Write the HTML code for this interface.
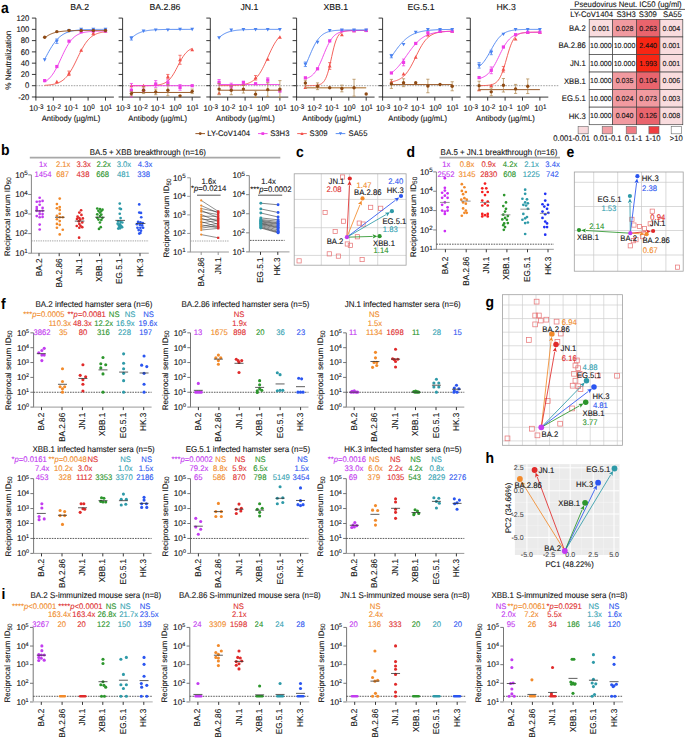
<!DOCTYPE html>
<html><head><meta charset="utf-8"><style>
html,body{margin:0;padding:0;background:#fff;}
svg{display:block;font-family:"Liberation Sans",sans-serif;text-rendering:geometricPrecision;}
</style></head><body>
<svg width="685" height="737" viewBox="0 0 685 737">
<rect width="685" height="737" fill="#fff"/>
<text transform="translate(1,12.8) scale(0.92,1)" font-size="15.2" text-anchor="start" fill="#000" font-weight="bold" >a</text>
<line x1="35.9" y1="18.1" x2="35.9" y2="97.1" stroke="#222" stroke-width="0.9" />
<line x1="35.45" y1="97.1" x2="113.9" y2="97.1" stroke="#222" stroke-width="0.9" />
<line x1="31.9" y1="96.97" x2="35.9" y2="96.97" stroke="#222" stroke-width="0.9" />
<text transform="translate(29.3,99.67) scale(0.95,1)" font-size="8.1" text-anchor="end" fill="#111" stroke="#111" stroke-width="0.1" >-20</text>
<line x1="31.9" y1="85.7" x2="35.9" y2="85.7" stroke="#222" stroke-width="0.9" />
<text transform="translate(29.3,88.4) scale(0.95,1)" font-size="8.1" text-anchor="end" fill="#111" stroke="#111" stroke-width="0.1" >0</text>
<line x1="31.9" y1="74.43" x2="35.9" y2="74.43" stroke="#222" stroke-width="0.9" />
<text transform="translate(29.3,77.13) scale(0.95,1)" font-size="8.1" text-anchor="end" fill="#111" stroke="#111" stroke-width="0.1" >20</text>
<line x1="31.9" y1="63.16" x2="35.9" y2="63.16" stroke="#222" stroke-width="0.9" />
<text transform="translate(29.3,65.86) scale(0.95,1)" font-size="8.1" text-anchor="end" fill="#111" stroke="#111" stroke-width="0.1" >40</text>
<line x1="31.9" y1="51.89" x2="35.9" y2="51.89" stroke="#222" stroke-width="0.9" />
<text transform="translate(29.3,54.59) scale(0.95,1)" font-size="8.1" text-anchor="end" fill="#111" stroke="#111" stroke-width="0.1" >60</text>
<line x1="31.9" y1="40.62" x2="35.9" y2="40.62" stroke="#222" stroke-width="0.9" />
<text transform="translate(29.3,43.32) scale(0.95,1)" font-size="8.1" text-anchor="end" fill="#111" stroke="#111" stroke-width="0.1" >80</text>
<line x1="31.9" y1="29.35" x2="35.9" y2="29.35" stroke="#222" stroke-width="0.9" />
<text transform="translate(29.3,32.05) scale(0.95,1)" font-size="8.1" text-anchor="end" fill="#111" stroke="#111" stroke-width="0.1" >100</text>
<line x1="31.9" y1="18.08" x2="35.9" y2="18.08" stroke="#222" stroke-width="0.9" />
<text transform="translate(29.3,20.78) scale(0.95,1)" font-size="8.1" text-anchor="end" fill="#111" stroke="#111" stroke-width="0.1" >120</text>
<line x1="35.9" y1="97.1" x2="35.9" y2="100.6" stroke="#222" stroke-width="0.9" />
<text transform="translate(36.4,111) scale(0.95,1)" font-size="8.3" text-anchor="middle" fill="#111" stroke="#111" stroke-width="0.1" >10<tspan font-size="6.7" dy="-2.3">-3</tspan></text>
<line x1="53.3" y1="97.1" x2="53.3" y2="100.6" stroke="#222" stroke-width="0.9" />
<text transform="translate(53.8,111) scale(0.95,1)" font-size="8.3" text-anchor="middle" fill="#111" stroke="#111" stroke-width="0.1" >10<tspan font-size="6.7" dy="-2.3">-2</tspan></text>
<line x1="70.7" y1="97.1" x2="70.7" y2="100.6" stroke="#222" stroke-width="0.9" />
<text transform="translate(71.2,111) scale(0.95,1)" font-size="8.3" text-anchor="middle" fill="#111" stroke="#111" stroke-width="0.1" >10<tspan font-size="6.7" dy="-2.3">-1</tspan></text>
<line x1="88.1" y1="97.1" x2="88.1" y2="100.6" stroke="#222" stroke-width="0.9" />
<text transform="translate(88.6,111) scale(0.95,1)" font-size="8.3" text-anchor="middle" fill="#111" stroke="#111" stroke-width="0.1" >10<tspan font-size="6.7" dy="-2.3">0</tspan></text>
<line x1="105.5" y1="97.1" x2="105.5" y2="100.6" stroke="#222" stroke-width="0.9" />
<text transform="translate(106,111) scale(0.95,1)" font-size="8.3" text-anchor="middle" fill="#111" stroke="#111" stroke-width="0.1" >10<tspan font-size="6.7" dy="-2.3">1</tspan></text>
<text transform="translate(71,120.5) scale(0.95,1)" font-size="8.1" text-anchor="middle" fill="#111" stroke="#111" stroke-width="0.1" >Antibody (µg/mL)</text>
<text x="79.7" y="9.6" font-size="8.7" text-anchor="middle" fill="#111" stroke="#111" stroke-width="0.1" >BA.2</text>
<line x1="35.9" y1="85.7" x2="123.9" y2="85.7" stroke="#8a8a8a" stroke-width="0.8" stroke-dasharray="1.6,1.1"/>
<polyline points="44.69,85.32 45.7,85.26 46.72,85.19 47.73,85.1 48.74,85 49.76,84.89 50.77,84.75 51.78,84.6 52.8,84.42 53.81,84.21 54.82,83.97 55.84,83.7 56.85,83.38 57.87,83.01 58.88,82.58 59.89,82.1 60.91,81.54 61.92,80.91 62.93,80.19 63.95,79.38 64.96,78.47 65.97,77.44 66.99,76.3 68,75.04 69.01,73.65 70.03,72.14 71.04,70.51 72.05,68.76 73.07,66.91 74.08,64.96 75.09,62.95 76.11,60.87 77.12,58.77 78.14,56.67 79.15,54.58 80.16,52.54 81.18,50.57 82.19,48.68 83.2,46.89 84.22,45.21 85.23,43.65 86.24,42.22 87.26,40.91 88.27,39.72 89.28,38.65 90.3,37.7 91.31,36.85 92.32,36.09 93.34,35.43 94.35,34.85 95.36,34.33 96.38,33.89 97.39,33.5 98.41,33.16 99.42,32.87 100.43,32.61 101.45,32.4 102.46,32.21 103.47,32.04 104.49,31.9 105.5,31.78" fill="none" stroke="#f2504a" stroke-width="0.9"/>
<path d="M56.85,79.86 L58.75,83.28 L54.95,83.28Z" fill="#f2504a"/>
<line x1="69.01" y1="71.05" x2="69.01" y2="75.56" stroke="#f2504a" stroke-width="0.75" />
<line x1="67.41" y1="71.05" x2="70.61" y2="71.05" stroke="#f2504a" stroke-width="0.75" />
<line x1="67.41" y1="75.56" x2="70.61" y2="75.56" stroke="#f2504a" stroke-width="0.75" />
<path d="M69.01,71.4 L70.91,74.82 L67.11,74.82Z" fill="#f2504a"/>
<path d="M81.18,48.3 L83.08,51.72 L79.28,51.72Z" fill="#f2504a"/>
<line x1="93.34" y1="31.6" x2="93.34" y2="34.98" stroke="#f2504a" stroke-width="0.75" />
<line x1="91.74" y1="31.6" x2="94.94" y2="31.6" stroke="#f2504a" stroke-width="0.75" />
<line x1="91.74" y1="34.98" x2="94.94" y2="34.98" stroke="#f2504a" stroke-width="0.75" />
<path d="M93.34,31.39 L95.24,34.81 L91.44,34.81Z" fill="#f2504a"/>
<path d="M105.5,29.14 L107.4,32.56 L103.6,32.56Z" fill="#f2504a"/>
<polyline points="44.69,81.93 45.7,81.33 46.72,80.63 47.73,79.84 48.74,78.95 49.76,77.93 50.77,76.8 51.78,75.53 52.8,74.13 53.81,72.6 54.82,70.93 55.84,69.13 56.85,67.22 57.87,65.2 58.88,63.1 59.89,60.94 60.91,58.75 61.92,56.55 62.93,54.38 63.95,52.26 64.96,50.21 65.97,48.26 66.99,46.42 68,44.7 69.01,43.12 70.03,41.67 71.04,40.36 72.05,39.18 73.07,38.13 74.08,37.19 75.09,36.37 76.11,35.64 77.12,35.01 78.14,34.46 79.15,33.98 80.16,33.56 81.18,33.2 82.19,32.89 83.2,32.62 84.22,32.39 85.23,32.2 86.24,32.03 87.26,31.88 88.27,31.76 89.28,31.65 90.3,31.56 91.31,31.49 92.32,31.42 93.34,31.36 94.35,31.32 95.36,31.28 96.38,31.24 97.39,31.21 98.41,31.19 99.42,31.16 100.43,31.15 101.45,31.13 102.46,31.12 103.47,31.11 104.49,31.1 105.5,31.09" fill="none" stroke="#ee3ce6" stroke-width="0.9"/>
<rect x="43.09" y="79.03" width="3.2" height="3.2" fill="#ee3ce6"/>
<rect x="55.25" y="64.94" width="3.2" height="3.2" fill="#ee3ce6"/>
<rect x="67.41" y="39.58" width="3.2" height="3.2" fill="#ee3ce6"/>
<rect x="79.58" y="30" width="3.2" height="3.2" fill="#ee3ce6"/>
<rect x="91.74" y="29.44" width="3.2" height="3.2" fill="#ee3ce6"/>
<rect x="103.9" y="29.44" width="3.2" height="3.2" fill="#ee3ce6"/>
<polyline points="44.69,59.18 45.7,57.29 46.72,55.41 47.73,53.54 48.74,51.71 49.76,49.93 50.77,48.21 51.78,46.57 52.8,45.01 53.81,43.54 54.82,42.16 55.84,40.88 56.85,39.7 57.87,38.61 58.88,37.62 59.89,36.72 60.91,35.9 61.92,35.16 62.93,34.5 63.95,33.91 64.96,33.38 65.97,32.9 66.99,32.48 68,32.11 69.01,31.78 70.03,31.48 71.04,31.22 72.05,31 73.07,30.79 74.08,30.62 75.09,30.46 76.11,30.32 77.12,30.2 78.14,30.1 79.15,30.01 80.16,29.92 81.18,29.85 82.19,29.79 83.2,29.74 84.22,29.69 85.23,29.65 86.24,29.61 87.26,29.58 88.27,29.55 89.28,29.52 90.3,29.5 91.31,29.48 92.32,29.47 93.34,29.45 94.35,29.44 95.36,29.43 96.38,29.42 97.39,29.41 98.41,29.4 99.42,29.4 100.43,29.39 101.45,29.38 102.46,29.38 103.47,29.38 104.49,29.37 105.5,29.37" fill="none" stroke="#4a82f0" stroke-width="0.9"/>
<path d="M44.69,61.68 L46.59,58.26 L42.79,58.26Z" fill="#4a82f0"/>
<line x1="56.85" y1="38.93" x2="56.85" y2="43.44" stroke="#4a82f0" stroke-width="0.75" />
<line x1="55.25" y1="38.93" x2="58.45" y2="38.93" stroke="#4a82f0" stroke-width="0.75" />
<line x1="55.25" y1="43.44" x2="58.45" y2="43.44" stroke="#4a82f0" stroke-width="0.75" />
<path d="M56.85,43.08 L58.75,39.66 L54.95,39.66Z" fill="#4a82f0"/>
<path d="M69.01,32.38 L70.91,28.96 L67.11,28.96Z" fill="#4a82f0"/>
<path d="M81.18,31.25 L83.08,27.83 L79.28,27.83Z" fill="#4a82f0"/>
<path d="M93.34,31.25 L95.24,27.83 L91.44,27.83Z" fill="#4a82f0"/>
<path d="M105.5,31.25 L107.4,27.83 L103.6,27.83Z" fill="#4a82f0"/>
<polyline points="44.69,37.94 45.7,37.12 46.72,36.37 47.73,35.7 48.74,35.1 49.76,34.56 50.77,34.08 51.78,33.66 52.8,33.28 53.81,32.94 54.82,32.65 55.84,32.38 56.85,32.15 57.87,31.95 58.88,31.77 59.89,31.61 60.91,31.47 61.92,31.35 62.93,31.24 63.95,31.14 64.96,31.06 65.97,30.99 66.99,30.92 68,30.87 69.01,30.82 70.03,30.78 71.04,30.74 72.05,30.71 73.07,30.68 74.08,30.65 75.09,30.63 76.11,30.61 77.12,30.59 78.14,30.58 79.15,30.57 80.16,30.56 81.18,30.55 82.19,30.54 83.2,30.53 84.22,30.52 85.23,30.52 86.24,30.51 87.26,30.51 88.27,30.5 89.28,30.5 90.3,30.5 91.31,30.5 92.32,30.49 93.34,30.49 94.35,30.49 95.36,30.49 96.38,30.49 97.39,30.49 98.41,30.48 99.42,30.48 100.43,30.48 101.45,30.48 102.46,30.48 103.47,30.48 104.49,30.48 105.5,30.48" fill="none" stroke="#8e4a14" stroke-width="0.9"/>
<circle cx="44.69" cy="37.24" r="1.7" fill="#8e4a14"/>
<circle cx="56.85" cy="31.6" r="1.7" fill="#8e4a14"/>
<circle cx="69.01" cy="30.48" r="1.7" fill="#8e4a14"/>
<circle cx="81.18" cy="30.48" r="1.7" fill="#8e4a14"/>
<circle cx="93.34" cy="30.48" r="1.7" fill="#8e4a14"/>
<circle cx="105.5" cy="30.48" r="1.7" fill="#8e4a14"/>
<line x1="122.6" y1="18.1" x2="122.6" y2="97.1" stroke="#222" stroke-width="0.9" />
<line x1="122.15" y1="97.1" x2="200.6" y2="97.1" stroke="#222" stroke-width="0.9" />
<line x1="118.6" y1="96.97" x2="122.6" y2="96.97" stroke="#222" stroke-width="0.9" />
<line x1="118.6" y1="85.7" x2="122.6" y2="85.7" stroke="#222" stroke-width="0.9" />
<line x1="118.6" y1="74.43" x2="122.6" y2="74.43" stroke="#222" stroke-width="0.9" />
<line x1="118.6" y1="63.16" x2="122.6" y2="63.16" stroke="#222" stroke-width="0.9" />
<line x1="118.6" y1="51.89" x2="122.6" y2="51.89" stroke="#222" stroke-width="0.9" />
<line x1="118.6" y1="40.62" x2="122.6" y2="40.62" stroke="#222" stroke-width="0.9" />
<line x1="118.6" y1="29.35" x2="122.6" y2="29.35" stroke="#222" stroke-width="0.9" />
<line x1="118.6" y1="18.08" x2="122.6" y2="18.08" stroke="#222" stroke-width="0.9" />
<line x1="122.6" y1="97.1" x2="122.6" y2="100.6" stroke="#222" stroke-width="0.9" />
<text transform="translate(123.1,111) scale(0.95,1)" font-size="8.3" text-anchor="middle" fill="#111" stroke="#111" stroke-width="0.1" >10<tspan font-size="6.7" dy="-2.3">-3</tspan></text>
<line x1="140" y1="97.1" x2="140" y2="100.6" stroke="#222" stroke-width="0.9" />
<text transform="translate(140.5,111) scale(0.95,1)" font-size="8.3" text-anchor="middle" fill="#111" stroke="#111" stroke-width="0.1" >10<tspan font-size="6.7" dy="-2.3">-2</tspan></text>
<line x1="157.4" y1="97.1" x2="157.4" y2="100.6" stroke="#222" stroke-width="0.9" />
<text transform="translate(157.9,111) scale(0.95,1)" font-size="8.3" text-anchor="middle" fill="#111" stroke="#111" stroke-width="0.1" >10<tspan font-size="6.7" dy="-2.3">-1</tspan></text>
<line x1="174.8" y1="97.1" x2="174.8" y2="100.6" stroke="#222" stroke-width="0.9" />
<text transform="translate(175.3,111) scale(0.95,1)" font-size="8.3" text-anchor="middle" fill="#111" stroke="#111" stroke-width="0.1" >10<tspan font-size="6.7" dy="-2.3">0</tspan></text>
<line x1="192.2" y1="97.1" x2="192.2" y2="100.6" stroke="#222" stroke-width="0.9" />
<text transform="translate(192.7,111) scale(0.95,1)" font-size="8.3" text-anchor="middle" fill="#111" stroke="#111" stroke-width="0.1" >10<tspan font-size="6.7" dy="-2.3">1</tspan></text>
<text transform="translate(157.7,120.5) scale(0.95,1)" font-size="8.1" text-anchor="middle" fill="#111" stroke="#111" stroke-width="0.1" >Antibody (µg/mL)</text>
<text x="165" y="9.6" font-size="8.7" text-anchor="middle" fill="#111" stroke="#111" stroke-width="0.1" >BA.2.86</text>
<line x1="122.6" y1="85.7" x2="210.6" y2="85.7" stroke="#8a8a8a" stroke-width="0.8" stroke-dasharray="1.6,1.1"/>
<polyline points="131.39,85.7 132.4,85.7 133.42,85.69 134.43,85.69 135.44,85.69 136.46,85.69 137.47,85.69 138.48,85.68 139.5,85.68 140.51,85.68 141.52,85.67 142.54,85.66 143.55,85.66 144.57,85.65 145.58,85.64 146.59,85.62 147.61,85.6 148.62,85.58 149.63,85.56 150.65,85.52 151.66,85.48 152.67,85.44 153.69,85.38 154.7,85.31 155.71,85.22 156.73,85.11 157.74,84.99 158.75,84.83 159.77,84.64 160.78,84.41 161.79,84.14 162.81,83.81 163.82,83.41 164.84,82.94 165.85,82.37 166.86,81.71 167.88,80.93 168.89,80.02 169.9,78.96 170.92,77.77 171.93,76.41 172.94,74.91 173.96,73.26 174.97,71.49 175.98,69.62 177,67.67 178.01,65.69 179.02,63.72 180.04,61.79 181.05,59.94 182.06,58.2 183.08,56.59 184.09,55.13 185.11,53.83 186.12,52.67 187.13,51.66 188.15,50.79 189.16,50.04 190.17,49.41 191.19,48.87 192.2,48.42" fill="none" stroke="#f2504a" stroke-width="0.9"/>
<path d="M131.39,83.8 L133.29,87.22 L129.49,87.22Z" fill="#f2504a"/>
<path d="M143.55,83.8 L145.45,87.22 L141.65,87.22Z" fill="#f2504a"/>
<path d="M155.71,82.67 L157.61,86.09 L153.81,86.09Z" fill="#f2504a"/>
<line x1="167.88" y1="74.43" x2="167.88" y2="78.94" stroke="#f2504a" stroke-width="0.75" />
<line x1="166.28" y1="74.43" x2="169.48" y2="74.43" stroke="#f2504a" stroke-width="0.75" />
<line x1="166.28" y1="78.94" x2="169.48" y2="78.94" stroke="#f2504a" stroke-width="0.75" />
<path d="M167.88,74.78 L169.78,78.2 L165.98,78.2Z" fill="#f2504a"/>
<line x1="180.04" y1="55.27" x2="180.04" y2="64.29" stroke="#f2504a" stroke-width="0.75" />
<line x1="178.44" y1="55.27" x2="181.64" y2="55.27" stroke="#f2504a" stroke-width="0.75" />
<line x1="178.44" y1="64.29" x2="181.64" y2="64.29" stroke="#f2504a" stroke-width="0.75" />
<path d="M180.04,57.88 L181.94,61.3 L178.14,61.3Z" fill="#f2504a"/>
<path d="M192.2,47.74 L194.1,51.16 L190.3,51.16Z" fill="#f2504a"/>
<line x1="131.39" y1="85.7" x2="192.2" y2="85.7" stroke="#ee3ce6" stroke-width="0.9" />
<line x1="131.39" y1="83.45" x2="131.39" y2="96.97" stroke="#ee3ce6" stroke-width="0.75" />
<line x1="129.79" y1="83.45" x2="132.99" y2="83.45" stroke="#ee3ce6" stroke-width="0.75" />
<line x1="129.79" y1="96.97" x2="132.99" y2="96.97" stroke="#ee3ce6" stroke-width="0.75" />
<rect x="129.79" y="88.61" width="3.2" height="3.2" fill="#ee3ce6"/>
<rect x="141.95" y="88.61" width="3.2" height="3.2" fill="#ee3ce6"/>
<line x1="155.71" y1="80.63" x2="155.71" y2="87.39" stroke="#ee3ce6" stroke-width="0.75" />
<line x1="154.11" y1="80.63" x2="157.31" y2="80.63" stroke="#ee3ce6" stroke-width="0.75" />
<line x1="154.11" y1="87.39" x2="157.31" y2="87.39" stroke="#ee3ce6" stroke-width="0.75" />
<rect x="154.11" y="82.41" width="3.2" height="3.2" fill="#ee3ce6"/>
<line x1="167.88" y1="80.06" x2="167.88" y2="85.7" stroke="#ee3ce6" stroke-width="0.75" />
<line x1="166.28" y1="80.06" x2="169.48" y2="80.06" stroke="#ee3ce6" stroke-width="0.75" />
<line x1="166.28" y1="85.7" x2="169.48" y2="85.7" stroke="#ee3ce6" stroke-width="0.75" />
<rect x="166.28" y="81.28" width="3.2" height="3.2" fill="#ee3ce6"/>
<line x1="180.04" y1="84.57" x2="180.04" y2="90.21" stroke="#ee3ce6" stroke-width="0.75" />
<line x1="178.44" y1="84.57" x2="181.64" y2="84.57" stroke="#ee3ce6" stroke-width="0.75" />
<line x1="178.44" y1="90.21" x2="181.64" y2="90.21" stroke="#ee3ce6" stroke-width="0.75" />
<rect x="178.44" y="85.79" width="3.2" height="3.2" fill="#ee3ce6"/>
<rect x="190.6" y="84.1" width="3.2" height="3.2" fill="#ee3ce6"/>
<polyline points="131.39,38.25 132.4,37.29 133.42,36.42 134.43,35.63 135.44,34.92 136.46,34.28 137.47,33.71 138.48,33.2 139.5,32.75 140.51,32.34 141.52,31.98 142.54,31.67 143.55,31.39 144.57,31.14 145.58,30.92 146.59,30.73 147.61,30.56 148.62,30.41 149.63,30.28 150.65,30.16 151.66,30.06 152.67,29.97 153.69,29.9 154.7,29.83 155.71,29.77 156.73,29.72 157.74,29.67 158.75,29.63 159.77,29.6 160.78,29.57 161.79,29.54 162.81,29.51 163.82,29.49 164.84,29.48 165.85,29.46 166.86,29.45 167.88,29.43 168.89,29.42 169.9,29.41 170.92,29.41 171.93,29.4 172.94,29.39 173.96,29.39 174.97,29.38 175.98,29.38 177,29.38 178.01,29.37 179.02,29.37 180.04,29.37 181.05,29.36 182.06,29.36 183.08,29.36 184.09,29.36 185.11,29.36 186.12,29.36 187.13,29.36 188.15,29.36 189.16,29.36 190.17,29.35 191.19,29.35 192.2,29.35" fill="none" stroke="#4a82f0" stroke-width="0.9"/>
<line x1="131.39" y1="36.68" x2="131.39" y2="40.06" stroke="#4a82f0" stroke-width="0.75" />
<line x1="129.79" y1="36.68" x2="132.99" y2="36.68" stroke="#4a82f0" stroke-width="0.75" />
<line x1="129.79" y1="40.06" x2="132.99" y2="40.06" stroke="#4a82f0" stroke-width="0.75" />
<path d="M131.39,40.27 L133.29,36.85 L129.49,36.85Z" fill="#4a82f0"/>
<path d="M143.55,32.94 L145.45,29.52 L141.65,29.52Z" fill="#4a82f0"/>
<path d="M155.71,31.81 L157.61,28.39 L153.81,28.39Z" fill="#4a82f0"/>
<path d="M167.88,31.81 L169.78,28.39 L165.98,28.39Z" fill="#4a82f0"/>
<path d="M180.04,31.25 L181.94,27.83 L178.14,27.83Z" fill="#4a82f0"/>
<path d="M192.2,31.25 L194.1,27.83 L190.3,27.83Z" fill="#4a82f0"/>
<line x1="131.39" y1="92.46" x2="192.2" y2="92.46" stroke="#8e4a14" stroke-width="0.9" />
<line x1="131.39" y1="91.34" x2="131.39" y2="95.84" stroke="#b08850" stroke-width="0.75" />
<line x1="129.79" y1="91.34" x2="132.99" y2="91.34" stroke="#b08850" stroke-width="0.75" />
<line x1="129.79" y1="95.84" x2="132.99" y2="95.84" stroke="#b08850" stroke-width="0.75" />
<circle cx="131.39" cy="93.59" r="1.7" fill="#8e4a14"/>
<line x1="143.55" y1="86.83" x2="143.55" y2="93.59" stroke="#b08850" stroke-width="0.75" />
<line x1="141.95" y1="86.83" x2="145.15" y2="86.83" stroke="#b08850" stroke-width="0.75" />
<line x1="141.95" y1="93.59" x2="145.15" y2="93.59" stroke="#b08850" stroke-width="0.75" />
<circle cx="143.55" cy="90.21" r="1.7" fill="#8e4a14"/>
<line x1="155.71" y1="89.08" x2="155.71" y2="94.72" stroke="#b08850" stroke-width="0.75" />
<line x1="154.11" y1="89.08" x2="157.31" y2="89.08" stroke="#b08850" stroke-width="0.75" />
<line x1="154.11" y1="94.72" x2="157.31" y2="94.72" stroke="#b08850" stroke-width="0.75" />
<circle cx="155.71" cy="91.9" r="1.7" fill="#8e4a14"/>
<line x1="167.88" y1="84.57" x2="167.88" y2="95.84" stroke="#b08850" stroke-width="0.75" />
<line x1="166.28" y1="84.57" x2="169.48" y2="84.57" stroke="#b08850" stroke-width="0.75" />
<line x1="166.28" y1="95.84" x2="169.48" y2="95.84" stroke="#b08850" stroke-width="0.75" />
<circle cx="167.88" cy="90.21" r="1.7" fill="#8e4a14"/>
<circle cx="180.04" cy="95.84" r="1.7" fill="#8e4a14"/>
<line x1="192.2" y1="89.08" x2="192.2" y2="93.59" stroke="#b08850" stroke-width="0.75" />
<line x1="190.6" y1="89.08" x2="193.8" y2="89.08" stroke="#b08850" stroke-width="0.75" />
<line x1="190.6" y1="93.59" x2="193.8" y2="93.59" stroke="#b08850" stroke-width="0.75" />
<circle cx="192.2" cy="91.34" r="1.7" fill="#8e4a14"/>
<line x1="210.3" y1="18.1" x2="210.3" y2="97.1" stroke="#222" stroke-width="0.9" />
<line x1="209.85" y1="97.1" x2="288.3" y2="97.1" stroke="#222" stroke-width="0.9" />
<line x1="206.3" y1="96.97" x2="210.3" y2="96.97" stroke="#222" stroke-width="0.9" />
<line x1="206.3" y1="85.7" x2="210.3" y2="85.7" stroke="#222" stroke-width="0.9" />
<line x1="206.3" y1="74.43" x2="210.3" y2="74.43" stroke="#222" stroke-width="0.9" />
<line x1="206.3" y1="63.16" x2="210.3" y2="63.16" stroke="#222" stroke-width="0.9" />
<line x1="206.3" y1="51.89" x2="210.3" y2="51.89" stroke="#222" stroke-width="0.9" />
<line x1="206.3" y1="40.62" x2="210.3" y2="40.62" stroke="#222" stroke-width="0.9" />
<line x1="206.3" y1="29.35" x2="210.3" y2="29.35" stroke="#222" stroke-width="0.9" />
<line x1="206.3" y1="18.08" x2="210.3" y2="18.08" stroke="#222" stroke-width="0.9" />
<line x1="210.3" y1="97.1" x2="210.3" y2="100.6" stroke="#222" stroke-width="0.9" />
<text transform="translate(210.8,111) scale(0.95,1)" font-size="8.3" text-anchor="middle" fill="#111" stroke="#111" stroke-width="0.1" >10<tspan font-size="6.7" dy="-2.3">-3</tspan></text>
<line x1="227.7" y1="97.1" x2="227.7" y2="100.6" stroke="#222" stroke-width="0.9" />
<text transform="translate(228.2,111) scale(0.95,1)" font-size="8.3" text-anchor="middle" fill="#111" stroke="#111" stroke-width="0.1" >10<tspan font-size="6.7" dy="-2.3">-2</tspan></text>
<line x1="245.1" y1="97.1" x2="245.1" y2="100.6" stroke="#222" stroke-width="0.9" />
<text transform="translate(245.6,111) scale(0.95,1)" font-size="8.3" text-anchor="middle" fill="#111" stroke="#111" stroke-width="0.1" >10<tspan font-size="6.7" dy="-2.3">-1</tspan></text>
<line x1="262.5" y1="97.1" x2="262.5" y2="100.6" stroke="#222" stroke-width="0.9" />
<text transform="translate(263,111) scale(0.95,1)" font-size="8.3" text-anchor="middle" fill="#111" stroke="#111" stroke-width="0.1" >10<tspan font-size="6.7" dy="-2.3">0</tspan></text>
<line x1="279.9" y1="97.1" x2="279.9" y2="100.6" stroke="#222" stroke-width="0.9" />
<text transform="translate(280.4,111) scale(0.95,1)" font-size="8.3" text-anchor="middle" fill="#111" stroke="#111" stroke-width="0.1" >10<tspan font-size="6.7" dy="-2.3">1</tspan></text>
<text transform="translate(245.4,120.5) scale(0.95,1)" font-size="8.1" text-anchor="middle" fill="#111" stroke="#111" stroke-width="0.1" >Antibody (µg/mL)</text>
<text x="249.4" y="9.6" font-size="8.7" text-anchor="middle" fill="#111" stroke="#111" stroke-width="0.1" >JN.1</text>
<line x1="210.3" y1="85.7" x2="298.3" y2="85.7" stroke="#8a8a8a" stroke-width="0.8" stroke-dasharray="1.6,1.1"/>
<polyline points="219.09,85.68 220.1,85.67 221.12,85.67 222.13,85.66 223.14,85.65 224.16,85.64 225.17,85.63 226.18,85.62 227.2,85.61 228.21,85.59 229.22,85.58 230.24,85.55 231.25,85.53 232.27,85.5 233.28,85.46 234.29,85.42 235.31,85.38 236.32,85.32 237.33,85.25 238.35,85.18 239.36,85.08 240.37,84.98 241.39,84.85 242.4,84.71 243.41,84.54 244.43,84.34 245.44,84.11 246.45,83.84 247.47,83.53 248.48,83.17 249.49,82.75 250.51,82.27 251.52,81.71 252.54,81.07 253.55,80.34 254.56,79.51 255.58,78.57 256.59,77.5 257.6,76.31 258.62,74.98 259.63,73.51 260.64,71.91 261.66,70.16 262.67,68.29 263.68,66.29 264.7,64.2 265.71,62.02 266.72,59.79 267.74,57.53 268.75,55.26 269.76,53.03 270.78,50.85 271.79,48.76 272.81,46.76 273.82,44.89 274.83,43.14 275.85,41.54 276.86,40.07 277.87,38.74 278.89,37.55 279.9,36.48" fill="none" stroke="#f2504a" stroke-width="0.9"/>
<path d="M219.09,91.13 L220.99,94.55 L217.19,94.55Z" fill="#f2504a"/>
<path d="M231.25,83.8 L233.15,87.22 L229.35,87.22Z" fill="#f2504a"/>
<path d="M243.41,82.67 L245.31,86.09 L241.51,86.09Z" fill="#f2504a"/>
<line x1="255.58" y1="75.56" x2="255.58" y2="80.06" stroke="#f2504a" stroke-width="0.75" />
<line x1="253.98" y1="75.56" x2="257.18" y2="75.56" stroke="#f2504a" stroke-width="0.75" />
<line x1="253.98" y1="80.06" x2="257.18" y2="80.06" stroke="#f2504a" stroke-width="0.75" />
<path d="M255.58,75.91 L257.48,79.33 L253.68,79.33Z" fill="#f2504a"/>
<path d="M267.74,57.32 L269.64,60.74 L265.84,60.74Z" fill="#f2504a"/>
<path d="M279.9,35.34 L281.8,38.76 L278,38.76Z" fill="#f2504a"/>
<line x1="219.09" y1="84.57" x2="279.9" y2="84.57" stroke="#ee3ce6" stroke-width="0.9" />
<line x1="219.09" y1="79.5" x2="219.09" y2="85.14" stroke="#ee3ce6" stroke-width="0.75" />
<line x1="217.49" y1="79.5" x2="220.69" y2="79.5" stroke="#ee3ce6" stroke-width="0.75" />
<line x1="217.49" y1="85.14" x2="220.69" y2="85.14" stroke="#ee3ce6" stroke-width="0.75" />
<rect x="217.49" y="80.72" width="3.2" height="3.2" fill="#ee3ce6"/>
<line x1="231.25" y1="83.16" x2="231.25" y2="88.8" stroke="#ee3ce6" stroke-width="0.75" />
<line x1="229.65" y1="83.16" x2="232.85" y2="83.16" stroke="#ee3ce6" stroke-width="0.75" />
<line x1="229.65" y1="88.8" x2="232.85" y2="88.8" stroke="#ee3ce6" stroke-width="0.75" />
<rect x="229.65" y="84.38" width="3.2" height="3.2" fill="#ee3ce6"/>
<rect x="241.81" y="80.72" width="3.2" height="3.2" fill="#ee3ce6"/>
<rect x="253.98" y="82.13" width="3.2" height="3.2" fill="#ee3ce6"/>
<line x1="267.74" y1="77.81" x2="267.74" y2="82.32" stroke="#ee3ce6" stroke-width="0.75" />
<line x1="266.14" y1="77.81" x2="269.34" y2="77.81" stroke="#ee3ce6" stroke-width="0.75" />
<line x1="266.14" y1="82.32" x2="269.34" y2="82.32" stroke="#ee3ce6" stroke-width="0.75" />
<rect x="266.14" y="78.47" width="3.2" height="3.2" fill="#ee3ce6"/>
<rect x="278.3" y="89.45" width="3.2" height="3.2" fill="#ee3ce6"/>
<polyline points="219.09,37.61 220.1,36.71 221.12,35.9 222.13,35.16 223.14,34.5 224.16,33.9 225.17,33.37 226.18,32.9 227.2,32.48 228.21,32.1 229.22,31.77 230.24,31.48 231.25,31.22 232.27,30.99 233.28,30.79 234.29,30.62 235.31,30.46 236.32,30.32 237.33,30.2 238.35,30.1 239.36,30 240.37,29.92 241.39,29.85 242.4,29.79 243.41,29.73 244.43,29.69 245.44,29.64 246.45,29.61 247.47,29.58 248.48,29.55 249.49,29.52 250.51,29.5 251.52,29.48 252.54,29.47 253.55,29.45 254.56,29.44 255.58,29.43 256.59,29.42 257.6,29.41 258.62,29.4 259.63,29.4 260.64,29.39 261.66,29.38 262.67,29.38 263.68,29.38 264.7,29.37 265.71,29.37 266.72,29.37 267.74,29.37 268.75,29.36 269.76,29.36 270.78,29.36 271.79,29.36 272.81,29.36 273.82,29.36 274.83,29.36 275.85,29.36 276.86,29.35 277.87,29.35 278.89,29.35 279.9,29.35" fill="none" stroke="#4a82f0" stroke-width="0.9"/>
<path d="M219.09,39.7 L220.99,36.28 L217.19,36.28Z" fill="#4a82f0"/>
<path d="M231.25,32.04 L233.15,28.62 L229.35,28.62Z" fill="#4a82f0"/>
<path d="M243.41,31.53 L245.31,28.11 L241.51,28.11Z" fill="#4a82f0"/>
<path d="M255.58,31.53 L257.48,28.11 L253.68,28.11Z" fill="#4a82f0"/>
<path d="M267.74,31.53 L269.64,28.11 L265.84,28.11Z" fill="#4a82f0"/>
<path d="M279.9,31.53 L281.8,28.11 L278,28.11Z" fill="#4a82f0"/>
<line x1="219.09" y1="90.21" x2="279.9" y2="90.21" stroke="#8e4a14" stroke-width="0.9" />
<line x1="219.09" y1="83.45" x2="219.09" y2="94.72" stroke="#b08850" stroke-width="0.75" />
<line x1="217.49" y1="83.45" x2="220.69" y2="83.45" stroke="#b08850" stroke-width="0.75" />
<line x1="217.49" y1="94.72" x2="220.69" y2="94.72" stroke="#b08850" stroke-width="0.75" />
<circle cx="219.09" cy="89.08" r="1.7" fill="#8e4a14"/>
<line x1="231.25" y1="85.7" x2="231.25" y2="94.72" stroke="#b08850" stroke-width="0.75" />
<line x1="229.65" y1="85.7" x2="232.85" y2="85.7" stroke="#b08850" stroke-width="0.75" />
<line x1="229.65" y1="94.72" x2="232.85" y2="94.72" stroke="#b08850" stroke-width="0.75" />
<circle cx="231.25" cy="90.21" r="1.7" fill="#8e4a14"/>
<line x1="243.41" y1="85.14" x2="243.41" y2="93.03" stroke="#b08850" stroke-width="0.75" />
<line x1="241.81" y1="85.14" x2="245.01" y2="85.14" stroke="#b08850" stroke-width="0.75" />
<line x1="241.81" y1="93.03" x2="245.01" y2="93.03" stroke="#b08850" stroke-width="0.75" />
<circle cx="243.41" cy="89.08" r="1.7" fill="#8e4a14"/>
<line x1="255.58" y1="90.77" x2="255.58" y2="97.53" stroke="#b08850" stroke-width="0.75" />
<line x1="253.98" y1="90.77" x2="257.18" y2="90.77" stroke="#b08850" stroke-width="0.75" />
<line x1="253.98" y1="97.53" x2="257.18" y2="97.53" stroke="#b08850" stroke-width="0.75" />
<circle cx="255.58" cy="94.15" r="1.7" fill="#8e4a14"/>
<line x1="267.74" y1="82.88" x2="267.74" y2="96.41" stroke="#b08850" stroke-width="0.75" />
<line x1="266.14" y1="82.88" x2="269.34" y2="82.88" stroke="#b08850" stroke-width="0.75" />
<line x1="266.14" y1="96.41" x2="269.34" y2="96.41" stroke="#b08850" stroke-width="0.75" />
<circle cx="267.74" cy="89.64" r="1.7" fill="#8e4a14"/>
<line x1="279.9" y1="80.63" x2="279.9" y2="97.53" stroke="#b08850" stroke-width="0.75" />
<line x1="278.3" y1="80.63" x2="281.5" y2="80.63" stroke="#b08850" stroke-width="0.75" />
<line x1="278.3" y1="97.53" x2="281.5" y2="97.53" stroke="#b08850" stroke-width="0.75" />
<circle cx="279.9" cy="89.08" r="1.7" fill="#8e4a14"/>
<line x1="296.6" y1="18.1" x2="296.6" y2="97.1" stroke="#222" stroke-width="0.9" />
<line x1="296.15" y1="97.1" x2="374.6" y2="97.1" stroke="#222" stroke-width="0.9" />
<line x1="292.6" y1="96.97" x2="296.6" y2="96.97" stroke="#222" stroke-width="0.9" />
<line x1="292.6" y1="85.7" x2="296.6" y2="85.7" stroke="#222" stroke-width="0.9" />
<line x1="292.6" y1="74.43" x2="296.6" y2="74.43" stroke="#222" stroke-width="0.9" />
<line x1="292.6" y1="63.16" x2="296.6" y2="63.16" stroke="#222" stroke-width="0.9" />
<line x1="292.6" y1="51.89" x2="296.6" y2="51.89" stroke="#222" stroke-width="0.9" />
<line x1="292.6" y1="40.62" x2="296.6" y2="40.62" stroke="#222" stroke-width="0.9" />
<line x1="292.6" y1="29.35" x2="296.6" y2="29.35" stroke="#222" stroke-width="0.9" />
<line x1="292.6" y1="18.08" x2="296.6" y2="18.08" stroke="#222" stroke-width="0.9" />
<line x1="296.6" y1="97.1" x2="296.6" y2="100.6" stroke="#222" stroke-width="0.9" />
<text transform="translate(297.1,111) scale(0.95,1)" font-size="8.3" text-anchor="middle" fill="#111" stroke="#111" stroke-width="0.1" >10<tspan font-size="6.7" dy="-2.3">-3</tspan></text>
<line x1="314" y1="97.1" x2="314" y2="100.6" stroke="#222" stroke-width="0.9" />
<text transform="translate(314.5,111) scale(0.95,1)" font-size="8.3" text-anchor="middle" fill="#111" stroke="#111" stroke-width="0.1" >10<tspan font-size="6.7" dy="-2.3">-2</tspan></text>
<line x1="331.4" y1="97.1" x2="331.4" y2="100.6" stroke="#222" stroke-width="0.9" />
<text transform="translate(331.9,111) scale(0.95,1)" font-size="8.3" text-anchor="middle" fill="#111" stroke="#111" stroke-width="0.1" >10<tspan font-size="6.7" dy="-2.3">-1</tspan></text>
<line x1="348.8" y1="97.1" x2="348.8" y2="100.6" stroke="#222" stroke-width="0.9" />
<text transform="translate(349.3,111) scale(0.95,1)" font-size="8.3" text-anchor="middle" fill="#111" stroke="#111" stroke-width="0.1" >10<tspan font-size="6.7" dy="-2.3">0</tspan></text>
<line x1="366.2" y1="97.1" x2="366.2" y2="100.6" stroke="#222" stroke-width="0.9" />
<text transform="translate(366.7,111) scale(0.95,1)" font-size="8.3" text-anchor="middle" fill="#111" stroke="#111" stroke-width="0.1" >10<tspan font-size="6.7" dy="-2.3">1</tspan></text>
<text transform="translate(331.7,120.5) scale(0.95,1)" font-size="8.1" text-anchor="middle" fill="#111" stroke="#111" stroke-width="0.1" >Antibody (µg/mL)</text>
<text x="335.8" y="9.6" font-size="8.7" text-anchor="middle" fill="#111" stroke="#111" stroke-width="0.1" >XBB.1</text>
<line x1="296.6" y1="85.7" x2="384.6" y2="85.7" stroke="#8a8a8a" stroke-width="0.8" stroke-dasharray="1.6,1.1"/>
<polyline points="305.39,85.69 306.4,85.69 307.42,85.68 308.43,85.67 309.44,85.66 310.46,85.65 311.47,85.62 312.48,85.59 313.5,85.55 314.51,85.49 315.52,85.41 316.54,85.3 317.55,85.14 318.57,84.92 319.58,84.62 320.59,84.2 321.61,83.62 322.62,82.83 323.63,81.77 324.65,80.36 325.66,78.51 326.67,76.14 327.69,73.19 328.7,69.66 329.71,65.6 330.73,61.15 331.74,56.53 332.75,52 333.77,47.79 334.78,44.08 335.79,40.94 336.81,38.38 337.82,36.37 338.84,34.82 339.85,33.66 340.86,32.79 341.88,32.15 342.89,31.68 343.9,31.35 344.92,31.1 345.93,30.92 346.94,30.8 347.96,30.71 348.97,30.64 349.98,30.59 351,30.56 352.01,30.54 353.02,30.52 354.04,30.51 355.05,30.5 356.06,30.49 357.08,30.49 358.09,30.49 359.11,30.48 360.12,30.48 361.13,30.48 362.15,30.48 363.16,30.48 364.17,30.48 365.19,30.48 366.2,30.48" fill="none" stroke="#f2504a" stroke-width="0.9"/>
<path d="M305.39,85.49 L307.29,88.91 L303.49,88.91Z" fill="#f2504a"/>
<path d="M317.55,83.8 L319.45,87.22 L315.65,87.22Z" fill="#f2504a"/>
<line x1="329.71" y1="62.6" x2="329.71" y2="69.36" stroke="#f2504a" stroke-width="0.75" />
<line x1="328.11" y1="62.6" x2="331.31" y2="62.6" stroke="#f2504a" stroke-width="0.75" />
<line x1="328.11" y1="69.36" x2="331.31" y2="69.36" stroke="#f2504a" stroke-width="0.75" />
<path d="M329.71,64.08 L331.61,67.5 L327.81,67.5Z" fill="#f2504a"/>
<path d="M341.88,32.8 L343.78,36.22 L339.98,36.22Z" fill="#f2504a"/>
<path d="M354.04,28.8 L355.94,32.22 L352.14,32.22Z" fill="#f2504a"/>
<path d="M366.2,28.58 L368.1,32 L364.3,32Z" fill="#f2504a"/>
<polyline points="305.39,78.73 306.4,78.44 307.42,78.1 308.43,77.68 309.44,77.18 310.46,76.58 311.47,75.87 312.48,75.03 313.5,74.04 314.51,72.9 315.52,71.57 316.54,70.06 317.55,68.36 318.57,66.46 319.58,64.39 320.59,62.16 321.61,59.8 322.62,57.35 323.63,54.86 324.65,52.38 325.66,49.96 326.67,47.64 327.69,45.45 328.7,43.44 329.71,41.61 330.73,39.97 331.74,38.52 332.75,37.25 333.77,36.16 334.78,35.22 335.79,34.43 336.81,33.75 337.82,33.19 338.84,32.72 339.85,32.32 340.86,32 341.88,31.73 342.89,31.5 343.9,31.32 344.92,31.17 345.93,31.04 346.94,30.94 347.96,30.86 348.97,30.79 349.98,30.73 351,30.69 352.01,30.65 353.02,30.62 354.04,30.59 355.05,30.57 356.06,30.55 357.08,30.54 358.09,30.53 359.11,30.52 360.12,30.51 361.13,30.51 362.15,30.5 363.16,30.5 364.17,30.49 365.19,30.49 366.2,30.49" fill="none" stroke="#ee3ce6" stroke-width="0.9"/>
<rect x="303.79" y="76.21" width="3.2" height="3.2" fill="#ee3ce6"/>
<rect x="315.95" y="67.2" width="3.2" height="3.2" fill="#ee3ce6"/>
<rect x="328.11" y="39.3" width="3.2" height="3.2" fill="#ee3ce6"/>
<rect x="340.28" y="29.1" width="3.2" height="3.2" fill="#ee3ce6"/>
<rect x="352.44" y="29.1" width="3.2" height="3.2" fill="#ee3ce6"/>
<rect x="364.6" y="28.88" width="3.2" height="3.2" fill="#ee3ce6"/>
<polyline points="305.39,65.68 306.4,63.39 307.42,61.02 308.43,58.6 309.44,56.17 310.46,53.77 311.47,51.42 312.48,49.17 313.5,47.03 314.51,45.04 315.52,43.19 316.54,41.51 317.55,39.99 318.57,38.63 319.58,37.42 320.59,36.36 321.61,35.43 322.62,34.62 323.63,33.92 324.65,33.32 325.66,32.8 326.67,32.36 327.69,31.98 328.7,31.66 329.71,31.39 330.73,31.16 331.74,30.96 332.75,30.8 333.77,30.66 334.78,30.54 335.79,30.44 336.81,30.36 337.82,30.29 338.84,30.23 339.85,30.18 340.86,30.14 341.88,30.1 342.89,30.07 343.9,30.05 344.92,30.02 345.93,30.01 346.94,29.99 347.96,29.98 348.97,29.97 349.98,29.96 351,29.95 352.01,29.95 353.02,29.94 354.04,29.94 355.05,29.93 356.06,29.93 357.08,29.93 358.09,29.93 359.11,29.92 360.12,29.92 361.13,29.92 362.15,29.92 363.16,29.92 364.17,29.92 365.19,29.92 366.2,29.92" fill="none" stroke="#4a82f0" stroke-width="0.9"/>
<line x1="305.39" y1="62.03" x2="305.39" y2="66.54" stroke="#4a82f0" stroke-width="0.75" />
<line x1="303.79" y1="62.03" x2="306.99" y2="62.03" stroke="#4a82f0" stroke-width="0.75" />
<line x1="303.79" y1="66.54" x2="306.99" y2="66.54" stroke="#4a82f0" stroke-width="0.75" />
<path d="M305.39,66.19 L307.29,62.77 L303.49,62.77Z" fill="#4a82f0"/>
<path d="M317.55,44.21 L319.45,40.79 L315.65,40.79Z" fill="#4a82f0"/>
<path d="M329.71,32.38 L331.61,28.96 L327.81,28.96Z" fill="#4a82f0"/>
<path d="M341.88,31.81 L343.78,28.39 L339.98,28.39Z" fill="#4a82f0"/>
<path d="M354.04,31.81 L355.94,28.39 L352.14,28.39Z" fill="#4a82f0"/>
<path d="M366.2,31.81 L368.1,28.39 L364.3,28.39Z" fill="#4a82f0"/>
<line x1="305.39" y1="87.73" x2="366.2" y2="87.73" stroke="#c49a6c" stroke-width="1.4" />
<line x1="305.39" y1="80.23" x2="305.39" y2="85.87" stroke="#b08850" stroke-width="0.75" />
<line x1="303.79" y1="80.23" x2="306.99" y2="80.23" stroke="#b08850" stroke-width="0.75" />
<line x1="303.79" y1="85.87" x2="306.99" y2="85.87" stroke="#b08850" stroke-width="0.75" />
<circle cx="305.39" cy="83.05" r="1.7" fill="#8e4a14"/>
<line x1="317.55" y1="82.88" x2="317.55" y2="89.64" stroke="#b08850" stroke-width="0.75" />
<line x1="315.95" y1="82.88" x2="319.15" y2="82.88" stroke="#b08850" stroke-width="0.75" />
<line x1="315.95" y1="89.64" x2="319.15" y2="89.64" stroke="#b08850" stroke-width="0.75" />
<circle cx="317.55" cy="86.26" r="1.7" fill="#8e4a14"/>
<circle cx="329.71" cy="87.73" r="1.7" fill="#8e4a14"/>
<line x1="341.88" y1="85.08" x2="341.88" y2="91.84" stroke="#b08850" stroke-width="0.75" />
<line x1="340.28" y1="85.08" x2="343.48" y2="85.08" stroke="#b08850" stroke-width="0.75" />
<line x1="340.28" y1="91.84" x2="343.48" y2="91.84" stroke="#b08850" stroke-width="0.75" />
<circle cx="341.88" cy="88.46" r="1.7" fill="#8e4a14"/>
<line x1="354.04" y1="79.28" x2="354.04" y2="96.18" stroke="#b08850" stroke-width="0.75" />
<line x1="352.44" y1="79.28" x2="355.64" y2="79.28" stroke="#b08850" stroke-width="0.75" />
<line x1="352.44" y1="96.18" x2="355.64" y2="96.18" stroke="#b08850" stroke-width="0.75" />
<circle cx="354.04" cy="87.73" r="1.7" fill="#8e4a14"/>
<circle cx="366.2" cy="93.98" r="1.7" fill="#8e4a14"/>
<line x1="382.6" y1="18.1" x2="382.6" y2="97.1" stroke="#222" stroke-width="0.9" />
<line x1="382.15" y1="97.1" x2="460.6" y2="97.1" stroke="#222" stroke-width="0.9" />
<line x1="378.6" y1="96.97" x2="382.6" y2="96.97" stroke="#222" stroke-width="0.9" />
<line x1="378.6" y1="85.7" x2="382.6" y2="85.7" stroke="#222" stroke-width="0.9" />
<line x1="378.6" y1="74.43" x2="382.6" y2="74.43" stroke="#222" stroke-width="0.9" />
<line x1="378.6" y1="63.16" x2="382.6" y2="63.16" stroke="#222" stroke-width="0.9" />
<line x1="378.6" y1="51.89" x2="382.6" y2="51.89" stroke="#222" stroke-width="0.9" />
<line x1="378.6" y1="40.62" x2="382.6" y2="40.62" stroke="#222" stroke-width="0.9" />
<line x1="378.6" y1="29.35" x2="382.6" y2="29.35" stroke="#222" stroke-width="0.9" />
<line x1="378.6" y1="18.08" x2="382.6" y2="18.08" stroke="#222" stroke-width="0.9" />
<line x1="382.6" y1="97.1" x2="382.6" y2="100.6" stroke="#222" stroke-width="0.9" />
<text transform="translate(383.1,111) scale(0.95,1)" font-size="8.3" text-anchor="middle" fill="#111" stroke="#111" stroke-width="0.1" >10<tspan font-size="6.7" dy="-2.3">-3</tspan></text>
<line x1="400" y1="97.1" x2="400" y2="100.6" stroke="#222" stroke-width="0.9" />
<text transform="translate(400.5,111) scale(0.95,1)" font-size="8.3" text-anchor="middle" fill="#111" stroke="#111" stroke-width="0.1" >10<tspan font-size="6.7" dy="-2.3">-2</tspan></text>
<line x1="417.4" y1="97.1" x2="417.4" y2="100.6" stroke="#222" stroke-width="0.9" />
<text transform="translate(417.9,111) scale(0.95,1)" font-size="8.3" text-anchor="middle" fill="#111" stroke="#111" stroke-width="0.1" >10<tspan font-size="6.7" dy="-2.3">-1</tspan></text>
<line x1="434.8" y1="97.1" x2="434.8" y2="100.6" stroke="#222" stroke-width="0.9" />
<text transform="translate(435.3,111) scale(0.95,1)" font-size="8.3" text-anchor="middle" fill="#111" stroke="#111" stroke-width="0.1" >10<tspan font-size="6.7" dy="-2.3">0</tspan></text>
<line x1="452.2" y1="97.1" x2="452.2" y2="100.6" stroke="#222" stroke-width="0.9" />
<text transform="translate(452.7,111) scale(0.95,1)" font-size="8.3" text-anchor="middle" fill="#111" stroke="#111" stroke-width="0.1" >10<tspan font-size="6.7" dy="-2.3">1</tspan></text>
<text transform="translate(417.7,120.5) scale(0.95,1)" font-size="8.1" text-anchor="middle" fill="#111" stroke="#111" stroke-width="0.1" >Antibody (µg/mL)</text>
<text x="421" y="9.6" font-size="8.7" text-anchor="middle" fill="#111" stroke="#111" stroke-width="0.1" >EG.5.1</text>
<line x1="382.6" y1="85.7" x2="470.6" y2="85.7" stroke="#8a8a8a" stroke-width="0.8" stroke-dasharray="1.6,1.1"/>
<polyline points="391.39,81.82 392.4,81.63 393.42,81.42 394.43,81.18 395.44,80.89 396.46,80.56 397.47,80.17 398.48,79.73 399.5,79.21 400.51,78.63 401.52,77.95 402.54,77.19 403.55,76.32 404.57,75.34 405.58,74.24 406.59,73.02 407.61,71.67 408.62,70.19 409.63,68.59 410.65,66.86 411.66,65.03 412.67,63.1 413.69,61.1 414.7,59.04 415.71,56.96 416.73,54.88 417.74,52.83 418.75,50.82 419.77,48.89 420.78,47.06 421.79,45.34 422.81,43.73 423.82,42.25 424.84,40.9 425.85,39.68 426.86,38.58 427.88,37.6 428.89,36.74 429.9,35.97 430.92,35.3 431.93,34.71 432.94,34.2 433.96,33.75 434.97,33.37 435.98,33.03 437,32.75 438.01,32.5 439.02,32.29 440.04,32.11 441.05,31.95 442.06,31.82 443.08,31.7 444.09,31.61 445.11,31.52 446.12,31.45 447.13,31.39 448.15,31.34 449.16,31.3 450.17,31.26 451.19,31.23 452.2,31.2" fill="none" stroke="#f2504a" stroke-width="0.9"/>
<path d="M391.39,79.8 L393.29,83.22 L389.49,83.22Z" fill="#f2504a"/>
<path d="M403.55,72.02 L405.45,75.44 L401.65,75.44Z" fill="#f2504a"/>
<path d="M415.71,55.23 L417.61,58.65 L413.81,58.65Z" fill="#f2504a"/>
<path d="M427.88,33.03 L429.78,36.45 L425.98,36.45Z" fill="#f2504a"/>
<path d="M440.04,29.31 L441.94,32.73 L438.14,32.73Z" fill="#f2504a"/>
<path d="M452.2,29.31 L454.1,32.73 L450.3,32.73Z" fill="#f2504a"/>
<polyline points="391.39,72.95 392.4,72.2 393.42,71.39 394.43,70.51 395.44,69.57 396.46,68.57 397.47,67.5 398.48,66.36 399.5,65.17 400.51,63.92 401.52,62.61 402.54,61.27 403.55,59.88 404.57,58.47 405.58,57.03 406.59,55.59 407.61,54.14 408.62,52.71 409.63,51.29 410.65,49.9 411.66,48.55 412.67,47.25 413.69,45.99 414.7,44.8 415.71,43.66 416.73,42.59 417.74,41.58 418.75,40.63 419.77,39.76 420.78,38.94 421.79,38.19 422.81,37.5 423.82,36.87 424.84,36.29 425.85,35.76 426.86,35.28 427.88,34.84 428.89,34.45 429.9,34.09 430.92,33.77 431.93,33.48 432.94,33.22 433.96,32.99 434.97,32.78 435.98,32.59 437,32.43 438.01,32.28 439.02,32.14 440.04,32.02 441.05,31.91 442.06,31.82 443.08,31.73 444.09,31.66 445.11,31.59 446.12,31.53 447.13,31.47 448.15,31.43 449.16,31.38 450.17,31.35 451.19,31.31 452.2,31.28" fill="none" stroke="#ee3ce6" stroke-width="0.9"/>
<rect x="389.79" y="71.36" width="3.2" height="3.2" fill="#ee3ce6"/>
<line x1="403.55" y1="59.05" x2="403.55" y2="65.81" stroke="#ee3ce6" stroke-width="0.75" />
<line x1="401.95" y1="59.05" x2="405.15" y2="59.05" stroke="#ee3ce6" stroke-width="0.75" />
<line x1="401.95" y1="65.81" x2="405.15" y2="65.81" stroke="#ee3ce6" stroke-width="0.75" />
<rect x="401.95" y="60.83" width="3.2" height="3.2" fill="#ee3ce6"/>
<rect x="414.11" y="41.84" width="3.2" height="3.2" fill="#ee3ce6"/>
<rect x="426.28" y="31.13" width="3.2" height="3.2" fill="#ee3ce6"/>
<rect x="438.44" y="29.61" width="3.2" height="3.2" fill="#ee3ce6"/>
<rect x="450.6" y="29.61" width="3.2" height="3.2" fill="#ee3ce6"/>
<polyline points="391.39,56.8 392.4,55.29 393.42,53.8 394.43,52.32 395.44,50.88 396.46,49.47 397.47,48.11 398.48,46.79 399.5,45.52 400.51,44.31 401.52,43.16 402.54,42.08 403.55,41.05 404.57,40.09 405.58,39.19 406.59,38.34 407.61,37.56 408.62,36.84 409.63,36.17 410.65,35.55 411.66,34.98 412.67,34.46 413.69,33.98 414.7,33.55 415.71,33.15 416.73,32.79 417.74,32.46 418.75,32.16 419.77,31.88 420.78,31.64 421.79,31.41 422.81,31.21 423.82,31.03 424.84,30.86 425.85,30.71 426.86,30.57 427.88,30.45 428.89,30.34 429.9,30.24 430.92,30.15 431.93,30.07 432.94,30 433.96,29.93 434.97,29.88 435.98,29.82 437,29.77 438.01,29.73 439.02,29.69 440.04,29.66 441.05,29.63 442.06,29.6 443.08,29.57 444.09,29.55 445.11,29.53 446.12,29.51 447.13,29.5 448.15,29.48 449.16,29.47 450.17,29.46 451.19,29.45 452.2,29.44" fill="none" stroke="#4a82f0" stroke-width="0.9"/>
<line x1="391.39" y1="54.43" x2="391.39" y2="57.81" stroke="#4a82f0" stroke-width="0.75" />
<line x1="389.79" y1="54.43" x2="392.99" y2="54.43" stroke="#4a82f0" stroke-width="0.75" />
<line x1="389.79" y1="57.81" x2="392.99" y2="57.81" stroke="#4a82f0" stroke-width="0.75" />
<path d="M391.39,58.02 L393.29,54.6 L389.49,54.6Z" fill="#4a82f0"/>
<path d="M403.55,46.3 L405.45,42.88 L401.65,42.88Z" fill="#4a82f0"/>
<path d="M415.71,34.18 L417.61,30.76 L413.81,30.76Z" fill="#4a82f0"/>
<path d="M427.88,31.53 L429.78,28.11 L425.98,28.11Z" fill="#4a82f0"/>
<path d="M440.04,31.53 L441.94,28.11 L438.14,28.11Z" fill="#4a82f0"/>
<path d="M452.2,31.53 L454.1,28.11 L450.3,28.11Z" fill="#4a82f0"/>
<line x1="391.39" y1="84.57" x2="452.2" y2="84.57" stroke="#8e4a14" stroke-width="0.9" />
<line x1="391.39" y1="79.39" x2="391.39" y2="88.4" stroke="#b08850" stroke-width="0.75" />
<line x1="389.79" y1="79.39" x2="392.99" y2="79.39" stroke="#b08850" stroke-width="0.75" />
<line x1="389.79" y1="88.4" x2="392.99" y2="88.4" stroke="#b08850" stroke-width="0.75" />
<circle cx="391.39" cy="83.9" r="1.7" fill="#8e4a14"/>
<line x1="403.55" y1="78.77" x2="403.55" y2="86.66" stroke="#b08850" stroke-width="0.75" />
<line x1="401.95" y1="78.77" x2="405.15" y2="78.77" stroke="#b08850" stroke-width="0.75" />
<line x1="401.95" y1="86.66" x2="405.15" y2="86.66" stroke="#b08850" stroke-width="0.75" />
<circle cx="403.55" cy="82.71" r="1.7" fill="#8e4a14"/>
<circle cx="415.71" cy="82.71" r="1.7" fill="#8e4a14"/>
<line x1="427.88" y1="79.22" x2="427.88" y2="92.74" stroke="#b08850" stroke-width="0.75" />
<line x1="426.28" y1="79.22" x2="429.48" y2="79.22" stroke="#b08850" stroke-width="0.75" />
<line x1="426.28" y1="92.74" x2="429.48" y2="92.74" stroke="#b08850" stroke-width="0.75" />
<circle cx="427.88" cy="85.98" r="1.7" fill="#8e4a14"/>
<circle cx="440.04" cy="84.52" r="1.7" fill="#8e4a14"/>
<line x1="452.2" y1="81.76" x2="452.2" y2="90.77" stroke="#b08850" stroke-width="0.75" />
<line x1="450.6" y1="81.76" x2="453.8" y2="81.76" stroke="#b08850" stroke-width="0.75" />
<line x1="450.6" y1="90.77" x2="453.8" y2="90.77" stroke="#b08850" stroke-width="0.75" />
<circle cx="452.2" cy="86.26" r="1.7" fill="#8e4a14"/>
<line x1="470.3" y1="18.1" x2="470.3" y2="97.1" stroke="#222" stroke-width="0.9" />
<line x1="469.85" y1="97.1" x2="548.3" y2="97.1" stroke="#222" stroke-width="0.9" />
<line x1="466.3" y1="96.97" x2="470.3" y2="96.97" stroke="#222" stroke-width="0.9" />
<line x1="466.3" y1="85.7" x2="470.3" y2="85.7" stroke="#222" stroke-width="0.9" />
<line x1="466.3" y1="74.43" x2="470.3" y2="74.43" stroke="#222" stroke-width="0.9" />
<line x1="466.3" y1="63.16" x2="470.3" y2="63.16" stroke="#222" stroke-width="0.9" />
<line x1="466.3" y1="51.89" x2="470.3" y2="51.89" stroke="#222" stroke-width="0.9" />
<line x1="466.3" y1="40.62" x2="470.3" y2="40.62" stroke="#222" stroke-width="0.9" />
<line x1="466.3" y1="29.35" x2="470.3" y2="29.35" stroke="#222" stroke-width="0.9" />
<line x1="466.3" y1="18.08" x2="470.3" y2="18.08" stroke="#222" stroke-width="0.9" />
<line x1="470.3" y1="97.1" x2="470.3" y2="100.6" stroke="#222" stroke-width="0.9" />
<text transform="translate(470.8,111) scale(0.95,1)" font-size="8.3" text-anchor="middle" fill="#111" stroke="#111" stroke-width="0.1" >10<tspan font-size="6.7" dy="-2.3">-3</tspan></text>
<line x1="487.7" y1="97.1" x2="487.7" y2="100.6" stroke="#222" stroke-width="0.9" />
<text transform="translate(488.2,111) scale(0.95,1)" font-size="8.3" text-anchor="middle" fill="#111" stroke="#111" stroke-width="0.1" >10<tspan font-size="6.7" dy="-2.3">-2</tspan></text>
<line x1="505.1" y1="97.1" x2="505.1" y2="100.6" stroke="#222" stroke-width="0.9" />
<text transform="translate(505.6,111) scale(0.95,1)" font-size="8.3" text-anchor="middle" fill="#111" stroke="#111" stroke-width="0.1" >10<tspan font-size="6.7" dy="-2.3">-1</tspan></text>
<line x1="522.5" y1="97.1" x2="522.5" y2="100.6" stroke="#222" stroke-width="0.9" />
<text transform="translate(523,111) scale(0.95,1)" font-size="8.3" text-anchor="middle" fill="#111" stroke="#111" stroke-width="0.1" >10<tspan font-size="6.7" dy="-2.3">0</tspan></text>
<line x1="539.9" y1="97.1" x2="539.9" y2="100.6" stroke="#222" stroke-width="0.9" />
<text transform="translate(540.4,111) scale(0.95,1)" font-size="8.3" text-anchor="middle" fill="#111" stroke="#111" stroke-width="0.1" >10<tspan font-size="6.7" dy="-2.3">1</tspan></text>
<text transform="translate(505.4,120.5) scale(0.95,1)" font-size="8.1" text-anchor="middle" fill="#111" stroke="#111" stroke-width="0.1" >Antibody (µg/mL)</text>
<text x="506.1" y="9.6" font-size="8.7" text-anchor="middle" fill="#111" stroke="#111" stroke-width="0.1" >HK.3</text>
<line x1="470.3" y1="85.7" x2="558.3" y2="85.7" stroke="#8a8a8a" stroke-width="0.8" stroke-dasharray="1.6,1.1"/>
<polyline points="479.09,85.66 480.1,85.65 481.12,85.63 482.13,85.62 483.14,85.59 484.16,85.55 485.17,85.51 486.18,85.45 487.2,85.38 488.21,85.28 489.22,85.15 490.24,84.98 491.25,84.76 492.27,84.48 493.28,84.12 494.29,83.65 495.31,83.05 496.32,82.29 497.33,81.33 498.35,80.13 499.36,78.64 500.37,76.82 501.39,74.66 502.4,72.12 503.41,69.23 504.43,66.02 505.44,62.58 506.45,59.02 507.47,55.45 508.48,52 509.49,48.78 510.51,45.87 511.52,43.32 512.54,41.14 513.55,39.31 514.56,37.8 515.58,36.59 516.59,35.61 517.6,34.84 518.62,34.24 519.63,33.77 520.64,33.4 521.66,33.11 522.67,32.89 523.68,32.73 524.7,32.59 525.71,32.5 526.72,32.42 527.74,32.36 528.75,32.31 529.76,32.28 530.78,32.25 531.79,32.23 532.81,32.22 533.82,32.21 534.83,32.2 535.85,32.19 536.86,32.18 537.87,32.18 538.89,32.18 539.9,32.18" fill="none" stroke="#f2504a" stroke-width="0.9"/>
<path d="M479.09,87.74 L480.99,91.16 L477.19,91.16Z" fill="#f2504a"/>
<path d="M491.25,83.8 L493.15,87.22 L489.35,87.22Z" fill="#f2504a"/>
<line x1="503.41" y1="66.43" x2="503.41" y2="72.06" stroke="#f2504a" stroke-width="0.75" />
<line x1="501.81" y1="66.43" x2="505.01" y2="66.43" stroke="#f2504a" stroke-width="0.75" />
<line x1="501.81" y1="72.06" x2="505.01" y2="72.06" stroke="#f2504a" stroke-width="0.75" />
<path d="M503.41,67.35 L505.31,70.77 L501.51,70.77Z" fill="#f2504a"/>
<path d="M515.58,37.14 L517.48,40.56 L513.68,40.56Z" fill="#f2504a"/>
<path d="M527.74,30.44 L529.64,33.86 L525.84,33.86Z" fill="#f2504a"/>
<path d="M539.9,30.27 L541.8,33.69 L538,33.69Z" fill="#f2504a"/>
<polyline points="479.09,78.57 480.1,78.3 481.12,77.98 482.13,77.6 483.14,77.16 484.16,76.64 485.17,76.05 486.18,75.36 487.2,74.56 488.21,73.65 489.22,72.62 490.24,71.46 491.25,70.16 492.27,68.72 493.28,67.14 494.29,65.43 495.31,63.6 496.32,61.67 497.33,59.66 498.35,57.6 499.36,55.51 500.37,53.43 501.39,51.4 502.4,49.43 503.41,47.56 504.43,45.79 505.44,44.16 506.45,42.66 507.47,41.3 508.48,40.08 509.49,39 510.51,38.04 511.52,37.2 512.54,36.46 513.55,35.83 514.56,35.28 515.58,34.81 516.59,34.41 517.6,34.06 518.62,33.77 519.63,33.52 520.64,33.31 521.66,33.13 522.67,32.98 523.68,32.85 524.7,32.74 525.71,32.65 526.72,32.58 527.74,32.51 528.75,32.46 529.76,32.41 530.78,32.37 531.79,32.34 532.81,32.31 533.82,32.29 534.83,32.27 535.85,32.25 536.86,32.24 537.87,32.23 538.89,32.22 539.9,32.21" fill="none" stroke="#ee3ce6" stroke-width="0.9"/>
<rect x="477.49" y="75.99" width="3.2" height="3.2" fill="#ee3ce6"/>
<line x1="491.25" y1="66.94" x2="491.25" y2="73.7" stroke="#ee3ce6" stroke-width="0.75" />
<line x1="489.65" y1="66.94" x2="492.85" y2="66.94" stroke="#ee3ce6" stroke-width="0.75" />
<line x1="489.65" y1="73.7" x2="492.85" y2="73.7" stroke="#ee3ce6" stroke-width="0.75" />
<rect x="489.65" y="68.72" width="3.2" height="3.2" fill="#ee3ce6"/>
<rect x="501.81" y="45.39" width="3.2" height="3.2" fill="#ee3ce6"/>
<rect x="513.98" y="33.1" width="3.2" height="3.2" fill="#ee3ce6"/>
<rect x="526.14" y="30.74" width="3.2" height="3.2" fill="#ee3ce6"/>
<rect x="538.3" y="30.57" width="3.2" height="3.2" fill="#ee3ce6"/>
<polyline points="479.09,66.61 480.1,65.79 481.12,64.86 482.13,63.81 483.14,62.64 484.16,61.34 485.17,59.93 486.18,58.4 487.2,56.77 488.21,55.05 489.22,53.26 490.24,51.44 491.25,49.6 492.27,47.77 493.28,45.98 494.29,44.26 495.31,42.62 496.32,41.09 497.33,39.67 498.35,38.37 499.36,37.19 500.37,36.14 501.39,35.21 502.4,34.38 503.41,33.66 504.43,33.03 505.44,32.48 506.45,32.01 507.47,31.61 508.48,31.26 509.49,30.97 510.51,30.72 511.52,30.51 512.54,30.33 513.55,30.17 514.56,30.04 515.58,29.93 516.59,29.84 517.6,29.76 518.62,29.7 519.63,29.64 520.64,29.6 521.66,29.56 522.67,29.52 523.68,29.5 524.7,29.47 525.71,29.45 526.72,29.44 527.74,29.42 528.75,29.41 529.76,29.4 530.78,29.39 531.79,29.39 532.81,29.38 533.82,29.38 534.83,29.37 535.85,29.37 536.86,29.37 537.87,29.36 538.89,29.36 539.9,29.36" fill="none" stroke="#4a82f0" stroke-width="0.9"/>
<line x1="479.09" y1="62.48" x2="479.09" y2="68.12" stroke="#4a82f0" stroke-width="0.75" />
<line x1="477.49" y1="62.48" x2="480.69" y2="62.48" stroke="#4a82f0" stroke-width="0.75" />
<line x1="477.49" y1="68.12" x2="480.69" y2="68.12" stroke="#4a82f0" stroke-width="0.75" />
<path d="M479.09,67.2 L480.99,63.78 L477.19,63.78Z" fill="#4a82f0"/>
<line x1="491.25" y1="50.2" x2="491.25" y2="54.71" stroke="#4a82f0" stroke-width="0.75" />
<line x1="489.65" y1="50.2" x2="492.85" y2="50.2" stroke="#4a82f0" stroke-width="0.75" />
<line x1="489.65" y1="54.71" x2="492.85" y2="54.71" stroke="#4a82f0" stroke-width="0.75" />
<path d="M491.25,54.35 L493.15,50.93 L489.35,50.93Z" fill="#4a82f0"/>
<path d="M503.41,36.1 L505.31,32.68 L501.51,32.68Z" fill="#4a82f0"/>
<path d="M515.58,31.53 L517.48,28.11 L513.68,28.11Z" fill="#4a82f0"/>
<path d="M527.74,31.53 L529.64,28.11 L525.84,28.11Z" fill="#4a82f0"/>
<path d="M539.9,31.53 L541.8,28.11 L538,28.11Z" fill="#4a82f0"/>
<line x1="479.09" y1="89.64" x2="539.9" y2="89.64" stroke="#8e4a14" stroke-width="0.9" />
<line x1="479.09" y1="81.19" x2="479.09" y2="90.21" stroke="#b08850" stroke-width="0.75" />
<line x1="477.49" y1="81.19" x2="480.69" y2="81.19" stroke="#b08850" stroke-width="0.75" />
<line x1="477.49" y1="90.21" x2="480.69" y2="90.21" stroke="#b08850" stroke-width="0.75" />
<circle cx="479.09" cy="85.7" r="1.7" fill="#8e4a14"/>
<line x1="491.25" y1="87.9" x2="491.25" y2="95.79" stroke="#b08850" stroke-width="0.75" />
<line x1="489.65" y1="87.9" x2="492.85" y2="87.9" stroke="#b08850" stroke-width="0.75" />
<line x1="489.65" y1="95.79" x2="492.85" y2="95.79" stroke="#b08850" stroke-width="0.75" />
<circle cx="491.25" cy="91.84" r="1.7" fill="#8e4a14"/>
<line x1="503.41" y1="78.49" x2="503.41" y2="92.01" stroke="#b08850" stroke-width="0.75" />
<line x1="501.81" y1="78.49" x2="505.01" y2="78.49" stroke="#b08850" stroke-width="0.75" />
<line x1="501.81" y1="92.01" x2="505.01" y2="92.01" stroke="#b08850" stroke-width="0.75" />
<circle cx="503.41" cy="85.25" r="1.7" fill="#8e4a14"/>
<line x1="515.58" y1="84.4" x2="515.58" y2="93.42" stroke="#b08850" stroke-width="0.75" />
<line x1="513.98" y1="84.4" x2="517.18" y2="84.4" stroke="#b08850" stroke-width="0.75" />
<line x1="513.98" y1="93.42" x2="517.18" y2="93.42" stroke="#b08850" stroke-width="0.75" />
<circle cx="515.58" cy="88.91" r="1.7" fill="#8e4a14"/>
<line x1="527.74" y1="78.94" x2="527.74" y2="93.59" stroke="#b08850" stroke-width="0.75" />
<line x1="526.14" y1="78.94" x2="529.34" y2="78.94" stroke="#b08850" stroke-width="0.75" />
<line x1="526.14" y1="93.59" x2="529.34" y2="93.59" stroke="#b08850" stroke-width="0.75" />
<circle cx="527.74" cy="86.26" r="1.7" fill="#8e4a14"/>
<text transform="translate(10.9,60.3) rotate(-90)" font-size="8.1" text-anchor="middle" fill="#111" stroke="#111" stroke-width="0.1">% Neutralization</text>
<line x1="195.4" y1="133.6" x2="205" y2="133.6" stroke="#8e4a14" stroke-width="0.9" />
<circle cx="200.2" cy="133.6" r="1.4449999999999998" fill="#8e4a14"/>
<text transform="translate(207.3,136.3) scale(0.95,1)" font-size="8.1" text-anchor="start" fill="#111" stroke="#111" stroke-width="0.1" >LY-CoV1404</text>
<line x1="258" y1="133.6" x2="267.6" y2="133.6" stroke="#ee3ce6" stroke-width="0.9" />
<rect x="261.44" y="132.24" width="2.72" height="2.72" fill="#ee3ce6"/>
<text transform="translate(270.2,136.3) scale(0.95,1)" font-size="8.1" text-anchor="start" fill="#111" stroke="#111" stroke-width="0.1" >S3H3</text>
<line x1="297.2" y1="133.6" x2="306.8" y2="133.6" stroke="#f2504a" stroke-width="0.9" />
<path d="M302,131.98 L303.62,134.89 L300.38,134.89Z" fill="#f2504a"/>
<text transform="translate(309.6,136.3) scale(0.95,1)" font-size="8.1" text-anchor="start" fill="#111" stroke="#111" stroke-width="0.1" >S309</text>
<line x1="335.7" y1="133.6" x2="345.3" y2="133.6" stroke="#4a82f0" stroke-width="0.9" />
<path d="M340.5,135.22 L342.12,132.31 L338.88,132.31Z" fill="#4a82f0"/>
<text transform="translate(348.6,136.3) scale(0.95,1)" font-size="8.1" text-anchor="start" fill="#111" stroke="#111" stroke-width="0.1" >SA55</text>
<text transform="translate(628,6.8) scale(0.95,1)" font-size="8.1" text-anchor="middle" fill="#111" stroke="#111" stroke-width="0.1" >Pseudovirus Neut. IC50 (ug/ml)</text>
<line x1="570" y1="9.4" x2="685" y2="9.4" stroke="#333" stroke-width="0.8" />
<text transform="translate(591.6,17.4) scale(0.95,1)" font-size="8.1" text-anchor="middle" fill="#111" stroke="#111" stroke-width="0.1" >LY-CoV1404</text>
<text transform="translate(626.1,17.4) scale(0.95,1)" font-size="8.1" text-anchor="middle" fill="#111" stroke="#111" stroke-width="0.1" >S3H3</text>
<text transform="translate(647.8,17.4) scale(0.95,1)" font-size="8.1" text-anchor="middle" fill="#111" stroke="#111" stroke-width="0.1" >S309</text>
<text transform="translate(672.5,17.4) scale(0.95,1)" font-size="8.1" text-anchor="middle" fill="#111" stroke="#111" stroke-width="0.1" >SA55</text>
<rect x="589.2" y="19.4" width="23.4" height="17.55" fill="#f9dcde" stroke="#454545" stroke-width="0.7"/>
<text transform="translate(600.9,30.57) scale(0.97,1)" font-size="7.3" text-anchor="middle" fill="#111" stroke="#111" stroke-width="0.1" >0.001</text>
<rect x="612.6" y="19.4" width="23.8" height="17.55" fill="#f19aa0" stroke="#454545" stroke-width="0.7"/>
<text transform="translate(624.5,30.57) scale(0.97,1)" font-size="7.3" text-anchor="middle" fill="#111" stroke="#111" stroke-width="0.1" >0.028</text>
<rect x="636.4" y="19.4" width="23.5" height="17.55" fill="#e9646d" stroke="#454545" stroke-width="0.7"/>
<text transform="translate(648.15,30.57) scale(0.97,1)" font-size="7.3" text-anchor="middle" fill="#111" stroke="#111" stroke-width="0.1" >0.263</text>
<rect x="659.9" y="19.4" width="22.9" height="17.55" fill="#f9dcde" stroke="#454545" stroke-width="0.7"/>
<text transform="translate(671.35,30.57) scale(0.97,1)" font-size="7.3" text-anchor="middle" fill="#111" stroke="#111" stroke-width="0.1" >0.004</text>
<text transform="translate(585.8,30.87) scale(0.95,1)" font-size="8.1" text-anchor="end" fill="#111" stroke="#111" stroke-width="0.1" >BA.2</text>
<rect x="589.2" y="36.95" width="23.4" height="17.55" fill="#ffffff" stroke="#454545" stroke-width="0.7"/>
<text transform="translate(600.9,48.12) scale(0.97,1)" font-size="7.3" text-anchor="middle" fill="#111" stroke="#111" stroke-width="0.1" >10.000</text>
<rect x="612.6" y="36.95" width="23.8" height="17.55" fill="#ffffff" stroke="#454545" stroke-width="0.7"/>
<text transform="translate(624.5,48.12) scale(0.97,1)" font-size="7.3" text-anchor="middle" fill="#111" stroke="#111" stroke-width="0.1" >10.000</text>
<rect x="636.4" y="36.95" width="23.5" height="17.55" fill="#f72614" stroke="#454545" stroke-width="0.7"/>
<text transform="translate(648.15,48.12) scale(0.97,1)" font-size="7.3" text-anchor="middle" fill="#111" stroke="#111" stroke-width="0.1" >2.440</text>
<rect x="659.9" y="36.95" width="22.9" height="17.55" fill="#f9dcde" stroke="#454545" stroke-width="0.7"/>
<text transform="translate(671.35,48.12) scale(0.97,1)" font-size="7.3" text-anchor="middle" fill="#111" stroke="#111" stroke-width="0.1" >0.001</text>
<text transform="translate(585.8,48.43) scale(0.95,1)" font-size="8.1" text-anchor="end" fill="#111" stroke="#111" stroke-width="0.1" >BA.2.86</text>
<rect x="589.2" y="54.5" width="23.4" height="17.55" fill="#ffffff" stroke="#454545" stroke-width="0.7"/>
<text transform="translate(600.9,65.67) scale(0.97,1)" font-size="7.3" text-anchor="middle" fill="#111" stroke="#111" stroke-width="0.1" >10.000</text>
<rect x="612.6" y="54.5" width="23.8" height="17.55" fill="#ffffff" stroke="#454545" stroke-width="0.7"/>
<text transform="translate(624.5,65.67) scale(0.97,1)" font-size="7.3" text-anchor="middle" fill="#111" stroke="#111" stroke-width="0.1" >10.000</text>
<rect x="636.4" y="54.5" width="23.5" height="17.55" fill="#f72614" stroke="#454545" stroke-width="0.7"/>
<text transform="translate(648.15,65.67) scale(0.97,1)" font-size="7.3" text-anchor="middle" fill="#111" stroke="#111" stroke-width="0.1" >1.993</text>
<rect x="659.9" y="54.5" width="22.9" height="17.55" fill="#f9dcde" stroke="#454545" stroke-width="0.7"/>
<text transform="translate(671.35,65.67) scale(0.97,1)" font-size="7.3" text-anchor="middle" fill="#111" stroke="#111" stroke-width="0.1" >0.001</text>
<text transform="translate(585.8,65.97) scale(0.95,1)" font-size="8.1" text-anchor="end" fill="#111" stroke="#111" stroke-width="0.1" >JN.1</text>
<rect x="589.2" y="72.05" width="23.4" height="17.55" fill="#ffffff" stroke="#454545" stroke-width="0.7"/>
<text transform="translate(600.9,83.23) scale(0.97,1)" font-size="7.3" text-anchor="middle" fill="#111" stroke="#111" stroke-width="0.1" >10.000</text>
<rect x="612.6" y="72.05" width="23.8" height="17.55" fill="#f19aa0" stroke="#454545" stroke-width="0.7"/>
<text transform="translate(624.5,83.23) scale(0.97,1)" font-size="7.3" text-anchor="middle" fill="#111" stroke="#111" stroke-width="0.1" >0.035</text>
<rect x="636.4" y="72.05" width="23.5" height="17.55" fill="#e9646d" stroke="#454545" stroke-width="0.7"/>
<text transform="translate(648.15,83.23) scale(0.97,1)" font-size="7.3" text-anchor="middle" fill="#111" stroke="#111" stroke-width="0.1" >0.104</text>
<rect x="659.9" y="72.05" width="22.9" height="17.55" fill="#f9dcde" stroke="#454545" stroke-width="0.7"/>
<text transform="translate(671.35,83.23) scale(0.97,1)" font-size="7.3" text-anchor="middle" fill="#111" stroke="#111" stroke-width="0.1" >0.006</text>
<text transform="translate(585.8,83.53) scale(0.95,1)" font-size="8.1" text-anchor="end" fill="#111" stroke="#111" stroke-width="0.1" >XBB.1</text>
<rect x="589.2" y="89.6" width="23.4" height="17.55" fill="#ffffff" stroke="#454545" stroke-width="0.7"/>
<text transform="translate(600.9,100.78) scale(0.97,1)" font-size="7.3" text-anchor="middle" fill="#111" stroke="#111" stroke-width="0.1" >10.000</text>
<rect x="612.6" y="89.6" width="23.8" height="17.55" fill="#f19aa0" stroke="#454545" stroke-width="0.7"/>
<text transform="translate(624.5,100.78) scale(0.97,1)" font-size="7.3" text-anchor="middle" fill="#111" stroke="#111" stroke-width="0.1" >0.024</text>
<rect x="636.4" y="89.6" width="23.5" height="17.55" fill="#f19aa0" stroke="#454545" stroke-width="0.7"/>
<text transform="translate(648.15,100.78) scale(0.97,1)" font-size="7.3" text-anchor="middle" fill="#111" stroke="#111" stroke-width="0.1" >0.073</text>
<rect x="659.9" y="89.6" width="22.9" height="17.55" fill="#f9dcde" stroke="#454545" stroke-width="0.7"/>
<text transform="translate(671.35,100.78) scale(0.97,1)" font-size="7.3" text-anchor="middle" fill="#111" stroke="#111" stroke-width="0.1" >0.003</text>
<text transform="translate(585.8,101.08) scale(0.95,1)" font-size="8.1" text-anchor="end" fill="#111" stroke="#111" stroke-width="0.1" >EG.5.1</text>
<rect x="589.2" y="107.15" width="23.4" height="17.55" fill="#ffffff" stroke="#454545" stroke-width="0.7"/>
<text transform="translate(600.9,118.33) scale(0.97,1)" font-size="7.3" text-anchor="middle" fill="#111" stroke="#111" stroke-width="0.1" >10.000</text>
<rect x="612.6" y="107.15" width="23.8" height="17.55" fill="#f19aa0" stroke="#454545" stroke-width="0.7"/>
<text transform="translate(624.5,118.33) scale(0.97,1)" font-size="7.3" text-anchor="middle" fill="#111" stroke="#111" stroke-width="0.1" >0.040</text>
<rect x="636.4" y="107.15" width="23.5" height="17.55" fill="#e9646d" stroke="#454545" stroke-width="0.7"/>
<text transform="translate(648.15,118.33) scale(0.97,1)" font-size="7.3" text-anchor="middle" fill="#111" stroke="#111" stroke-width="0.1" >0.126</text>
<rect x="659.9" y="107.15" width="22.9" height="17.55" fill="#f9dcde" stroke="#454545" stroke-width="0.7"/>
<text transform="translate(671.35,118.33) scale(0.97,1)" font-size="7.3" text-anchor="middle" fill="#111" stroke="#111" stroke-width="0.1" >0.008</text>
<text transform="translate(585.8,118.63) scale(0.95,1)" font-size="8.1" text-anchor="end" fill="#111" stroke="#111" stroke-width="0.1" >HK.3</text>
<rect x="578.1" y="126.4" width="10.1" height="7.4" fill="#f8d9dc" stroke="#6a6a6a" stroke-width="0.6"/>
<rect x="602.2" y="126.4" width="10.1" height="7.4" fill="#f2a0a6" stroke="#6a6a6a" stroke-width="0.6"/>
<rect x="626.2" y="126.4" width="10.1" height="7.4" fill="#ef7a82" stroke="#6a6a6a" stroke-width="0.6"/>
<rect x="648.9" y="126.4" width="10.1" height="7.4" fill="#f03c40" stroke="#6a6a6a" stroke-width="0.6"/>
<rect x="671.2" y="126.4" width="10.1" height="7.4" fill="#ffffff" stroke="#6a6a6a" stroke-width="0.6"/>
<text transform="translate(571.6,140.7) scale(0.95,1)" font-size="8.1" text-anchor="middle" fill="#111" stroke="#111" stroke-width="0.1" >0.001-0.01</text>
<text transform="translate(607.5,140.7) scale(0.95,1)" font-size="8.1" text-anchor="middle" fill="#111" stroke="#111" stroke-width="0.1" >0.01-0.1</text>
<text transform="translate(633.5,140.7) scale(0.95,1)" font-size="8.1" text-anchor="middle" fill="#111" stroke="#111" stroke-width="0.1" >0.1-1</text>
<text transform="translate(652.9,140.7) scale(0.95,1)" font-size="8.1" text-anchor="middle" fill="#111" stroke="#111" stroke-width="0.1" >1-10</text>
<text transform="translate(676.2,140.7) scale(0.95,1)" font-size="8.1" text-anchor="middle" fill="#111" stroke="#111" stroke-width="0.1" >&gt;10</text>
<text transform="translate(1,155.4) scale(0.92,1)" font-size="15.2" text-anchor="start" fill="#000" font-weight="bold" >b</text>
<text transform="translate(147.8,154.9) scale(0.95,1)" font-size="8.35" text-anchor="middle" fill="#111" stroke="#111" stroke-width="0.1" >BA.5 + XBB breakthrough (n=16)</text>
<line x1="29.8" y1="157.6" x2="280.3" y2="157.6" stroke="#a8a8a8" stroke-width="1.6" />
<line x1="31.4" y1="174.88" x2="31.4" y2="253.2" stroke="#777" stroke-width="0.9" />
<line x1="28.2" y1="253.2" x2="31.4" y2="253.2" stroke="#777" stroke-width="0.9" />
<text x="27.7" y="256" font-size="8.2" text-anchor="end" fill="#111" stroke="#111" stroke-width="0.1" >10<tspan font-size="6.2" dy="-2.6">1</tspan></text>
<line x1="28.2" y1="233.62" x2="31.4" y2="233.62" stroke="#777" stroke-width="0.9" />
<text x="27.7" y="236.42" font-size="8.2" text-anchor="end" fill="#111" stroke="#111" stroke-width="0.1" >10<tspan font-size="6.2" dy="-2.6">2</tspan></text>
<line x1="28.2" y1="214.04" x2="31.4" y2="214.04" stroke="#777" stroke-width="0.9" />
<text x="27.7" y="216.84" font-size="8.2" text-anchor="end" fill="#111" stroke="#111" stroke-width="0.1" >10<tspan font-size="6.2" dy="-2.6">3</tspan></text>
<line x1="28.2" y1="194.46" x2="31.4" y2="194.46" stroke="#777" stroke-width="0.9" />
<text x="27.7" y="197.26" font-size="8.2" text-anchor="end" fill="#111" stroke="#111" stroke-width="0.1" >10<tspan font-size="6.2" dy="-2.6">4</tspan></text>
<line x1="28.2" y1="174.88" x2="31.4" y2="174.88" stroke="#777" stroke-width="0.9" />
<text x="27.7" y="177.68" font-size="8.2" text-anchor="end" fill="#111" stroke="#111" stroke-width="0.1" >10<tspan font-size="6.2" dy="-2.6">5</tspan></text>
<line x1="30.95" y1="253.2" x2="148.8" y2="253.2" stroke="#999" stroke-width="1.0" />
<text transform="translate(9.6,216.8) rotate(-90)" font-size="7.95" text-anchor="middle" fill="#111" stroke="#111" stroke-width="0.1">Reciprocal serum ID<tspan font-size="6.28" dy="1.6">50</tspan></text>
<line x1="39" y1="253.2" x2="39" y2="256.2" stroke="#222" stroke-width="0.9" />
<line x1="59.2" y1="253.2" x2="59.2" y2="256.2" stroke="#222" stroke-width="0.9" />
<line x1="79.4" y1="253.2" x2="79.4" y2="256.2" stroke="#222" stroke-width="0.9" />
<line x1="99.6" y1="253.2" x2="99.6" y2="256.2" stroke="#222" stroke-width="0.9" />
<line x1="119.8" y1="253.2" x2="119.8" y2="256.2" stroke="#222" stroke-width="0.9" />
<line x1="140" y1="253.2" x2="140" y2="256.2" stroke="#222" stroke-width="0.9" />
<text transform="translate(41.5,258.5) rotate(-90) scale(0.95,1)" font-size="8.6" text-anchor="end" fill="#111" stroke="#111" stroke-width="0.1">BA.2</text>
<text transform="translate(61.7,258.5) rotate(-90) scale(0.95,1)" font-size="8.6" text-anchor="end" fill="#111" stroke="#111" stroke-width="0.1">BA.2.86</text>
<text transform="translate(81.9,258.5) rotate(-90) scale(0.95,1)" font-size="8.6" text-anchor="end" fill="#111" stroke="#111" stroke-width="0.1">JN.1</text>
<text transform="translate(102.1,258.5) rotate(-90) scale(0.95,1)" font-size="8.6" text-anchor="end" fill="#111" stroke="#111" stroke-width="0.1">XBB.1</text>
<text transform="translate(122.3,258.5) rotate(-90) scale(0.95,1)" font-size="8.6" text-anchor="end" fill="#111" stroke="#111" stroke-width="0.1">EG.5.1</text>
<text transform="translate(142.5,258.5) rotate(-90) scale(0.95,1)" font-size="8.6" text-anchor="end" fill="#111" stroke="#111" stroke-width="0.1">HK.3</text>
<line x1="31.4" y1="240.9" x2="148.8" y2="240.9" stroke="#8a8a8a" stroke-width="0.8" stroke-dasharray="1.3,1.0"/>
<text transform="translate(43,167.3) scale(0.95,1)" font-size="8.1" text-anchor="middle" fill="#c236f0" stroke="#c236f0" stroke-width="0.1" >1x</text>
<text transform="translate(63.2,167.3) scale(0.95,1)" font-size="8.1" text-anchor="middle" fill="#f08a28" stroke="#f08a28" stroke-width="0.1" >2.1x</text>
<text transform="translate(83.7,167.3) scale(0.95,1)" font-size="8.1" text-anchor="middle" fill="#de2e2e" stroke="#de2e2e" stroke-width="0.1" >3.3x</text>
<text transform="translate(103.7,167.3) scale(0.95,1)" font-size="8.1" text-anchor="middle" fill="#2a942a" stroke="#2a942a" stroke-width="0.1" >2.2x</text>
<text transform="translate(123.9,167.3) scale(0.95,1)" font-size="8.1" text-anchor="middle" fill="#34a2b2" stroke="#34a2b2" stroke-width="0.1" >3.0x</text>
<text transform="translate(145,167.3) scale(0.95,1)" font-size="8.1" text-anchor="middle" fill="#2d55f0" stroke="#2d55f0" stroke-width="0.1" >4.3x</text>
<text transform="translate(43,176.9) scale(0.95,1)" font-size="8.1" text-anchor="middle" fill="#c236f0" stroke="#c236f0" stroke-width="0.1" >1454</text>
<text transform="translate(62.6,176.9) scale(0.95,1)" font-size="8.1" text-anchor="middle" fill="#f08a28" stroke="#f08a28" stroke-width="0.1" >687</text>
<text transform="translate(83,176.9) scale(0.95,1)" font-size="8.1" text-anchor="middle" fill="#de2e2e" stroke="#de2e2e" stroke-width="0.1" >438</text>
<text transform="translate(102.6,176.9) scale(0.95,1)" font-size="8.1" text-anchor="middle" fill="#2a942a" stroke="#2a942a" stroke-width="0.1" >668</text>
<text transform="translate(123.4,176.9) scale(0.95,1)" font-size="8.1" text-anchor="middle" fill="#34a2b2" stroke="#34a2b2" stroke-width="0.1" >481</text>
<text transform="translate(143.7,176.9) scale(0.95,1)" font-size="8.1" text-anchor="middle" fill="#2d55f0" stroke="#2d55f0" stroke-width="0.1" >338</text>
<circle cx="39.67" cy="197.77" r="1.35" fill="#c23cf0"/>
<circle cx="36.75" cy="201.73" r="1.35" fill="#c23cf0"/>
<circle cx="39.67" cy="201.5" r="1.35" fill="#c23cf0"/>
<circle cx="42.58" cy="200.92" r="1.35" fill="#c23cf0"/>
<circle cx="39.67" cy="204.77" r="1.35" fill="#c23cf0"/>
<circle cx="36.75" cy="207.1" r="1.35" fill="#c23cf0"/>
<circle cx="36.75" cy="209.09" r="1.35" fill="#c23cf0"/>
<circle cx="42.58" cy="207.92" r="1.35" fill="#c23cf0"/>
<circle cx="42.58" cy="210.84" r="1.35" fill="#c23cf0"/>
<circle cx="39.67" cy="211.42" r="1.35" fill="#c23cf0"/>
<circle cx="36.75" cy="210.84" r="1.35" fill="#c23cf0"/>
<circle cx="39.67" cy="214.1" r="1.35" fill="#c23cf0"/>
<circle cx="42.58" cy="214.1" r="1.35" fill="#c23cf0"/>
<circle cx="36.75" cy="216.09" r="1.35" fill="#c23cf0"/>
<circle cx="39.67" cy="217.25" r="1.35" fill="#c23cf0"/>
<circle cx="42.58" cy="216.9" r="1.35" fill="#c23cf0"/>
<circle cx="39.67" cy="224.6" r="1.35" fill="#c23cf0"/>
<circle cx="39.67" cy="229.5" r="1.35" fill="#c23cf0"/>
<circle cx="59.73" cy="198.58" r="1.35" fill="#f28a2a"/>
<circle cx="56.93" cy="204.07" r="1.35" fill="#f28a2a"/>
<circle cx="59.73" cy="207.1" r="1.35" fill="#f28a2a"/>
<circle cx="56.93" cy="208.27" r="1.35" fill="#f28a2a"/>
<circle cx="59.73" cy="209.9" r="1.35" fill="#f28a2a"/>
<circle cx="59.73" cy="213.75" r="1.35" fill="#f28a2a"/>
<circle cx="56.93" cy="215.74" r="1.35" fill="#f28a2a"/>
<circle cx="59.73" cy="217.25" r="1.35" fill="#f28a2a"/>
<circle cx="62.77" cy="217.25" r="1.35" fill="#f28a2a"/>
<circle cx="56.93" cy="219.24" r="1.35" fill="#f28a2a"/>
<circle cx="59.73" cy="221.1" r="1.35" fill="#f28a2a"/>
<circle cx="56.93" cy="223.9" r="1.35" fill="#f28a2a"/>
<circle cx="59.73" cy="224.84" r="1.35" fill="#f28a2a"/>
<circle cx="56.93" cy="227.75" r="1.35" fill="#f28a2a"/>
<circle cx="62.77" cy="229.74" r="1.35" fill="#f28a2a"/>
<circle cx="59.73" cy="234.4" r="1.35" fill="#f28a2a"/>
<circle cx="81.09" cy="210.25" r="1.35" fill="#e02a2a"/>
<circle cx="79.34" cy="212.59" r="1.35" fill="#e02a2a"/>
<circle cx="81.44" cy="214.92" r="1.35" fill="#e02a2a"/>
<circle cx="77.59" cy="216.67" r="1.35" fill="#e02a2a"/>
<circle cx="79.34" cy="218.07" r="1.35" fill="#e02a2a"/>
<circle cx="82.84" cy="218.42" r="1.35" fill="#e02a2a"/>
<circle cx="77" cy="219" r="1.35" fill="#e02a2a"/>
<circle cx="80.27" cy="219.59" r="1.35" fill="#e02a2a"/>
<circle cx="78.75" cy="221.34" r="1.35" fill="#e02a2a"/>
<circle cx="82.25" cy="222.5" r="1.35" fill="#e02a2a"/>
<circle cx="79.34" cy="223.9" r="1.35" fill="#e02a2a"/>
<circle cx="76.77" cy="226" r="1.35" fill="#e02a2a"/>
<circle cx="80.5" cy="225.77" r="1.35" fill="#e02a2a"/>
<circle cx="79.34" cy="227.75" r="1.35" fill="#e02a2a"/>
<circle cx="82.25" cy="227.17" r="1.35" fill="#e02a2a"/>
<circle cx="79.1" cy="237.67" r="1.35" fill="#e02a2a"/>
<circle cx="97.25" cy="208.5" r="1.35" fill="#2d962d"/>
<circle cx="99.93" cy="209.09" r="1.35" fill="#2d962d"/>
<circle cx="102.5" cy="209.67" r="1.35" fill="#2d962d"/>
<circle cx="98.42" cy="210.84" r="1.35" fill="#2d962d"/>
<circle cx="101.33" cy="211.07" r="1.35" fill="#2d962d"/>
<circle cx="99.93" cy="212.59" r="1.35" fill="#2d962d"/>
<circle cx="97.25" cy="214.34" r="1.35" fill="#2d962d"/>
<circle cx="101.33" cy="214.57" r="1.35" fill="#2d962d"/>
<circle cx="99.93" cy="216.09" r="1.35" fill="#2d962d"/>
<circle cx="97.25" cy="217.84" r="1.35" fill="#2d962d"/>
<circle cx="102.5" cy="217.84" r="1.35" fill="#2d962d"/>
<circle cx="98.42" cy="219.59" r="1.35" fill="#2d962d"/>
<circle cx="101.33" cy="219.94" r="1.35" fill="#2d962d"/>
<circle cx="99.93" cy="222.5" r="1.35" fill="#2d962d"/>
<circle cx="100.75" cy="227.17" r="1.35" fill="#2d962d"/>
<circle cx="99" cy="228.92" r="1.35" fill="#2d962d"/>
<circle cx="119.77" cy="203.6" r="1.35" fill="#2e9aa8"/>
<circle cx="119.77" cy="208.5" r="1.35" fill="#2e9aa8"/>
<circle cx="120.94" cy="209.09" r="1.35" fill="#2e9aa8"/>
<circle cx="119.77" cy="213.75" r="1.35" fill="#2e9aa8"/>
<circle cx="120.59" cy="218.07" r="1.35" fill="#2e9aa8"/>
<circle cx="118.25" cy="221.34" r="1.35" fill="#2e9aa8"/>
<circle cx="120.59" cy="221.92" r="1.35" fill="#2e9aa8"/>
<circle cx="122.34" cy="222.5" r="1.35" fill="#2e9aa8"/>
<circle cx="117.67" cy="223.67" r="1.35" fill="#2e9aa8"/>
<circle cx="120" cy="224.25" r="1.35" fill="#2e9aa8"/>
<circle cx="118.84" cy="225.42" r="1.35" fill="#2e9aa8"/>
<circle cx="121.17" cy="226" r="1.35" fill="#2e9aa8"/>
<circle cx="119.42" cy="227.17" r="1.35" fill="#2e9aa8"/>
<circle cx="122.1" cy="227.17" r="1.35" fill="#2e9aa8"/>
<circle cx="118.25" cy="228.57" r="1.35" fill="#2e9aa8"/>
<circle cx="120" cy="228.34" r="1.35" fill="#2e9aa8"/>
<circle cx="139.25" cy="204.42" r="1.35" fill="#2a55f0"/>
<circle cx="139.25" cy="212.59" r="1.35" fill="#2a55f0"/>
<circle cx="141" cy="212.94" r="1.35" fill="#2a55f0"/>
<circle cx="141.24" cy="217.25" r="1.35" fill="#2a55f0"/>
<circle cx="138.09" cy="221.92" r="1.35" fill="#2a55f0"/>
<circle cx="140.42" cy="222.27" r="1.35" fill="#2a55f0"/>
<circle cx="142.75" cy="223.09" r="1.35" fill="#2a55f0"/>
<circle cx="136.92" cy="224.25" r="1.35" fill="#2a55f0"/>
<circle cx="139.84" cy="224.84" r="1.35" fill="#2a55f0"/>
<circle cx="142.17" cy="225.42" r="1.35" fill="#2a55f0"/>
<circle cx="137.5" cy="227.75" r="1.35" fill="#2a55f0"/>
<circle cx="140.42" cy="227.75" r="1.35" fill="#2a55f0"/>
<circle cx="143.1" cy="227.75" r="1.35" fill="#2a55f0"/>
<circle cx="138.67" cy="230.09" r="1.35" fill="#2a55f0"/>
<circle cx="141" cy="230.67" r="1.35" fill="#2a55f0"/>
<circle cx="139.25" cy="233.59" r="1.35" fill="#2a55f0"/>
<circle cx="140.42" cy="233" r="1.35" fill="#2a55f0"/>
<line x1="35" y1="210.84" x2="44.6" y2="210.84" stroke="#333" stroke-width="0.8" />
<line x1="55" y1="217.25" x2="64.6" y2="217.25" stroke="#333" stroke-width="0.8" />
<line x1="74.8" y1="221.1" x2="84.4" y2="221.1" stroke="#333" stroke-width="0.8" />
<line x1="95.2" y1="217.25" x2="104.8" y2="217.25" stroke="#333" stroke-width="0.8" />
<line x1="115.4" y1="220.4" x2="125" y2="220.4" stroke="#333" stroke-width="0.8" />
<line x1="135.8" y1="223.44" x2="145.4" y2="223.44" stroke="#333" stroke-width="0.8" />
<line x1="190.4" y1="177.8" x2="190.4" y2="252" stroke="#8a8a8a" stroke-width="0.9" />
<line x1="187.2" y1="252" x2="190.4" y2="252" stroke="#8a8a8a" stroke-width="0.9" />
<text x="185.6" y="254.8" font-size="8.2" text-anchor="end" fill="#111" stroke="#111" stroke-width="0.1" >10<tspan font-size="6.2" dy="-2.6">1</tspan></text>
<line x1="187.2" y1="233.45" x2="190.4" y2="233.45" stroke="#8a8a8a" stroke-width="0.9" />
<text x="185.6" y="236.25" font-size="8.2" text-anchor="end" fill="#111" stroke="#111" stroke-width="0.1" >10<tspan font-size="6.2" dy="-2.6">2</tspan></text>
<line x1="187.2" y1="214.9" x2="190.4" y2="214.9" stroke="#8a8a8a" stroke-width="0.9" />
<text x="185.6" y="217.7" font-size="8.2" text-anchor="end" fill="#111" stroke="#111" stroke-width="0.1" >10<tspan font-size="6.2" dy="-2.6">3</tspan></text>
<line x1="187.2" y1="196.35" x2="190.4" y2="196.35" stroke="#8a8a8a" stroke-width="0.9" />
<text x="185.6" y="199.15" font-size="8.2" text-anchor="end" fill="#111" stroke="#111" stroke-width="0.1" >10<tspan font-size="6.2" dy="-2.6">4</tspan></text>
<line x1="187.2" y1="177.8" x2="190.4" y2="177.8" stroke="#8a8a8a" stroke-width="0.9" />
<text x="185.6" y="180.6" font-size="8.2" text-anchor="end" fill="#111" stroke="#111" stroke-width="0.1" >10<tspan font-size="6.2" dy="-2.6">5</tspan></text>
<line x1="189.95" y1="252" x2="228.9" y2="252" stroke="#999" stroke-width="1.0" />
<text transform="translate(169.2,218) rotate(-90)" font-size="7.95" text-anchor="middle" fill="#111" stroke="#111" stroke-width="0.1">Reciprocal serum ID<tspan font-size="6.28" dy="1.6">50</tspan></text>
<line x1="201.2" y1="252" x2="201.2" y2="255" stroke="#8a8a8a" stroke-width="0.9" />
<line x1="218.2" y1="252" x2="218.2" y2="255" stroke="#8a8a8a" stroke-width="0.9" />
<text transform="translate(203.7,257.4) rotate(-90) scale(0.95,1)" font-size="8.6" text-anchor="end" fill="#111" stroke="#111" stroke-width="0.1">BA.2.86</text>
<text transform="translate(220.7,257.4) rotate(-90) scale(0.95,1)" font-size="8.6" text-anchor="end" fill="#111" stroke="#111" stroke-width="0.1">JN.1</text>
<line x1="190.4" y1="241" x2="228.9" y2="241" stroke="#9a9a9a" stroke-width="0.9" stroke-dasharray="1.3,1.0"/>
<line x1="201.2" y1="200.43" x2="218.2" y2="211.38" stroke="#222" stroke-width="0.5" />
<line x1="201.2" y1="205.58" x2="218.2" y2="212.92" stroke="#222" stroke-width="0.5" />
<line x1="201.2" y1="208.54" x2="218.2" y2="212.02" stroke="#222" stroke-width="0.5" />
<line x1="201.2" y1="210.35" x2="218.2" y2="217.82" stroke="#222" stroke-width="0.5" />
<line x1="201.2" y1="211.63" x2="218.2" y2="214.6" stroke="#222" stroke-width="0.5" />
<line x1="201.2" y1="214.6" x2="218.2" y2="221.68" stroke="#222" stroke-width="0.5" />
<line x1="201.2" y1="216.27" x2="218.2" y2="216.27" stroke="#222" stroke-width="0.5" />
<line x1="201.2" y1="218.08" x2="218.2" y2="224.52" stroke="#222" stroke-width="0.5" />
<line x1="201.2" y1="219.75" x2="218.2" y2="219.11" stroke="#222" stroke-width="0.5" />
<line x1="201.2" y1="221.68" x2="218.2" y2="226.84" stroke="#222" stroke-width="0.5" />
<line x1="201.2" y1="222.97" x2="218.2" y2="220.39" stroke="#222" stroke-width="0.5" />
<line x1="201.2" y1="224.9" x2="218.2" y2="227.87" stroke="#222" stroke-width="0.5" />
<line x1="201.2" y1="226.58" x2="218.2" y2="223.23" stroke="#222" stroke-width="0.5" />
<line x1="201.2" y1="228.12" x2="218.2" y2="225.81" stroke="#222" stroke-width="0.5" />
<line x1="201.2" y1="230.06" x2="218.2" y2="228.38" stroke="#222" stroke-width="0.5" />
<line x1="201.2" y1="234.57" x2="218.2" y2="237.79" stroke="#222" stroke-width="0.5" />
<circle cx="201.2" cy="200.43" r="1.1" fill="#f28a2a"/>
<circle cx="201.2" cy="205.58" r="1.1" fill="#f28a2a"/>
<circle cx="201.2" cy="208.54" r="1.1" fill="#f28a2a"/>
<circle cx="201.2" cy="210.35" r="1.1" fill="#f28a2a"/>
<circle cx="201.2" cy="211.63" r="1.1" fill="#f28a2a"/>
<circle cx="201.2" cy="214.6" r="1.1" fill="#f28a2a"/>
<circle cx="201.2" cy="216.27" r="1.1" fill="#f28a2a"/>
<circle cx="201.2" cy="218.08" r="1.1" fill="#f28a2a"/>
<circle cx="201.2" cy="219.75" r="1.1" fill="#f28a2a"/>
<circle cx="201.2" cy="221.68" r="1.1" fill="#f28a2a"/>
<circle cx="201.2" cy="222.97" r="1.1" fill="#f28a2a"/>
<circle cx="201.2" cy="224.9" r="1.1" fill="#f28a2a"/>
<circle cx="201.2" cy="226.58" r="1.1" fill="#f28a2a"/>
<circle cx="201.2" cy="228.12" r="1.1" fill="#f28a2a"/>
<circle cx="201.2" cy="230.06" r="1.1" fill="#f28a2a"/>
<circle cx="201.2" cy="234.57" r="1.1" fill="#f28a2a"/>
<rect x="217.1" y="210.28" width="2.2" height="2.2" fill="#e02a2a"/>
<rect x="217.1" y="210.92" width="2.2" height="2.2" fill="#e02a2a"/>
<rect x="217.1" y="211.82" width="2.2" height="2.2" fill="#e02a2a"/>
<rect x="217.1" y="213.5" width="2.2" height="2.2" fill="#e02a2a"/>
<rect x="217.1" y="215.17" width="2.2" height="2.2" fill="#e02a2a"/>
<rect x="217.1" y="216.72" width="2.2" height="2.2" fill="#e02a2a"/>
<rect x="217.1" y="218.01" width="2.2" height="2.2" fill="#e02a2a"/>
<rect x="217.1" y="219.29" width="2.2" height="2.2" fill="#e02a2a"/>
<rect x="217.1" y="220.58" width="2.2" height="2.2" fill="#e02a2a"/>
<rect x="217.1" y="222.13" width="2.2" height="2.2" fill="#e02a2a"/>
<rect x="217.1" y="223.42" width="2.2" height="2.2" fill="#e02a2a"/>
<rect x="217.1" y="224.71" width="2.2" height="2.2" fill="#e02a2a"/>
<rect x="217.1" y="225.74" width="2.2" height="2.2" fill="#e02a2a"/>
<rect x="217.1" y="226.77" width="2.2" height="2.2" fill="#e02a2a"/>
<rect x="217.1" y="227.28" width="2.2" height="2.2" fill="#e02a2a"/>
<rect x="217.1" y="236.69" width="2.2" height="2.2" fill="#e02a2a"/>
<text transform="translate(208.8,184) scale(0.95,1)" font-size="8.1" text-anchor="middle" fill="#111" stroke="#111" stroke-width="0.1" >1.6x</text>
<text transform="translate(208.7,190.8) scale(0.95,1)" font-size="8.1" text-anchor="middle" fill="#111" stroke="#111" stroke-width="0.1" >*<tspan font-style="italic">p</tspan>=0.0214</text>
<line x1="197" y1="195.2" x2="220.6" y2="195.2" stroke="#555" stroke-width="1.0" />
<line x1="249.3" y1="175.58" x2="249.3" y2="251.9" stroke="#777" stroke-width="0.9" />
<line x1="246.1" y1="251.9" x2="249.3" y2="251.9" stroke="#777" stroke-width="0.9" />
<text x="245" y="254.7" font-size="8.2" text-anchor="end" fill="#111" stroke="#111" stroke-width="0.1" >10<tspan font-size="6.2" dy="-2.6">1</tspan></text>
<line x1="246.1" y1="232.82" x2="249.3" y2="232.82" stroke="#777" stroke-width="0.9" />
<text x="245" y="235.62" font-size="8.2" text-anchor="end" fill="#111" stroke="#111" stroke-width="0.1" >10<tspan font-size="6.2" dy="-2.6">2</tspan></text>
<line x1="246.1" y1="213.74" x2="249.3" y2="213.74" stroke="#777" stroke-width="0.9" />
<text x="245" y="216.54" font-size="8.2" text-anchor="end" fill="#111" stroke="#111" stroke-width="0.1" >10<tspan font-size="6.2" dy="-2.6">3</tspan></text>
<line x1="246.1" y1="194.66" x2="249.3" y2="194.66" stroke="#777" stroke-width="0.9" />
<text x="245" y="197.46" font-size="8.2" text-anchor="end" fill="#111" stroke="#111" stroke-width="0.1" >10<tspan font-size="6.2" dy="-2.6">4</tspan></text>
<line x1="246.1" y1="175.58" x2="249.3" y2="175.58" stroke="#777" stroke-width="0.9" />
<text x="245" y="178.38" font-size="8.2" text-anchor="end" fill="#111" stroke="#111" stroke-width="0.1" >10<tspan font-size="6.2" dy="-2.6">5</tspan></text>
<line x1="248.85" y1="251.9" x2="289.5" y2="251.9" stroke="#999" stroke-width="1.0" />
<line x1="260.5" y1="251.9" x2="260.5" y2="254.9" stroke="#222" stroke-width="0.9" />
<line x1="277.8" y1="251.9" x2="277.8" y2="254.9" stroke="#222" stroke-width="0.9" />
<text transform="translate(263,257.4) rotate(-90) scale(0.95,1)" font-size="8.6" text-anchor="end" fill="#111" stroke="#111" stroke-width="0.1">EG.5.1</text>
<text transform="translate(280.3,257.4) rotate(-90) scale(0.95,1)" font-size="8.6" text-anchor="end" fill="#111" stroke="#111" stroke-width="0.1">HK.3</text>
<line x1="250" y1="240.4" x2="284.6" y2="240.4" stroke="#333" stroke-width="0.8" stroke-dasharray="1.6,1.0"/>
<line x1="260.8" y1="203.2" x2="278.1" y2="204.8" stroke="#222" stroke-width="0.55" />
<line x1="260.8" y1="208.9" x2="278.1" y2="212.5" stroke="#222" stroke-width="0.55" />
<line x1="260.8" y1="213" x2="278.1" y2="217" stroke="#222" stroke-width="0.55" />
<line x1="260.8" y1="217.9" x2="278.1" y2="219.8" stroke="#222" stroke-width="0.55" />
<line x1="260.8" y1="219.5" x2="278.1" y2="221.3" stroke="#222" stroke-width="0.55" />
<line x1="260.8" y1="220.3" x2="278.1" y2="222.8" stroke="#222" stroke-width="0.55" />
<line x1="260.8" y1="221.2" x2="278.1" y2="223.6" stroke="#222" stroke-width="0.55" />
<line x1="260.8" y1="221.9" x2="278.1" y2="224.4" stroke="#222" stroke-width="0.55" />
<line x1="260.8" y1="222.8" x2="278.1" y2="225.6" stroke="#222" stroke-width="0.55" />
<line x1="260.8" y1="223.4" x2="278.1" y2="226.8" stroke="#222" stroke-width="0.55" />
<line x1="260.8" y1="223.8" x2="278.1" y2="227.6" stroke="#222" stroke-width="0.55" />
<line x1="260.8" y1="224.7" x2="278.1" y2="228.4" stroke="#222" stroke-width="0.55" />
<line x1="260.8" y1="225.5" x2="278.1" y2="229.9" stroke="#222" stroke-width="0.55" />
<line x1="260.8" y1="226.5" x2="278.1" y2="231.3" stroke="#222" stroke-width="0.55" />
<line x1="260.8" y1="227.4" x2="278.1" y2="232.2" stroke="#222" stroke-width="0.55" />
<line x1="260.8" y1="228" x2="278.1" y2="232.9" stroke="#222" stroke-width="0.55" />
<circle cx="260.8" cy="203.2" r="1.45" fill="#2e9aa8"/>
<circle cx="260.8" cy="208.9" r="1.45" fill="#2e9aa8"/>
<circle cx="260.8" cy="213" r="1.45" fill="#2e9aa8"/>
<circle cx="260.8" cy="217.9" r="1.45" fill="#2e9aa8"/>
<circle cx="260.8" cy="219.5" r="1.45" fill="#2e9aa8"/>
<circle cx="260.8" cy="220.3" r="1.45" fill="#2e9aa8"/>
<circle cx="260.8" cy="221.2" r="1.45" fill="#2e9aa8"/>
<circle cx="260.8" cy="221.9" r="1.45" fill="#2e9aa8"/>
<circle cx="260.8" cy="222.8" r="1.45" fill="#2e9aa8"/>
<circle cx="260.8" cy="223.4" r="1.45" fill="#2e9aa8"/>
<circle cx="260.8" cy="223.8" r="1.45" fill="#2e9aa8"/>
<circle cx="260.8" cy="224.7" r="1.45" fill="#2e9aa8"/>
<circle cx="260.8" cy="225.5" r="1.45" fill="#2e9aa8"/>
<circle cx="260.8" cy="226.5" r="1.45" fill="#2e9aa8"/>
<circle cx="260.8" cy="227.4" r="1.45" fill="#2e9aa8"/>
<circle cx="260.8" cy="228" r="1.45" fill="#2e9aa8"/>
<circle cx="278.1" cy="204.8" r="1.45" fill="#2a55f0"/>
<circle cx="278.1" cy="212.5" r="1.45" fill="#2a55f0"/>
<circle cx="278.1" cy="217" r="1.45" fill="#2a55f0"/>
<circle cx="278.1" cy="219.8" r="1.45" fill="#2a55f0"/>
<circle cx="278.1" cy="221.3" r="1.45" fill="#2a55f0"/>
<circle cx="278.1" cy="222.8" r="1.45" fill="#2a55f0"/>
<circle cx="278.1" cy="223.6" r="1.45" fill="#2a55f0"/>
<circle cx="278.1" cy="224.4" r="1.45" fill="#2a55f0"/>
<circle cx="278.1" cy="225.6" r="1.45" fill="#2a55f0"/>
<circle cx="278.1" cy="226.8" r="1.45" fill="#2a55f0"/>
<circle cx="278.1" cy="227.6" r="1.45" fill="#2a55f0"/>
<circle cx="278.1" cy="228.4" r="1.45" fill="#2a55f0"/>
<circle cx="278.1" cy="229.9" r="1.45" fill="#2a55f0"/>
<circle cx="278.1" cy="231.3" r="1.45" fill="#2a55f0"/>
<circle cx="278.1" cy="232.2" r="1.45" fill="#2a55f0"/>
<circle cx="278.1" cy="232.9" r="1.45" fill="#2a55f0"/>
<text transform="translate(268.5,184) scale(0.95,1)" font-size="8.1" text-anchor="middle" fill="#111" stroke="#111" stroke-width="0.1" >1.4x</text>
<text transform="translate(270.9,191.7) scale(0.95,1)" font-size="8.1" text-anchor="middle" fill="#111" stroke="#111" stroke-width="0.1" >***<tspan font-style="italic">p</tspan>=0.0002</text>
<line x1="258" y1="195.2" x2="282.2" y2="195.2" stroke="#555" stroke-width="1.0" />
<text transform="translate(296,157.3) scale(0.92,1)" font-size="15.2" text-anchor="start" fill="#000" font-weight="bold" >c</text>
<line x1="321.3" y1="173.8" x2="321.3" y2="265.2" stroke="#c8c8c8" stroke-width="0.7" />
<line x1="349.4" y1="173.8" x2="349.4" y2="265.2" stroke="#c8c8c8" stroke-width="0.7" />
<line x1="377.7" y1="173.8" x2="377.7" y2="265.2" stroke="#c8c8c8" stroke-width="0.7" />
<line x1="294.2" y1="199.4" x2="406.1" y2="199.4" stroke="#c8c8c8" stroke-width="0.7" />
<line x1="294.2" y1="227.7" x2="406.1" y2="227.7" stroke="#c8c8c8" stroke-width="0.7" />
<line x1="294.2" y1="255.4" x2="406.1" y2="255.4" stroke="#c8c8c8" stroke-width="0.7" />
<rect x="294.2" y="173.8" width="111.9" height="91.4" fill="none" stroke="#a0a0a0" stroke-width="0.8"/>
<rect x="340.46" y="174.9" width="4.2" height="4.2" fill="none" stroke="#e8787a" stroke-width="0.75"/>
<rect x="323" y="210.39" width="4.2" height="4.2" fill="none" stroke="#e8787a" stroke-width="0.75"/>
<rect x="341.41" y="219.11" width="4.2" height="4.2" fill="none" stroke="#e8787a" stroke-width="0.75"/>
<rect x="333.06" y="229.36" width="4.2" height="4.2" fill="none" stroke="#e8787a" stroke-width="0.75"/>
<rect x="368.55" y="205.26" width="4.2" height="4.2" fill="none" stroke="#e8787a" stroke-width="0.75"/>
<rect x="378.6" y="206.21" width="4.2" height="4.2" fill="none" stroke="#e8787a" stroke-width="0.75"/>
<rect x="357.16" y="221.01" width="4.2" height="4.2" fill="none" stroke="#e8787a" stroke-width="0.75"/>
<rect x="360.96" y="221.96" width="4.2" height="4.2" fill="none" stroke="#e8787a" stroke-width="0.75"/>
<rect x="355.26" y="234.67" width="4.2" height="4.2" fill="none" stroke="#e8787a" stroke-width="0.75"/>
<rect x="345.21" y="241.88" width="4.2" height="4.2" fill="none" stroke="#e8787a" stroke-width="0.75"/>
<rect x="348.24" y="243.21" width="4.2" height="4.2" fill="none" stroke="#e8787a" stroke-width="0.75"/>
<rect x="327.18" y="251.75" width="4.2" height="4.2" fill="none" stroke="#e8787a" stroke-width="0.75"/>
<rect x="336.29" y="254.03" width="4.2" height="4.2" fill="none" stroke="#e8787a" stroke-width="0.75"/>
<rect x="360.01" y="257.44" width="4.2" height="4.2" fill="none" stroke="#e8787a" stroke-width="0.75"/>
<rect x="297.01" y="258.77" width="4.2" height="4.2" fill="none" stroke="#e8787a" stroke-width="0.75"/>
<line x1="346.9" y1="237.2" x2="349.46" y2="185.39" stroke="#e02a2a" stroke-width="0.85" />
<path d="M349.69,180.8 L351.56,185.5 L349.5,184.49 L347.36,185.29Z" fill="#e02a2a"/>
<line x1="346.9" y1="237.2" x2="359.93" y2="204.8" stroke="#f28a2a" stroke-width="0.85" />
<path d="M361.64,200.53 L361.87,205.59 L360.26,203.97 L357.98,204.02Z" fill="#f28a2a"/>
<line x1="346.9" y1="237.2" x2="395.51" y2="200.18" stroke="#2a55f0" stroke-width="0.85" />
<path d="M399.17,197.39 L396.78,201.85 L396.23,199.64 L394.24,198.51Z" fill="#2a55f0"/>
<line x1="346.9" y1="237.2" x2="385.93" y2="214.65" stroke="#2e9aa8" stroke-width="0.85" />
<path d="M389.91,212.35 L386.98,216.47 L386.7,214.2 L384.87,212.83Z" fill="#2e9aa8"/>
<line x1="346.9" y1="237.2" x2="372.7" y2="236.41" stroke="#2d962d" stroke-width="0.85" />
<path d="M377.3,236.27 L372.77,238.51 L373.6,236.38 L372.64,234.31Z" fill="#2d962d"/>
<circle cx="349.8" cy="178.5" r="2.1" fill="#e02a2a"/>
<circle cx="362.5" cy="198.4" r="2.1" fill="#f28a2a"/>
<circle cx="401" cy="196" r="2.1" fill="#2a55f0"/>
<circle cx="391.9" cy="211.2" r="2.1" fill="#2e9aa8"/>
<circle cx="379.6" cy="236.2" r="2.1" fill="#2d962d"/>
<circle cx="346.9" cy="237.2" r="2.1" fill="#c23cf0"/>
<text transform="translate(336.5,183.5) scale(0.95,1)" font-size="8.1" text-anchor="middle" fill="#111" stroke="#111" stroke-width="0.1" >JN.1</text>
<text transform="translate(334,191.7) scale(0.95,1)" font-size="8.1" text-anchor="middle" fill="#de2e2e" stroke="#de2e2e" stroke-width="0.1" >2.08</text>
<text transform="translate(364,187.9) scale(0.95,1)" font-size="8.1" text-anchor="middle" fill="#f08a28" stroke="#f08a28" stroke-width="0.1" >1.47</text>
<text transform="translate(367.8,194.9) scale(0.95,1)" font-size="8.1" text-anchor="middle" fill="#111" stroke="#111" stroke-width="0.1" >BA.2.86</text>
<text transform="translate(395.7,184.1) scale(0.95,1)" font-size="8.1" text-anchor="middle" fill="#2d55f0" stroke="#2d55f0" stroke-width="0.1" >2.40</text>
<text transform="translate(395.3,192.7) scale(0.95,1)" font-size="8.1" text-anchor="middle" fill="#111" stroke="#111" stroke-width="0.1" >HK.3</text>
<text transform="translate(394.4,224.3) scale(0.95,1)" font-size="8.1" text-anchor="middle" fill="#111" stroke="#111" stroke-width="0.1" >EG.5.1</text>
<text transform="translate(390.2,231.5) scale(0.95,1)" font-size="8.1" text-anchor="middle" fill="#34a2b2" stroke="#34a2b2" stroke-width="0.1" >1.83</text>
<text transform="translate(335,243.8) scale(0.95,1)" font-size="8.1" text-anchor="middle" fill="#111" stroke="#111" stroke-width="0.1" >BA.2</text>
<text transform="translate(384,245.7) scale(0.95,1)" font-size="8.1" text-anchor="middle" fill="#111" stroke="#111" stroke-width="0.1" >XBB.1</text>
<text transform="translate(381,252.7) scale(0.95,1)" font-size="8.1" text-anchor="middle" fill="#2a942a" stroke="#2a942a" stroke-width="0.1" >1.14</text>
<text transform="translate(406.5,157.3) scale(0.92,1)" font-size="15.2" text-anchor="start" fill="#000" font-weight="bold" >d</text>
<text transform="translate(499,154.5) scale(0.95,1)" font-size="8.35" text-anchor="middle" fill="#111" stroke="#111" stroke-width="0.1" >BA.5 + JN.1 breakthrough (n=16)</text>
<line x1="439.5" y1="157.6" x2="560" y2="157.6" stroke="#a8a8a8" stroke-width="1.6" />
<line x1="436.4" y1="171.9" x2="436.4" y2="249.3" stroke="#777" stroke-width="0.9" />
<line x1="433.2" y1="249.3" x2="436.4" y2="249.3" stroke="#777" stroke-width="0.9" />
<text x="432.6" y="252.1" font-size="8.2" text-anchor="end" fill="#111" stroke="#111" stroke-width="0.1" >10<tspan font-size="6.2" dy="-2.6">1</tspan></text>
<line x1="433.2" y1="229.95" x2="436.4" y2="229.95" stroke="#777" stroke-width="0.9" />
<text x="432.6" y="232.75" font-size="8.2" text-anchor="end" fill="#111" stroke="#111" stroke-width="0.1" >10<tspan font-size="6.2" dy="-2.6">2</tspan></text>
<line x1="433.2" y1="210.6" x2="436.4" y2="210.6" stroke="#777" stroke-width="0.9" />
<text x="432.6" y="213.4" font-size="8.2" text-anchor="end" fill="#111" stroke="#111" stroke-width="0.1" >10<tspan font-size="6.2" dy="-2.6">3</tspan></text>
<line x1="433.2" y1="191.25" x2="436.4" y2="191.25" stroke="#777" stroke-width="0.9" />
<text x="432.6" y="194.05" font-size="8.2" text-anchor="end" fill="#111" stroke="#111" stroke-width="0.1" >10<tspan font-size="6.2" dy="-2.6">4</tspan></text>
<line x1="433.2" y1="171.9" x2="436.4" y2="171.9" stroke="#777" stroke-width="0.9" />
<text x="432.6" y="174.7" font-size="8.2" text-anchor="end" fill="#111" stroke="#111" stroke-width="0.1" >10<tspan font-size="6.2" dy="-2.6">5</tspan></text>
<line x1="435.95" y1="249.3" x2="553.8" y2="249.3" stroke="#999" stroke-width="1.0" />
<text transform="translate(415.6,217) rotate(-90)" font-size="8.1" text-anchor="middle" fill="#111" stroke="#111" stroke-width="0.1">Reciprocal serum ID<tspan font-size="6.40" dy="1.6">50</tspan></text>
<line x1="445.4" y1="249.3" x2="445.4" y2="252.3" stroke="#222" stroke-width="0.9" />
<line x1="466.2" y1="249.3" x2="466.2" y2="252.3" stroke="#222" stroke-width="0.9" />
<line x1="486.3" y1="249.3" x2="486.3" y2="252.3" stroke="#222" stroke-width="0.9" />
<line x1="506.9" y1="249.3" x2="506.9" y2="252.3" stroke="#222" stroke-width="0.9" />
<line x1="527.5" y1="249.3" x2="527.5" y2="252.3" stroke="#222" stroke-width="0.9" />
<line x1="548" y1="249.3" x2="548" y2="252.3" stroke="#222" stroke-width="0.9" />
<text transform="translate(447.9,256.6) rotate(-90) scale(0.95,1)" font-size="8.6" text-anchor="end" fill="#111" stroke="#111" stroke-width="0.1">BA.2</text>
<text transform="translate(468.7,256.6) rotate(-90) scale(0.95,1)" font-size="8.6" text-anchor="end" fill="#111" stroke="#111" stroke-width="0.1">BA.2.86</text>
<text transform="translate(488.8,256.6) rotate(-90) scale(0.95,1)" font-size="8.6" text-anchor="end" fill="#111" stroke="#111" stroke-width="0.1">JN.1</text>
<text transform="translate(509.4,256.6) rotate(-90) scale(0.95,1)" font-size="8.6" text-anchor="end" fill="#111" stroke="#111" stroke-width="0.1">XBB.1</text>
<text transform="translate(530,256.6) rotate(-90) scale(0.95,1)" font-size="8.6" text-anchor="end" fill="#111" stroke="#111" stroke-width="0.1">EG.5.1</text>
<text transform="translate(550.5,256.6) rotate(-90) scale(0.95,1)" font-size="8.6" text-anchor="end" fill="#111" stroke="#111" stroke-width="0.1">HK.3</text>
<line x1="436.4" y1="244.2" x2="553.8" y2="244.2" stroke="#333" stroke-width="0.8" stroke-dasharray="1.6,1.0"/>
<text transform="translate(446.4,167.3) scale(0.95,1)" font-size="8.1" text-anchor="middle" fill="#c236f0" stroke="#c236f0" stroke-width="0.1" >1x</text>
<text transform="translate(467,167.3) scale(0.95,1)" font-size="8.1" text-anchor="middle" fill="#f08a28" stroke="#f08a28" stroke-width="0.1" >0.8x</text>
<text transform="translate(488.7,167.3) scale(0.95,1)" font-size="8.1" text-anchor="middle" fill="#de2e2e" stroke="#de2e2e" stroke-width="0.1" >0.9x</text>
<text transform="translate(510,167.3) scale(0.95,1)" font-size="8.1" text-anchor="middle" fill="#2a942a" stroke="#2a942a" stroke-width="0.1" >4.2x</text>
<text transform="translate(531.6,167.3) scale(0.95,1)" font-size="8.1" text-anchor="middle" fill="#34a2b2" stroke="#34a2b2" stroke-width="0.1" >2.1x</text>
<text transform="translate(552.6,167.3) scale(0.95,1)" font-size="8.1" text-anchor="middle" fill="#2d55f0" stroke="#2d55f0" stroke-width="0.1" >3.4x</text>
<text transform="translate(446,176.9) scale(0.95,1)" font-size="8.1" text-anchor="middle" fill="#c236f0" stroke="#c236f0" stroke-width="0.1" >2552</text>
<text transform="translate(467,176.9) scale(0.95,1)" font-size="8.1" text-anchor="middle" fill="#f08a28" stroke="#f08a28" stroke-width="0.1" >3145</text>
<text transform="translate(488.8,176.9) scale(0.95,1)" font-size="8.1" text-anchor="middle" fill="#de2e2e" stroke="#de2e2e" stroke-width="0.1" >2830</text>
<text transform="translate(509.7,176.9) scale(0.95,1)" font-size="8.1" text-anchor="middle" fill="#2a942a" stroke="#2a942a" stroke-width="0.1" >608</text>
<text transform="translate(531.3,176.9) scale(0.95,1)" font-size="8.1" text-anchor="middle" fill="#34a2b2" stroke="#34a2b2" stroke-width="0.1" >1225</text>
<text transform="translate(552.3,176.9) scale(0.95,1)" font-size="8.1" text-anchor="middle" fill="#2d55f0" stroke="#2d55f0" stroke-width="0.1" >742</text>
<circle cx="444.86" cy="178.14" r="1.35" fill="#cc2cf5"/>
<circle cx="444.86" cy="187.81" r="1.35" fill="#cc2cf5"/>
<circle cx="444.86" cy="190.55" r="1.35" fill="#cc2cf5"/>
<circle cx="442.12" cy="192.74" r="1.35" fill="#cc2cf5"/>
<circle cx="447.6" cy="193.28" r="1.35" fill="#cc2cf5"/>
<circle cx="444.86" cy="195.66" r="1.35" fill="#cc2cf5"/>
<circle cx="442.12" cy="197.85" r="1.35" fill="#cc2cf5"/>
<circle cx="447.6" cy="197.85" r="1.35" fill="#cc2cf5"/>
<circle cx="444.86" cy="202.41" r="1.35" fill="#cc2cf5"/>
<circle cx="442.12" cy="204.78" r="1.35" fill="#cc2cf5"/>
<circle cx="447.6" cy="207.34" r="1.35" fill="#cc2cf5"/>
<circle cx="442.12" cy="210.62" r="1.35" fill="#cc2cf5"/>
<circle cx="444.86" cy="211.53" r="1.35" fill="#cc2cf5"/>
<circle cx="447.6" cy="210.62" r="1.35" fill="#cc2cf5"/>
<circle cx="444.86" cy="213.91" r="1.35" fill="#cc2cf5"/>
<circle cx="444.86" cy="231.06" r="1.35" fill="#cc2cf5"/>
<circle cx="461.83" cy="184.16" r="1.35" fill="#f28a2a"/>
<circle cx="464.39" cy="187.26" r="1.35" fill="#f28a2a"/>
<circle cx="461.83" cy="190.91" r="1.35" fill="#f28a2a"/>
<circle cx="465.85" cy="192.01" r="1.35" fill="#f28a2a"/>
<circle cx="463.11" cy="194.2" r="1.35" fill="#f28a2a"/>
<circle cx="464.39" cy="198.21" r="1.35" fill="#f28a2a"/>
<circle cx="461.28" cy="199.67" r="1.35" fill="#f28a2a"/>
<circle cx="466.76" cy="199.67" r="1.35" fill="#f28a2a"/>
<circle cx="463.11" cy="202.41" r="1.35" fill="#f28a2a"/>
<circle cx="465.85" cy="203.69" r="1.35" fill="#f28a2a"/>
<circle cx="463.11" cy="208.43" r="1.35" fill="#f28a2a"/>
<circle cx="465.85" cy="210.62" r="1.35" fill="#f28a2a"/>
<circle cx="464.39" cy="212.81" r="1.35" fill="#f28a2a"/>
<circle cx="466.76" cy="212.81" r="1.35" fill="#f28a2a"/>
<circle cx="461.83" cy="215.73" r="1.35" fill="#f28a2a"/>
<circle cx="485.01" cy="183.61" r="1.35" fill="#f51f1f"/>
<circle cx="482.27" cy="188.36" r="1.35" fill="#f51f1f"/>
<circle cx="486.28" cy="188.36" r="1.35" fill="#f51f1f"/>
<circle cx="482.27" cy="192.01" r="1.35" fill="#f51f1f"/>
<circle cx="487.74" cy="192.01" r="1.35" fill="#f51f1f"/>
<circle cx="485.01" cy="195.11" r="1.35" fill="#f51f1f"/>
<circle cx="482.27" cy="200.58" r="1.35" fill="#f51f1f"/>
<circle cx="487.74" cy="201.5" r="1.35" fill="#f51f1f"/>
<circle cx="485.01" cy="203.69" r="1.35" fill="#f51f1f"/>
<circle cx="482.27" cy="205.51" r="1.35" fill="#f51f1f"/>
<circle cx="487.74" cy="205.51" r="1.35" fill="#f51f1f"/>
<circle cx="482.27" cy="213.91" r="1.35" fill="#f51f1f"/>
<circle cx="487.74" cy="213.91" r="1.35" fill="#f51f1f"/>
<circle cx="485.01" cy="215.18" r="1.35" fill="#f51f1f"/>
<circle cx="482.27" cy="216.46" r="1.35" fill="#f51f1f"/>
<circle cx="487.74" cy="216.46" r="1.35" fill="#f51f1f"/>
<circle cx="504.17" cy="195.11" r="1.35" fill="#2d962d"/>
<circle cx="505.99" cy="202.41" r="1.35" fill="#2d962d"/>
<circle cx="503.26" cy="206.06" r="1.35" fill="#2d962d"/>
<circle cx="505.99" cy="208.8" r="1.35" fill="#2d962d"/>
<circle cx="505.08" cy="211.53" r="1.35" fill="#2d962d"/>
<circle cx="503.26" cy="214.64" r="1.35" fill="#2d962d"/>
<circle cx="507.82" cy="216.09" r="1.35" fill="#2d962d"/>
<circle cx="505.08" cy="217.92" r="1.35" fill="#2d962d"/>
<circle cx="502.34" cy="219.38" r="1.35" fill="#2d962d"/>
<circle cx="506.91" cy="219.74" r="1.35" fill="#2d962d"/>
<circle cx="504.17" cy="223.39" r="1.35" fill="#2d962d"/>
<circle cx="507.82" cy="223.03" r="1.35" fill="#2d962d"/>
<circle cx="503.26" cy="225.22" r="1.35" fill="#2d962d"/>
<circle cx="505.08" cy="227.04" r="1.35" fill="#2d962d"/>
<circle cx="503.8" cy="229.78" r="1.35" fill="#2d962d"/>
<circle cx="525.15" cy="189.64" r="1.35" fill="#2e9aa8"/>
<circle cx="525.15" cy="193.83" r="1.35" fill="#2e9aa8"/>
<circle cx="522.42" cy="198.76" r="1.35" fill="#2e9aa8"/>
<circle cx="526.98" cy="199.31" r="1.35" fill="#2e9aa8"/>
<circle cx="525.15" cy="202.41" r="1.35" fill="#2e9aa8"/>
<circle cx="527.89" cy="203.32" r="1.35" fill="#2e9aa8"/>
<circle cx="523.33" cy="204.78" r="1.35" fill="#2e9aa8"/>
<circle cx="526.07" cy="205.51" r="1.35" fill="#2e9aa8"/>
<circle cx="527.89" cy="208.8" r="1.35" fill="#2e9aa8"/>
<circle cx="523.33" cy="213.91" r="1.35" fill="#2e9aa8"/>
<circle cx="526.98" cy="217.01" r="1.35" fill="#2e9aa8"/>
<circle cx="525.15" cy="218.28" r="1.35" fill="#2e9aa8"/>
<circle cx="522.42" cy="219.74" r="1.35" fill="#2e9aa8"/>
<circle cx="527.89" cy="222.48" r="1.35" fill="#2e9aa8"/>
<circle cx="525.15" cy="223.03" r="1.35" fill="#2e9aa8"/>
<circle cx="525.15" cy="233.98" r="1.35" fill="#2e9aa8"/>
<circle cx="545.23" cy="193.83" r="1.35" fill="#2030f5"/>
<circle cx="545.23" cy="200.58" r="1.35" fill="#2030f5"/>
<circle cx="542.49" cy="204.23" r="1.35" fill="#2030f5"/>
<circle cx="547.96" cy="204.78" r="1.35" fill="#2030f5"/>
<circle cx="544.31" cy="206.61" r="1.35" fill="#2030f5"/>
<circle cx="547.05" cy="208.8" r="1.35" fill="#2030f5"/>
<circle cx="542.49" cy="211.53" r="1.35" fill="#2030f5"/>
<circle cx="545.23" cy="214.27" r="1.35" fill="#2030f5"/>
<circle cx="548.33" cy="212.81" r="1.35" fill="#2030f5"/>
<circle cx="542.49" cy="217.92" r="1.35" fill="#2030f5"/>
<circle cx="545.23" cy="221.57" r="1.35" fill="#2030f5"/>
<circle cx="547.05" cy="223.39" r="1.35" fill="#2030f5"/>
<circle cx="544.31" cy="227.04" r="1.35" fill="#2030f5"/>
<circle cx="547.05" cy="227.04" r="1.35" fill="#2030f5"/>
<circle cx="545.23" cy="234.71" r="1.35" fill="#2030f5"/>
<line x1="440.06" y1="202.41" x2="449.66" y2="202.41" stroke="#777" stroke-width="0.8" />
<line x1="461.05" y1="201.13" x2="470.65" y2="201.13" stroke="#777" stroke-width="0.8" />
<line x1="480.21" y1="202.41" x2="489.81" y2="202.41" stroke="#777" stroke-width="0.8" />
<line x1="500.83" y1="214.82" x2="510.43" y2="214.82" stroke="#777" stroke-width="0.8" />
<line x1="520.35" y1="209.16" x2="529.95" y2="209.16" stroke="#777" stroke-width="0.8" />
<line x1="539.88" y1="213.36" x2="549.48" y2="213.36" stroke="#777" stroke-width="0.8" />
<text transform="translate(566.5,157.3) scale(0.92,1)" font-size="15.2" text-anchor="start" fill="#000" font-weight="bold" >e</text>
<line x1="593.7" y1="172" x2="593.7" y2="271.2" stroke="#c8c8c8" stroke-width="0.7" />
<line x1="617.7" y1="172" x2="617.7" y2="271.2" stroke="#c8c8c8" stroke-width="0.7" />
<line x1="641.5" y1="172" x2="641.5" y2="271.2" stroke="#c8c8c8" stroke-width="0.7" />
<line x1="665.9" y1="172" x2="665.9" y2="271.2" stroke="#c8c8c8" stroke-width="0.7" />
<line x1="574.3" y1="182.3" x2="683.2" y2="182.3" stroke="#c8c8c8" stroke-width="0.7" />
<line x1="574.3" y1="206.5" x2="683.2" y2="206.5" stroke="#c8c8c8" stroke-width="0.7" />
<line x1="574.3" y1="230.5" x2="683.2" y2="230.5" stroke="#c8c8c8" stroke-width="0.7" />
<line x1="574.3" y1="255" x2="683.2" y2="255" stroke="#c8c8c8" stroke-width="0.7" />
<rect x="574.3" y="172.0" width="108.9" height="99.2" fill="none" stroke="#a0a0a0" stroke-width="0.8"/>
<rect x="650.15" y="209.11" width="4.2" height="4.2" fill="none" stroke="#e8787a" stroke-width="0.75"/>
<rect x="629.81" y="217.25" width="4.2" height="4.2" fill="none" stroke="#e8787a" stroke-width="0.75"/>
<rect x="631.84" y="222.95" width="4.2" height="4.2" fill="none" stroke="#e8787a" stroke-width="0.75"/>
<rect x="637.34" y="224.37" width="4.2" height="4.2" fill="none" stroke="#e8787a" stroke-width="0.75"/>
<rect x="642.42" y="226.4" width="4.2" height="4.2" fill="none" stroke="#e8787a" stroke-width="0.75"/>
<rect x="648.12" y="221.73" width="4.2" height="4.2" fill="none" stroke="#e8787a" stroke-width="0.75"/>
<rect x="658.7" y="217.25" width="4.2" height="4.2" fill="none" stroke="#e8787a" stroke-width="0.75"/>
<rect x="633.88" y="237.59" width="4.2" height="4.2" fill="none" stroke="#e8787a" stroke-width="0.75"/>
<rect x="631.23" y="238.61" width="4.2" height="4.2" fill="none" stroke="#e8787a" stroke-width="0.75"/>
<rect x="628.18" y="243.7" width="4.2" height="4.2" fill="none" stroke="#e8787a" stroke-width="0.75"/>
<rect x="640.39" y="234.54" width="4.2" height="4.2" fill="none" stroke="#e8787a" stroke-width="0.75"/>
<rect x="675.38" y="265.06" width="4.2" height="4.2" fill="none" stroke="#e8787a" stroke-width="0.75"/>
<line x1="630.3" y1="233.2" x2="636.55" y2="183.05" stroke="#2a55f0" stroke-width="0.85" />
<path d="M637.12,178.48 L638.63,183.31 L636.66,182.15 L634.46,182.79Z" fill="#2a55f0"/>
<line x1="630.3" y1="233.2" x2="629.97" y2="202.9" stroke="#2e9aa8" stroke-width="0.85" />
<path d="M629.92,198.3 L632.07,202.88 L629.96,202 L627.87,202.92Z" fill="#2e9aa8"/>
<line x1="630.3" y1="233.2" x2="585.89" y2="230.52" stroke="#2d962d" stroke-width="0.85" />
<path d="M581.3,230.24 L586.01,228.42 L584.99,230.46 L585.76,232.61Z" fill="#2d962d"/>
<line x1="630.3" y1="233.2" x2="646.23" y2="231.66" stroke="#e02a2a" stroke-width="0.85" />
<path d="M650.81,231.22 L646.43,233.75 L647.13,231.58 L646.03,229.57Z" fill="#e02a2a"/>
<line x1="630.3" y1="233.2" x2="639.71" y2="233.78" stroke="#f28a2a" stroke-width="0.85" />
<path d="M644.3,234.06 L639.58,235.87 L640.61,233.83 L639.84,231.68Z" fill="#f28a2a"/>
<circle cx="637.4" cy="176.2" r="2.1" fill="#2a55f0"/>
<circle cx="629.9" cy="196" r="2.1" fill="#2e9aa8"/>
<circle cx="579" cy="230.1" r="2.1" fill="#2d962d"/>
<circle cx="653.1" cy="231" r="2.1" fill="#e02a2a"/>
<circle cx="646.6" cy="234.2" r="2.1" fill="#f28a2a"/>
<circle cx="630.3" cy="233.2" r="2.1" fill="#c23cf0"/>
<text transform="translate(650.2,181.4) scale(0.95,1)" font-size="8.1" text-anchor="middle" fill="#111" stroke="#111" stroke-width="0.1" >HK.3</text>
<text transform="translate(649.6,191.1) scale(0.95,1)" font-size="8.1" text-anchor="middle" fill="#2d55f0" stroke="#2d55f0" stroke-width="0.1" >2.38</text>
<text transform="translate(609.5,201.7) scale(0.95,1)" font-size="8.1" text-anchor="middle" fill="#111" stroke="#111" stroke-width="0.1" >EG.5.1</text>
<text transform="translate(608.9,210.5) scale(0.95,1)" font-size="8.1" text-anchor="middle" fill="#34a2b2" stroke="#34a2b2" stroke-width="0.1" >1.53</text>
<text transform="translate(657.7,219.6) scale(0.95,1)" font-size="8.1" text-anchor="middle" fill="#de2e2e" stroke="#de2e2e" stroke-width="0.1" >0.94</text>
<text transform="translate(657.7,226.1) scale(0.95,1)" font-size="8.1" text-anchor="middle" fill="#111" stroke="#111" stroke-width="0.1" >JN.1</text>
<text transform="translate(596.7,229.2) scale(0.95,1)" font-size="8.1" text-anchor="middle" fill="#2a942a" stroke="#2a942a" stroke-width="0.1" >2.14</text>
<text transform="translate(588,240.4) scale(0.95,1)" font-size="8.1" text-anchor="middle" fill="#111" stroke="#111" stroke-width="0.1" >XBB.1</text>
<text transform="translate(628.7,241.4) scale(0.95,1)" font-size="8.1" text-anchor="middle" fill="#111" stroke="#111" stroke-width="0.1" >BA.2</text>
<text transform="translate(656.1,243) scale(0.95,1)" font-size="8.1" text-anchor="middle" fill="#111" stroke="#111" stroke-width="0.1" >BA.2.86</text>
<text transform="translate(650.2,252.6) scale(0.95,1)" font-size="8.1" text-anchor="middle" fill="#f08a28" stroke="#f08a28" stroke-width="0.1" >0.67</text>
<text transform="translate(1,308.6) scale(0.92,1)" font-size="15.2" text-anchor="start" fill="#000" font-weight="bold" >f</text>
<line x1="33.6" y1="332.85" x2="33.6" y2="407.1" stroke="#666" stroke-width="0.9" />
<line x1="30.4" y1="407.1" x2="33.6" y2="407.1" stroke="#666" stroke-width="0.9" />
<text x="29" y="409.9" font-size="8.2" text-anchor="end" fill="#111" stroke="#111" stroke-width="0.1" >10<tspan font-size="5.4" dy="-2.8">0</tspan></text>
<line x1="30.4" y1="392.25" x2="33.6" y2="392.25" stroke="#666" stroke-width="0.9" />
<text x="29" y="395.05" font-size="8.2" text-anchor="end" fill="#111" stroke="#111" stroke-width="0.1" >10<tspan font-size="5.4" dy="-2.8">1</tspan></text>
<line x1="30.4" y1="377.4" x2="33.6" y2="377.4" stroke="#666" stroke-width="0.9" />
<text x="29" y="380.2" font-size="8.2" text-anchor="end" fill="#111" stroke="#111" stroke-width="0.1" >10<tspan font-size="5.4" dy="-2.8">2</tspan></text>
<line x1="30.4" y1="362.55" x2="33.6" y2="362.55" stroke="#666" stroke-width="0.9" />
<text x="29" y="365.35" font-size="8.2" text-anchor="end" fill="#111" stroke="#111" stroke-width="0.1" >10<tspan font-size="5.4" dy="-2.8">3</tspan></text>
<line x1="30.4" y1="347.7" x2="33.6" y2="347.7" stroke="#666" stroke-width="0.9" />
<text x="29" y="350.5" font-size="8.2" text-anchor="end" fill="#111" stroke="#111" stroke-width="0.1" >10<tspan font-size="5.4" dy="-2.8">4</tspan></text>
<line x1="30.4" y1="332.85" x2="33.6" y2="332.85" stroke="#666" stroke-width="0.9" />
<text x="29" y="335.65" font-size="8.2" text-anchor="end" fill="#111" stroke="#111" stroke-width="0.1" >10<tspan font-size="5.4" dy="-2.8">5</tspan></text>
<line x1="33.15" y1="407.1" x2="151.6" y2="407.1" stroke="#999" stroke-width="1.0" />
<text transform="translate(10.6,370.38) rotate(-90)" font-size="8.05" text-anchor="middle" fill="#111" stroke="#111" stroke-width="0.1">Reciprocal serum ID<tspan font-size="6.36" dy="1.6">50</tspan></text>
<line x1="41.5" y1="407.1" x2="41.5" y2="410.1" stroke="#222" stroke-width="0.9" />
<line x1="62" y1="407.1" x2="62" y2="410.1" stroke="#222" stroke-width="0.9" />
<line x1="82.4" y1="407.1" x2="82.4" y2="410.1" stroke="#222" stroke-width="0.9" />
<line x1="102.8" y1="407.1" x2="102.8" y2="410.1" stroke="#222" stroke-width="0.9" />
<line x1="123.3" y1="407.1" x2="123.3" y2="410.1" stroke="#222" stroke-width="0.9" />
<line x1="143.7" y1="407.1" x2="143.7" y2="410.1" stroke="#222" stroke-width="0.9" />
<text transform="translate(44,412.8) rotate(-90) scale(0.95,1)" font-size="8.6" text-anchor="end" fill="#111" stroke="#111" stroke-width="0.1">BA.2</text>
<text transform="translate(64.5,412.8) rotate(-90) scale(0.95,1)" font-size="8.6" text-anchor="end" fill="#111" stroke="#111" stroke-width="0.1">BA.2.86</text>
<text transform="translate(84.9,412.8) rotate(-90) scale(0.95,1)" font-size="8.6" text-anchor="end" fill="#111" stroke="#111" stroke-width="0.1">JN.1</text>
<text transform="translate(105.3,412.8) rotate(-90) scale(0.95,1)" font-size="8.6" text-anchor="end" fill="#111" stroke="#111" stroke-width="0.1">XBB.1</text>
<text transform="translate(125.8,412.8) rotate(-90) scale(0.95,1)" font-size="8.6" text-anchor="end" fill="#111" stroke="#111" stroke-width="0.1">EG.5.1</text>
<text transform="translate(146.2,412.8) rotate(-90) scale(0.95,1)" font-size="8.6" text-anchor="end" fill="#111" stroke="#111" stroke-width="0.1">HK.3</text>
<line x1="33.6" y1="392.25" x2="151.6" y2="392.25" stroke="#333" stroke-width="0.8" stroke-dasharray="1.6,1.0"/>
<text transform="translate(93.9,307) scale(0.95,1)" font-size="8.4" text-anchor="middle" fill="#111" stroke="#111" stroke-width="0.1" >BA.2 infected hamster sera (n=6)</text>
<line x1="33.6" y1="478.65" x2="33.6" y2="553.4" stroke="#666" stroke-width="0.9" />
<line x1="30.4" y1="553.4" x2="33.6" y2="553.4" stroke="#666" stroke-width="0.9" />
<text x="29" y="556.2" font-size="8.2" text-anchor="end" fill="#111" stroke="#111" stroke-width="0.1" >10<tspan font-size="5.4" dy="-2.8">0</tspan></text>
<line x1="30.4" y1="538.45" x2="33.6" y2="538.45" stroke="#666" stroke-width="0.9" />
<text x="29" y="541.25" font-size="8.2" text-anchor="end" fill="#111" stroke="#111" stroke-width="0.1" >10<tspan font-size="5.4" dy="-2.8">1</tspan></text>
<line x1="30.4" y1="523.5" x2="33.6" y2="523.5" stroke="#666" stroke-width="0.9" />
<text x="29" y="526.3" font-size="8.2" text-anchor="end" fill="#111" stroke="#111" stroke-width="0.1" >10<tspan font-size="5.4" dy="-2.8">2</tspan></text>
<line x1="30.4" y1="508.55" x2="33.6" y2="508.55" stroke="#666" stroke-width="0.9" />
<text x="29" y="511.35" font-size="8.2" text-anchor="end" fill="#111" stroke="#111" stroke-width="0.1" >10<tspan font-size="5.4" dy="-2.8">3</tspan></text>
<line x1="30.4" y1="493.6" x2="33.6" y2="493.6" stroke="#666" stroke-width="0.9" />
<text x="29" y="496.4" font-size="8.2" text-anchor="end" fill="#111" stroke="#111" stroke-width="0.1" >10<tspan font-size="5.4" dy="-2.8">4</tspan></text>
<line x1="30.4" y1="478.65" x2="33.6" y2="478.65" stroke="#666" stroke-width="0.9" />
<text x="29" y="481.45" font-size="8.2" text-anchor="end" fill="#111" stroke="#111" stroke-width="0.1" >10<tspan font-size="5.4" dy="-2.8">5</tspan></text>
<line x1="33.15" y1="553.4" x2="151.6" y2="553.4" stroke="#999" stroke-width="1.0" />
<text transform="translate(10.6,516.42) rotate(-90)" font-size="8.05" text-anchor="middle" fill="#111" stroke="#111" stroke-width="0.1">Reciprocal serum ID<tspan font-size="6.36" dy="1.6">50</tspan></text>
<line x1="41.5" y1="553.4" x2="41.5" y2="556.4" stroke="#222" stroke-width="0.9" />
<line x1="62" y1="553.4" x2="62" y2="556.4" stroke="#222" stroke-width="0.9" />
<line x1="82.4" y1="553.4" x2="82.4" y2="556.4" stroke="#222" stroke-width="0.9" />
<line x1="102.8" y1="553.4" x2="102.8" y2="556.4" stroke="#222" stroke-width="0.9" />
<line x1="123.3" y1="553.4" x2="123.3" y2="556.4" stroke="#222" stroke-width="0.9" />
<line x1="143.7" y1="553.4" x2="143.7" y2="556.4" stroke="#222" stroke-width="0.9" />
<text transform="translate(44,559) rotate(-90) scale(0.95,1)" font-size="8.6" text-anchor="end" fill="#111" stroke="#111" stroke-width="0.1">BA.2</text>
<text transform="translate(64.5,559) rotate(-90) scale(0.95,1)" font-size="8.6" text-anchor="end" fill="#111" stroke="#111" stroke-width="0.1">BA.2.86</text>
<text transform="translate(84.9,559) rotate(-90) scale(0.95,1)" font-size="8.6" text-anchor="end" fill="#111" stroke="#111" stroke-width="0.1">JN.1</text>
<text transform="translate(105.3,559) rotate(-90) scale(0.95,1)" font-size="8.6" text-anchor="end" fill="#111" stroke="#111" stroke-width="0.1">XBB.1</text>
<text transform="translate(125.8,559) rotate(-90) scale(0.95,1)" font-size="8.6" text-anchor="end" fill="#111" stroke="#111" stroke-width="0.1">EG.5.1</text>
<text transform="translate(146.2,559) rotate(-90) scale(0.95,1)" font-size="8.6" text-anchor="end" fill="#111" stroke="#111" stroke-width="0.1">HK.3</text>
<line x1="33.6" y1="538.45" x2="151.6" y2="538.45" stroke="#333" stroke-width="0.8" stroke-dasharray="1.6,1.0"/>
<text transform="translate(93.6,452) scale(0.95,1)" font-size="8.4" text-anchor="middle" fill="#111" stroke="#111" stroke-width="0.1" >XBB.1 infected hamster sera (n=5)</text>
<line x1="190.5" y1="332.85" x2="190.5" y2="407.1" stroke="#666" stroke-width="0.9" />
<line x1="187.3" y1="407.1" x2="190.5" y2="407.1" stroke="#666" stroke-width="0.9" />
<text x="185.9" y="409.9" font-size="8.2" text-anchor="end" fill="#111" stroke="#111" stroke-width="0.1" >10<tspan font-size="5.4" dy="-2.8">0</tspan></text>
<line x1="187.3" y1="392.25" x2="190.5" y2="392.25" stroke="#666" stroke-width="0.9" />
<text x="185.9" y="395.05" font-size="8.2" text-anchor="end" fill="#111" stroke="#111" stroke-width="0.1" >10<tspan font-size="5.4" dy="-2.8">1</tspan></text>
<line x1="187.3" y1="377.4" x2="190.5" y2="377.4" stroke="#666" stroke-width="0.9" />
<text x="185.9" y="380.2" font-size="8.2" text-anchor="end" fill="#111" stroke="#111" stroke-width="0.1" >10<tspan font-size="5.4" dy="-2.8">2</tspan></text>
<line x1="187.3" y1="362.55" x2="190.5" y2="362.55" stroke="#666" stroke-width="0.9" />
<text x="185.9" y="365.35" font-size="8.2" text-anchor="end" fill="#111" stroke="#111" stroke-width="0.1" >10<tspan font-size="5.4" dy="-2.8">3</tspan></text>
<line x1="187.3" y1="347.7" x2="190.5" y2="347.7" stroke="#666" stroke-width="0.9" />
<text x="185.9" y="350.5" font-size="8.2" text-anchor="end" fill="#111" stroke="#111" stroke-width="0.1" >10<tspan font-size="5.4" dy="-2.8">4</tspan></text>
<line x1="187.3" y1="332.85" x2="190.5" y2="332.85" stroke="#666" stroke-width="0.9" />
<text x="185.9" y="335.65" font-size="8.2" text-anchor="end" fill="#111" stroke="#111" stroke-width="0.1" >10<tspan font-size="5.4" dy="-2.8">5</tspan></text>
<line x1="190.05" y1="407.1" x2="308.5" y2="407.1" stroke="#999" stroke-width="1.0" />
<text transform="translate(167.5,370.38) rotate(-90)" font-size="8.05" text-anchor="middle" fill="#111" stroke="#111" stroke-width="0.1">Reciprocal serum ID<tspan font-size="6.36" dy="1.6">50</tspan></text>
<line x1="198.4" y1="407.1" x2="198.4" y2="410.1" stroke="#222" stroke-width="0.9" />
<line x1="218.9" y1="407.1" x2="218.9" y2="410.1" stroke="#222" stroke-width="0.9" />
<line x1="239.3" y1="407.1" x2="239.3" y2="410.1" stroke="#222" stroke-width="0.9" />
<line x1="259.7" y1="407.1" x2="259.7" y2="410.1" stroke="#222" stroke-width="0.9" />
<line x1="280.2" y1="407.1" x2="280.2" y2="410.1" stroke="#222" stroke-width="0.9" />
<line x1="300.6" y1="407.1" x2="300.6" y2="410.1" stroke="#222" stroke-width="0.9" />
<text transform="translate(200.9,412.8) rotate(-90) scale(0.95,1)" font-size="8.6" text-anchor="end" fill="#111" stroke="#111" stroke-width="0.1">BA.2</text>
<text transform="translate(221.4,412.8) rotate(-90) scale(0.95,1)" font-size="8.6" text-anchor="end" fill="#111" stroke="#111" stroke-width="0.1">BA.2.86</text>
<text transform="translate(241.8,412.8) rotate(-90) scale(0.95,1)" font-size="8.6" text-anchor="end" fill="#111" stroke="#111" stroke-width="0.1">JN.1</text>
<text transform="translate(262.2,412.8) rotate(-90) scale(0.95,1)" font-size="8.6" text-anchor="end" fill="#111" stroke="#111" stroke-width="0.1">XBB.1</text>
<text transform="translate(282.7,412.8) rotate(-90) scale(0.95,1)" font-size="8.6" text-anchor="end" fill="#111" stroke="#111" stroke-width="0.1">EG.5.1</text>
<text transform="translate(303.1,412.8) rotate(-90) scale(0.95,1)" font-size="8.6" text-anchor="end" fill="#111" stroke="#111" stroke-width="0.1">HK.3</text>
<line x1="190.5" y1="392.25" x2="308.5" y2="392.25" stroke="#333" stroke-width="0.8" stroke-dasharray="1.6,1.0"/>
<text transform="translate(245.5,307) scale(0.95,1)" font-size="8.4" text-anchor="middle" fill="#111" stroke="#111" stroke-width="0.1" >BA.2.86 infected hamster sera (n=5)</text>
<line x1="190.5" y1="478.65" x2="190.5" y2="553.4" stroke="#666" stroke-width="0.9" />
<line x1="187.3" y1="553.4" x2="190.5" y2="553.4" stroke="#666" stroke-width="0.9" />
<text x="185.9" y="556.2" font-size="8.2" text-anchor="end" fill="#111" stroke="#111" stroke-width="0.1" >10<tspan font-size="5.4" dy="-2.8">0</tspan></text>
<line x1="187.3" y1="538.45" x2="190.5" y2="538.45" stroke="#666" stroke-width="0.9" />
<text x="185.9" y="541.25" font-size="8.2" text-anchor="end" fill="#111" stroke="#111" stroke-width="0.1" >10<tspan font-size="5.4" dy="-2.8">1</tspan></text>
<line x1="187.3" y1="523.5" x2="190.5" y2="523.5" stroke="#666" stroke-width="0.9" />
<text x="185.9" y="526.3" font-size="8.2" text-anchor="end" fill="#111" stroke="#111" stroke-width="0.1" >10<tspan font-size="5.4" dy="-2.8">2</tspan></text>
<line x1="187.3" y1="508.55" x2="190.5" y2="508.55" stroke="#666" stroke-width="0.9" />
<text x="185.9" y="511.35" font-size="8.2" text-anchor="end" fill="#111" stroke="#111" stroke-width="0.1" >10<tspan font-size="5.4" dy="-2.8">3</tspan></text>
<line x1="187.3" y1="493.6" x2="190.5" y2="493.6" stroke="#666" stroke-width="0.9" />
<text x="185.9" y="496.4" font-size="8.2" text-anchor="end" fill="#111" stroke="#111" stroke-width="0.1" >10<tspan font-size="5.4" dy="-2.8">4</tspan></text>
<line x1="187.3" y1="478.65" x2="190.5" y2="478.65" stroke="#666" stroke-width="0.9" />
<text x="185.9" y="481.45" font-size="8.2" text-anchor="end" fill="#111" stroke="#111" stroke-width="0.1" >10<tspan font-size="5.4" dy="-2.8">5</tspan></text>
<line x1="190.05" y1="553.4" x2="308.5" y2="553.4" stroke="#999" stroke-width="1.0" />
<text transform="translate(167.5,516.42) rotate(-90)" font-size="8.05" text-anchor="middle" fill="#111" stroke="#111" stroke-width="0.1">Reciprocal serum ID<tspan font-size="6.36" dy="1.6">50</tspan></text>
<line x1="198.4" y1="553.4" x2="198.4" y2="556.4" stroke="#222" stroke-width="0.9" />
<line x1="218.9" y1="553.4" x2="218.9" y2="556.4" stroke="#222" stroke-width="0.9" />
<line x1="239.3" y1="553.4" x2="239.3" y2="556.4" stroke="#222" stroke-width="0.9" />
<line x1="259.7" y1="553.4" x2="259.7" y2="556.4" stroke="#222" stroke-width="0.9" />
<line x1="280.2" y1="553.4" x2="280.2" y2="556.4" stroke="#222" stroke-width="0.9" />
<line x1="300.6" y1="553.4" x2="300.6" y2="556.4" stroke="#222" stroke-width="0.9" />
<text transform="translate(200.9,559) rotate(-90) scale(0.95,1)" font-size="8.6" text-anchor="end" fill="#111" stroke="#111" stroke-width="0.1">BA.2</text>
<text transform="translate(221.4,559) rotate(-90) scale(0.95,1)" font-size="8.6" text-anchor="end" fill="#111" stroke="#111" stroke-width="0.1">BA.2.86</text>
<text transform="translate(241.8,559) rotate(-90) scale(0.95,1)" font-size="8.6" text-anchor="end" fill="#111" stroke="#111" stroke-width="0.1">JN.1</text>
<text transform="translate(262.2,559) rotate(-90) scale(0.95,1)" font-size="8.6" text-anchor="end" fill="#111" stroke="#111" stroke-width="0.1">XBB.1</text>
<text transform="translate(282.7,559) rotate(-90) scale(0.95,1)" font-size="8.6" text-anchor="end" fill="#111" stroke="#111" stroke-width="0.1">EG.5.1</text>
<text transform="translate(303.1,559) rotate(-90) scale(0.95,1)" font-size="8.6" text-anchor="end" fill="#111" stroke="#111" stroke-width="0.1">HK.3</text>
<line x1="190.5" y1="538.45" x2="308.5" y2="538.45" stroke="#333" stroke-width="0.8" stroke-dasharray="1.6,1.0"/>
<text transform="translate(247.9,452) scale(0.95,1)" font-size="8.4" text-anchor="middle" fill="#111" stroke="#111" stroke-width="0.1" >EG.5.1 infected hamster sera (n=5)</text>
<line x1="346.3" y1="332.85" x2="346.3" y2="407.1" stroke="#666" stroke-width="0.9" />
<line x1="343.1" y1="407.1" x2="346.3" y2="407.1" stroke="#666" stroke-width="0.9" />
<text x="341.7" y="409.9" font-size="8.2" text-anchor="end" fill="#111" stroke="#111" stroke-width="0.1" >10<tspan font-size="5.4" dy="-2.8">0</tspan></text>
<line x1="343.1" y1="392.25" x2="346.3" y2="392.25" stroke="#666" stroke-width="0.9" />
<text x="341.7" y="395.05" font-size="8.2" text-anchor="end" fill="#111" stroke="#111" stroke-width="0.1" >10<tspan font-size="5.4" dy="-2.8">1</tspan></text>
<line x1="343.1" y1="377.4" x2="346.3" y2="377.4" stroke="#666" stroke-width="0.9" />
<text x="341.7" y="380.2" font-size="8.2" text-anchor="end" fill="#111" stroke="#111" stroke-width="0.1" >10<tspan font-size="5.4" dy="-2.8">2</tspan></text>
<line x1="343.1" y1="362.55" x2="346.3" y2="362.55" stroke="#666" stroke-width="0.9" />
<text x="341.7" y="365.35" font-size="8.2" text-anchor="end" fill="#111" stroke="#111" stroke-width="0.1" >10<tspan font-size="5.4" dy="-2.8">3</tspan></text>
<line x1="343.1" y1="347.7" x2="346.3" y2="347.7" stroke="#666" stroke-width="0.9" />
<text x="341.7" y="350.5" font-size="8.2" text-anchor="end" fill="#111" stroke="#111" stroke-width="0.1" >10<tspan font-size="5.4" dy="-2.8">4</tspan></text>
<line x1="343.1" y1="332.85" x2="346.3" y2="332.85" stroke="#666" stroke-width="0.9" />
<text x="341.7" y="335.65" font-size="8.2" text-anchor="end" fill="#111" stroke="#111" stroke-width="0.1" >10<tspan font-size="5.4" dy="-2.8">5</tspan></text>
<line x1="345.85" y1="407.1" x2="464.3" y2="407.1" stroke="#999" stroke-width="1.0" />
<text transform="translate(323.3,370.38) rotate(-90)" font-size="8.05" text-anchor="middle" fill="#111" stroke="#111" stroke-width="0.1">Reciprocal serum ID<tspan font-size="6.36" dy="1.6">50</tspan></text>
<line x1="354.2" y1="407.1" x2="354.2" y2="410.1" stroke="#222" stroke-width="0.9" />
<line x1="374.7" y1="407.1" x2="374.7" y2="410.1" stroke="#222" stroke-width="0.9" />
<line x1="395.1" y1="407.1" x2="395.1" y2="410.1" stroke="#222" stroke-width="0.9" />
<line x1="415.5" y1="407.1" x2="415.5" y2="410.1" stroke="#222" stroke-width="0.9" />
<line x1="436" y1="407.1" x2="436" y2="410.1" stroke="#222" stroke-width="0.9" />
<line x1="456.4" y1="407.1" x2="456.4" y2="410.1" stroke="#222" stroke-width="0.9" />
<text transform="translate(356.7,412.8) rotate(-90) scale(0.95,1)" font-size="8.6" text-anchor="end" fill="#111" stroke="#111" stroke-width="0.1">BA.2</text>
<text transform="translate(377.2,412.8) rotate(-90) scale(0.95,1)" font-size="8.6" text-anchor="end" fill="#111" stroke="#111" stroke-width="0.1">BA.2.86</text>
<text transform="translate(397.6,412.8) rotate(-90) scale(0.95,1)" font-size="8.6" text-anchor="end" fill="#111" stroke="#111" stroke-width="0.1">JN.1</text>
<text transform="translate(418,412.8) rotate(-90) scale(0.95,1)" font-size="8.6" text-anchor="end" fill="#111" stroke="#111" stroke-width="0.1">XBB.1</text>
<text transform="translate(438.5,412.8) rotate(-90) scale(0.95,1)" font-size="8.6" text-anchor="end" fill="#111" stroke="#111" stroke-width="0.1">EG.5.1</text>
<text transform="translate(458.9,412.8) rotate(-90) scale(0.95,1)" font-size="8.6" text-anchor="end" fill="#111" stroke="#111" stroke-width="0.1">HK.3</text>
<line x1="346.3" y1="392.25" x2="464.3" y2="392.25" stroke="#333" stroke-width="0.8" stroke-dasharray="1.6,1.0"/>
<text transform="translate(402.7,307) scale(0.95,1)" font-size="8.4" text-anchor="middle" fill="#111" stroke="#111" stroke-width="0.1" >JN.1 infected hamster sera (n=6)</text>
<line x1="346.3" y1="478.65" x2="346.3" y2="553.4" stroke="#666" stroke-width="0.9" />
<line x1="343.1" y1="553.4" x2="346.3" y2="553.4" stroke="#666" stroke-width="0.9" />
<text x="341.7" y="556.2" font-size="8.2" text-anchor="end" fill="#111" stroke="#111" stroke-width="0.1" >10<tspan font-size="5.4" dy="-2.8">0</tspan></text>
<line x1="343.1" y1="538.45" x2="346.3" y2="538.45" stroke="#666" stroke-width="0.9" />
<text x="341.7" y="541.25" font-size="8.2" text-anchor="end" fill="#111" stroke="#111" stroke-width="0.1" >10<tspan font-size="5.4" dy="-2.8">1</tspan></text>
<line x1="343.1" y1="523.5" x2="346.3" y2="523.5" stroke="#666" stroke-width="0.9" />
<text x="341.7" y="526.3" font-size="8.2" text-anchor="end" fill="#111" stroke="#111" stroke-width="0.1" >10<tspan font-size="5.4" dy="-2.8">2</tspan></text>
<line x1="343.1" y1="508.55" x2="346.3" y2="508.55" stroke="#666" stroke-width="0.9" />
<text x="341.7" y="511.35" font-size="8.2" text-anchor="end" fill="#111" stroke="#111" stroke-width="0.1" >10<tspan font-size="5.4" dy="-2.8">3</tspan></text>
<line x1="343.1" y1="493.6" x2="346.3" y2="493.6" stroke="#666" stroke-width="0.9" />
<text x="341.7" y="496.4" font-size="8.2" text-anchor="end" fill="#111" stroke="#111" stroke-width="0.1" >10<tspan font-size="5.4" dy="-2.8">4</tspan></text>
<line x1="343.1" y1="478.65" x2="346.3" y2="478.65" stroke="#666" stroke-width="0.9" />
<text x="341.7" y="481.45" font-size="8.2" text-anchor="end" fill="#111" stroke="#111" stroke-width="0.1" >10<tspan font-size="5.4" dy="-2.8">5</tspan></text>
<line x1="345.85" y1="553.4" x2="464.3" y2="553.4" stroke="#999" stroke-width="1.0" />
<text transform="translate(323.3,516.42) rotate(-90)" font-size="8.05" text-anchor="middle" fill="#111" stroke="#111" stroke-width="0.1">Reciprocal serum ID<tspan font-size="6.36" dy="1.6">50</tspan></text>
<line x1="354.2" y1="553.4" x2="354.2" y2="556.4" stroke="#222" stroke-width="0.9" />
<line x1="374.7" y1="553.4" x2="374.7" y2="556.4" stroke="#222" stroke-width="0.9" />
<line x1="395.1" y1="553.4" x2="395.1" y2="556.4" stroke="#222" stroke-width="0.9" />
<line x1="415.5" y1="553.4" x2="415.5" y2="556.4" stroke="#222" stroke-width="0.9" />
<line x1="436" y1="553.4" x2="436" y2="556.4" stroke="#222" stroke-width="0.9" />
<line x1="456.4" y1="553.4" x2="456.4" y2="556.4" stroke="#222" stroke-width="0.9" />
<text transform="translate(356.7,559) rotate(-90) scale(0.95,1)" font-size="8.6" text-anchor="end" fill="#111" stroke="#111" stroke-width="0.1">BA.2</text>
<text transform="translate(377.2,559) rotate(-90) scale(0.95,1)" font-size="8.6" text-anchor="end" fill="#111" stroke="#111" stroke-width="0.1">BA.2.86</text>
<text transform="translate(397.6,559) rotate(-90) scale(0.95,1)" font-size="8.6" text-anchor="end" fill="#111" stroke="#111" stroke-width="0.1">JN.1</text>
<text transform="translate(418,559) rotate(-90) scale(0.95,1)" font-size="8.6" text-anchor="end" fill="#111" stroke="#111" stroke-width="0.1">XBB.1</text>
<text transform="translate(438.5,559) rotate(-90) scale(0.95,1)" font-size="8.6" text-anchor="end" fill="#111" stroke="#111" stroke-width="0.1">EG.5.1</text>
<text transform="translate(458.9,559) rotate(-90) scale(0.95,1)" font-size="8.6" text-anchor="end" fill="#111" stroke="#111" stroke-width="0.1">HK.3</text>
<line x1="346.3" y1="538.45" x2="464.3" y2="538.45" stroke="#333" stroke-width="0.8" stroke-dasharray="1.6,1.0"/>
<text transform="translate(403,452) scale(0.95,1)" font-size="8.4" text-anchor="middle" fill="#111" stroke="#111" stroke-width="0.1" >HK.3 infected hamster sera (n=5)</text>
<text transform="translate(23.3,317) scale(0.95,1)" font-size="8.1" text-anchor="start" fill="#f08a28" stroke="#f08a28" stroke-width="0.1" >***<tspan font-style="italic">p</tspan>=0.0005</text>
<text transform="translate(67.6,317) scale(0.95,1)" font-size="8.1" text-anchor="start" fill="#de2e2e" stroke="#de2e2e" stroke-width="0.1" >**<tspan font-style="italic">p</tspan>=0.0081</text>
<text transform="translate(114.2,317) scale(0.95,1)" font-size="8.1" text-anchor="middle" fill="#2a942a" stroke="#2a942a" stroke-width="0.1" >NS</text>
<text transform="translate(130,317) scale(0.95,1)" font-size="8.1" text-anchor="middle" fill="#34a2b2" stroke="#34a2b2" stroke-width="0.1" >NS</text>
<text transform="translate(148.5,317) scale(0.95,1)" font-size="8.1" text-anchor="middle" fill="#2d55f0" stroke="#2d55f0" stroke-width="0.1" >NS</text>
<text transform="translate(59.9,325.5) scale(0.95,1)" font-size="8.1" text-anchor="middle" fill="#f08a28" stroke="#f08a28" stroke-width="0.1" >110.3x</text>
<text transform="translate(82.5,325.5) scale(0.95,1)" font-size="8.1" text-anchor="middle" fill="#de2e2e" stroke="#de2e2e" stroke-width="0.1" >48.3x</text>
<text transform="translate(103.6,325.5) scale(0.95,1)" font-size="8.1" text-anchor="middle" fill="#2a942a" stroke="#2a942a" stroke-width="0.1" >12.2x</text>
<text transform="translate(125.3,325.5) scale(0.95,1)" font-size="8.1" text-anchor="middle" fill="#34a2b2" stroke="#34a2b2" stroke-width="0.1" >16.9x</text>
<text transform="translate(148,325.5) scale(0.95,1)" font-size="8.1" text-anchor="middle" fill="#2d55f0" stroke="#2d55f0" stroke-width="0.1" >19.6x</text>
<text transform="translate(42,334.5) scale(0.95,1)" font-size="8.1" text-anchor="middle" fill="#c236f0" stroke="#c236f0" stroke-width="0.1" >3862</text>
<text transform="translate(63.2,334.5) scale(0.95,1)" font-size="8.1" text-anchor="middle" fill="#f08a28" stroke="#f08a28" stroke-width="0.1" >35</text>
<text transform="translate(82.9,334.5) scale(0.95,1)" font-size="8.1" text-anchor="middle" fill="#de2e2e" stroke="#de2e2e" stroke-width="0.1" >80</text>
<text transform="translate(103.3,334.5) scale(0.95,1)" font-size="8.1" text-anchor="middle" fill="#2a942a" stroke="#2a942a" stroke-width="0.1" >316</text>
<text transform="translate(124.5,334.5) scale(0.95,1)" font-size="8.1" text-anchor="middle" fill="#34a2b2" stroke="#34a2b2" stroke-width="0.1" >228</text>
<text transform="translate(145.6,334.5) scale(0.95,1)" font-size="8.1" text-anchor="middle" fill="#2d55f0" stroke="#2d55f0" stroke-width="0.1" >197</text>
<text transform="translate(239,317) scale(0.95,1)" font-size="8.1" text-anchor="middle" fill="#de2e2e" stroke="#de2e2e" stroke-width="0.1" >NS</text>
<text transform="translate(239.6,325.5) scale(0.95,1)" font-size="8.1" text-anchor="middle" fill="#de2e2e" stroke="#de2e2e" stroke-width="0.1" >1.9x</text>
<text transform="translate(198,334.5) scale(0.95,1)" font-size="8.1" text-anchor="middle" fill="#c236f0" stroke="#c236f0" stroke-width="0.1" >13</text>
<text transform="translate(219.3,334.5) scale(0.95,1)" font-size="8.1" text-anchor="middle" fill="#f08a28" stroke="#f08a28" stroke-width="0.1" >1675</text>
<text transform="translate(239.6,334.5) scale(0.95,1)" font-size="8.1" text-anchor="middle" fill="#de2e2e" stroke="#de2e2e" stroke-width="0.1" >898</text>
<text transform="translate(260.2,334.5) scale(0.95,1)" font-size="8.1" text-anchor="middle" fill="#2a942a" stroke="#2a942a" stroke-width="0.1" >20</text>
<text transform="translate(280.6,334.5) scale(0.95,1)" font-size="8.1" text-anchor="middle" fill="#34a2b2" stroke="#34a2b2" stroke-width="0.1" >36</text>
<text transform="translate(300.9,334.5) scale(0.95,1)" font-size="8.1" text-anchor="middle" fill="#2d55f0" stroke="#2d55f0" stroke-width="0.1" >23</text>
<text transform="translate(374.3,317) scale(0.95,1)" font-size="8.1" text-anchor="middle" fill="#f08a28" stroke="#f08a28" stroke-width="0.1" >NS</text>
<text transform="translate(374.9,325.5) scale(0.95,1)" font-size="8.1" text-anchor="middle" fill="#f08a28" stroke="#f08a28" stroke-width="0.1" >1.5x</text>
<text transform="translate(353,334.5) scale(0.95,1)" font-size="8.1" text-anchor="middle" fill="#c236f0" stroke="#c236f0" stroke-width="0.1" >11</text>
<text transform="translate(374.3,334.5) scale(0.95,1)" font-size="8.1" text-anchor="middle" fill="#f08a28" stroke="#f08a28" stroke-width="0.1" >1134</text>
<text transform="translate(395.1,334.5) scale(0.95,1)" font-size="8.1" text-anchor="middle" fill="#de2e2e" stroke="#de2e2e" stroke-width="0.1" >1698</text>
<text transform="translate(415.9,334.5) scale(0.95,1)" font-size="8.1" text-anchor="middle" fill="#2a942a" stroke="#2a942a" stroke-width="0.1" >11</text>
<text transform="translate(436.7,334.5) scale(0.95,1)" font-size="8.1" text-anchor="middle" fill="#34a2b2" stroke="#34a2b2" stroke-width="0.1" >28</text>
<text transform="translate(457.5,334.5) scale(0.95,1)" font-size="8.1" text-anchor="middle" fill="#2d55f0" stroke="#2d55f0" stroke-width="0.1" >15</text>
<text transform="translate(11.5,462) scale(0.95,1)" font-size="8.1" text-anchor="start" fill="#c236f0" stroke="#c236f0" stroke-width="0.1" >*<tspan font-style="italic">p</tspan>=0.0161</text>
<text transform="translate(48.4,462) scale(0.95,1)" font-size="8.1" text-anchor="start" fill="#f08a28" stroke="#f08a28" stroke-width="0.1" >**<tspan font-style="italic">p</tspan>=0.0048</text>
<text transform="translate(92.8,462) scale(0.95,1)" font-size="8.1" text-anchor="middle" fill="#de2e2e" stroke="#de2e2e" stroke-width="0.1" >NS</text>
<text transform="translate(125.6,462) scale(0.95,1)" font-size="8.1" text-anchor="middle" fill="#34a2b2" stroke="#34a2b2" stroke-width="0.1" >NS</text>
<text transform="translate(146.7,462) scale(0.95,1)" font-size="8.1" text-anchor="middle" fill="#2d55f0" stroke="#2d55f0" stroke-width="0.1" >NS</text>
<text transform="translate(42.2,470.7) scale(0.95,1)" font-size="8.1" text-anchor="middle" fill="#c236f0" stroke="#c236f0" stroke-width="0.1" >7.4x</text>
<text transform="translate(63.4,470.7) scale(0.95,1)" font-size="8.1" text-anchor="middle" fill="#f08a28" stroke="#f08a28" stroke-width="0.1" >10.2x</text>
<text transform="translate(85,470.7) scale(0.95,1)" font-size="8.1" text-anchor="middle" fill="#de2e2e" stroke="#de2e2e" stroke-width="0.1" >3.0x</text>
<text transform="translate(125.3,470.7) scale(0.95,1)" font-size="8.1" text-anchor="middle" fill="#34a2b2" stroke="#34a2b2" stroke-width="0.1" >1.0x</text>
<text transform="translate(146.1,470.7) scale(0.95,1)" font-size="8.1" text-anchor="middle" fill="#2d55f0" stroke="#2d55f0" stroke-width="0.1" >1.5x</text>
<text transform="translate(42.2,479.6) scale(0.95,1)" font-size="8.1" text-anchor="middle" fill="#c236f0" stroke="#c236f0" stroke-width="0.1" >453</text>
<text transform="translate(65,479.6) scale(0.95,1)" font-size="8.1" text-anchor="middle" fill="#f08a28" stroke="#f08a28" stroke-width="0.1" >328</text>
<text transform="translate(84.2,479.6) scale(0.95,1)" font-size="8.1" text-anchor="middle" fill="#de2e2e" stroke="#de2e2e" stroke-width="0.1" >1112</text>
<text transform="translate(103.8,479.6) scale(0.95,1)" font-size="8.1" text-anchor="middle" fill="#2a942a" stroke="#2a942a" stroke-width="0.1" >3353</text>
<text transform="translate(124.1,479.6) scale(0.95,1)" font-size="8.1" text-anchor="middle" fill="#34a2b2" stroke="#34a2b2" stroke-width="0.1" >3370</text>
<text transform="translate(144.9,479.6) scale(0.95,1)" font-size="8.1" text-anchor="middle" fill="#2d55f0" stroke="#2d55f0" stroke-width="0.1" >2186</text>
<text transform="translate(171.5,462) scale(0.95,1)" font-size="8.1" text-anchor="start" fill="#c236f0" stroke="#c236f0" stroke-width="0.1" >***<tspan font-style="italic">p</tspan>=0.0002</text>
<text transform="translate(220.7,462) scale(0.95,1)" font-size="8.1" text-anchor="middle" fill="#f08a28" stroke="#f08a28" stroke-width="0.1" >NS</text>
<text transform="translate(240.1,462) scale(0.95,1)" font-size="8.1" text-anchor="middle" fill="#de2e2e" stroke="#de2e2e" stroke-width="0.1" >NS</text>
<text transform="translate(260.4,462) scale(0.95,1)" font-size="8.1" text-anchor="middle" fill="#2a942a" stroke="#2a942a" stroke-width="0.1" >NS</text>
<text transform="translate(302.5,462) scale(0.95,1)" font-size="8.1" text-anchor="middle" fill="#2d55f0" stroke="#2d55f0" stroke-width="0.1" >NS</text>
<text transform="translate(198.9,470.7) scale(0.95,1)" font-size="8.1" text-anchor="middle" fill="#c236f0" stroke="#c236f0" stroke-width="0.1" >79.2x</text>
<text transform="translate(220.3,470.7) scale(0.95,1)" font-size="8.1" text-anchor="middle" fill="#f08a28" stroke="#f08a28" stroke-width="0.1" >8.8x</text>
<text transform="translate(239.4,470.7) scale(0.95,1)" font-size="8.1" text-anchor="middle" fill="#de2e2e" stroke="#de2e2e" stroke-width="0.1" >5.9x</text>
<text transform="translate(260.4,470.7) scale(0.95,1)" font-size="8.1" text-anchor="middle" fill="#2a942a" stroke="#2a942a" stroke-width="0.1" >6.5x</text>
<text transform="translate(301.7,470.7) scale(0.95,1)" font-size="8.1" text-anchor="middle" fill="#2d55f0" stroke="#2d55f0" stroke-width="0.1" >1.5x</text>
<text transform="translate(198.3,479.6) scale(0.95,1)" font-size="8.1" text-anchor="middle" fill="#c236f0" stroke="#c236f0" stroke-width="0.1" >65</text>
<text transform="translate(219.1,479.6) scale(0.95,1)" font-size="8.1" text-anchor="middle" fill="#f08a28" stroke="#f08a28" stroke-width="0.1" >586</text>
<text transform="translate(239.2,479.6) scale(0.95,1)" font-size="8.1" text-anchor="middle" fill="#de2e2e" stroke="#de2e2e" stroke-width="0.1" >870</text>
<text transform="translate(260,479.6) scale(0.95,1)" font-size="8.1" text-anchor="middle" fill="#2a942a" stroke="#2a942a" stroke-width="0.1" >798</text>
<text transform="translate(281.3,479.6) scale(0.95,1)" font-size="8.1" text-anchor="middle" fill="#34a2b2" stroke="#34a2b2" stroke-width="0.1" >5149</text>
<text transform="translate(301,479.6) scale(0.95,1)" font-size="8.1" text-anchor="middle" fill="#2d55f0" stroke="#2d55f0" stroke-width="0.1" >3454</text>
<text transform="translate(327.8,462) scale(0.95,1)" font-size="8.1" text-anchor="start" fill="#c236f0" stroke="#c236f0" stroke-width="0.1" >**<tspan font-style="italic">p</tspan>=0.0016</text>
<text transform="translate(374.4,462) scale(0.95,1)" font-size="8.1" text-anchor="middle" fill="#f08a28" stroke="#f08a28" stroke-width="0.1" >NS</text>
<text transform="translate(395.4,462) scale(0.95,1)" font-size="8.1" text-anchor="middle" fill="#de2e2e" stroke="#de2e2e" stroke-width="0.1" >NS</text>
<text transform="translate(415.6,462) scale(0.95,1)" font-size="8.1" text-anchor="middle" fill="#2a942a" stroke="#2a942a" stroke-width="0.1" >NS</text>
<text transform="translate(436.6,462) scale(0.95,1)" font-size="8.1" text-anchor="middle" fill="#34a2b2" stroke="#34a2b2" stroke-width="0.1" >NS</text>
<text transform="translate(353.9,470.7) scale(0.95,1)" font-size="8.1" text-anchor="middle" fill="#c236f0" stroke="#c236f0" stroke-width="0.1" >33.0x</text>
<text transform="translate(375.6,470.7) scale(0.95,1)" font-size="8.1" text-anchor="middle" fill="#f08a28" stroke="#f08a28" stroke-width="0.1" >6.0x</text>
<text transform="translate(395.7,470.7) scale(0.95,1)" font-size="8.1" text-anchor="middle" fill="#de2e2e" stroke="#de2e2e" stroke-width="0.1" >2.2x</text>
<text transform="translate(415.4,470.7) scale(0.95,1)" font-size="8.1" text-anchor="middle" fill="#2a942a" stroke="#2a942a" stroke-width="0.1" >4.2x</text>
<text transform="translate(436.8,470.7) scale(0.95,1)" font-size="8.1" text-anchor="middle" fill="#34a2b2" stroke="#34a2b2" stroke-width="0.1" >0.8x</text>
<text transform="translate(353,479.6) scale(0.95,1)" font-size="8.1" text-anchor="middle" fill="#c236f0" stroke="#c236f0" stroke-width="0.1" >69</text>
<text transform="translate(373.8,479.6) scale(0.95,1)" font-size="8.1" text-anchor="middle" fill="#f08a28" stroke="#f08a28" stroke-width="0.1" >379</text>
<text transform="translate(395.7,479.6) scale(0.95,1)" font-size="8.1" text-anchor="middle" fill="#de2e2e" stroke="#de2e2e" stroke-width="0.1" >1035</text>
<text transform="translate(414.6,479.6) scale(0.95,1)" font-size="8.1" text-anchor="middle" fill="#2a942a" stroke="#2a942a" stroke-width="0.1" >543</text>
<text transform="translate(436.6,479.6) scale(0.95,1)" font-size="8.1" text-anchor="middle" fill="#34a2b2" stroke="#34a2b2" stroke-width="0.1" >2829</text>
<text transform="translate(457.6,479.6) scale(0.95,1)" font-size="8.1" text-anchor="middle" fill="#2d55f0" stroke="#2d55f0" stroke-width="0.1" >2276</text>
<circle cx="44.23" cy="348.36" r="1.55" fill="#c23cf0"/>
<circle cx="41.86" cy="350.55" r="1.55" fill="#c23cf0"/>
<circle cx="38.76" cy="352.74" r="1.55" fill="#c23cf0"/>
<circle cx="41.86" cy="355.11" r="1.55" fill="#c23cf0"/>
<circle cx="44.23" cy="355.11" r="1.55" fill="#c23cf0"/>
<circle cx="41.86" cy="360.58" r="1.55" fill="#c23cf0"/>
<circle cx="62.48" cy="368.8" r="1.55" fill="#f28a2a"/>
<circle cx="62.48" cy="381.57" r="1.55" fill="#f28a2a"/>
<circle cx="60.11" cy="386.68" r="1.55" fill="#f28a2a"/>
<circle cx="64.67" cy="386.68" r="1.55" fill="#f28a2a"/>
<circle cx="62.48" cy="388.87" r="1.55" fill="#f28a2a"/>
<circle cx="62.48" cy="392.15" r="1.55" fill="#f28a2a"/>
<circle cx="82.92" cy="364.78" r="1.55" fill="#e02a2a"/>
<circle cx="80.18" cy="375.36" r="1.55" fill="#e02a2a"/>
<circle cx="85.66" cy="376.82" r="1.55" fill="#e02a2a"/>
<circle cx="82.92" cy="379.74" r="1.55" fill="#e02a2a"/>
<circle cx="82.92" cy="384.31" r="1.55" fill="#e02a2a"/>
<circle cx="82.92" cy="391.06" r="1.55" fill="#e02a2a"/>
<circle cx="102.99" cy="357.48" r="1.55" fill="#2d962d"/>
<circle cx="100.8" cy="363.69" r="1.55" fill="#2d962d"/>
<circle cx="105.73" cy="364.78" r="1.55" fill="#2d962d"/>
<circle cx="100.8" cy="367.88" r="1.55" fill="#2d962d"/>
<circle cx="102.99" cy="373.91" r="1.55" fill="#2d962d"/>
<circle cx="102.99" cy="392.15" r="1.55" fill="#2d962d"/>
<circle cx="123.61" cy="353.83" r="1.55" fill="#2e9aa8"/>
<circle cx="123.61" cy="363.32" r="1.55" fill="#2e9aa8"/>
<circle cx="123.61" cy="368.8" r="1.55" fill="#2e9aa8"/>
<circle cx="123.61" cy="373.36" r="1.55" fill="#2e9aa8"/>
<circle cx="123.61" cy="380.66" r="1.55" fill="#2e9aa8"/>
<circle cx="123.61" cy="392.15" r="1.55" fill="#2e9aa8"/>
<circle cx="144.05" cy="356.02" r="1.55" fill="#2a55f0"/>
<circle cx="141.68" cy="365.15" r="1.55" fill="#2a55f0"/>
<circle cx="146.79" cy="366.61" r="1.55" fill="#2a55f0"/>
<circle cx="144.05" cy="373.36" r="1.55" fill="#2a55f0"/>
<circle cx="144.05" cy="384.31" r="1.55" fill="#2a55f0"/>
<circle cx="144.05" cy="392.15" r="1.55" fill="#2a55f0"/>
<line x1="36.81" y1="353.65" x2="45.81" y2="353.65" stroke="#333" stroke-width="0.8" />
<line x1="57.98" y1="384.31" x2="66.98" y2="384.31" stroke="#333" stroke-width="0.8" />
<line x1="78.42" y1="378.47" x2="87.42" y2="378.47" stroke="#333" stroke-width="0.8" />
<line x1="98.49" y1="369.89" x2="107.49" y2="369.89" stroke="#333" stroke-width="0.8" />
<line x1="119.11" y1="372.08" x2="128.11" y2="372.08" stroke="#333" stroke-width="0.8" />
<line x1="139.55" y1="372.99" x2="148.55" y2="372.99" stroke="#333" stroke-width="0.8" />
<circle cx="198.31" cy="383.39" r="1.55" fill="#c23cf0"/>
<circle cx="195.76" cy="392.15" r="1.55" fill="#c23cf0"/>
<circle cx="197.58" cy="392.15" r="1.55" fill="#c23cf0"/>
<circle cx="199.41" cy="392.15" r="1.55" fill="#c23cf0"/>
<circle cx="201.23" cy="392.15" r="1.55" fill="#c23cf0"/>
<circle cx="218.39" cy="355.11" r="1.55" fill="#f28a2a"/>
<circle cx="215.83" cy="357.85" r="1.55" fill="#f28a2a"/>
<circle cx="220.76" cy="357.85" r="1.55" fill="#f28a2a"/>
<circle cx="218.39" cy="360.58" r="1.55" fill="#f28a2a"/>
<circle cx="218.39" cy="364.23" r="1.55" fill="#f28a2a"/>
<circle cx="236.27" cy="359.31" r="1.55" fill="#e02a2a"/>
<circle cx="241.74" cy="360.58" r="1.55" fill="#e02a2a"/>
<circle cx="239.01" cy="362.41" r="1.55" fill="#e02a2a"/>
<circle cx="238.09" cy="360.58" r="1.55" fill="#e02a2a"/>
<circle cx="239.01" cy="372.45" r="1.55" fill="#e02a2a"/>
<circle cx="259.63" cy="380.66" r="1.55" fill="#2d962d"/>
<circle cx="259.63" cy="384.85" r="1.55" fill="#2d962d"/>
<circle cx="259.63" cy="388.87" r="1.55" fill="#2d962d"/>
<circle cx="257.26" cy="390.69" r="1.55" fill="#2d962d"/>
<circle cx="261.82" cy="390.33" r="1.55" fill="#2d962d"/>
<circle cx="257.26" cy="392.52" r="1.55" fill="#2d962d"/>
<circle cx="277.33" cy="372.81" r="1.55" fill="#2e9aa8"/>
<circle cx="280.07" cy="374.64" r="1.55" fill="#2e9aa8"/>
<circle cx="277.33" cy="390.69" r="1.55" fill="#2e9aa8"/>
<circle cx="280.07" cy="390.33" r="1.55" fill="#2e9aa8"/>
<circle cx="282.8" cy="390.33" r="1.55" fill="#2e9aa8"/>
<circle cx="298.68" cy="378.28" r="1.55" fill="#2a55f0"/>
<circle cx="301.6" cy="378.83" r="1.55" fill="#2a55f0"/>
<circle cx="297.95" cy="392.15" r="1.55" fill="#2a55f0"/>
<circle cx="300.5" cy="392.15" r="1.55" fill="#2a55f0"/>
<circle cx="303.06" cy="392.15" r="1.55" fill="#2a55f0"/>
<line x1="193.81" y1="390.33" x2="202.81" y2="390.33" stroke="#333" stroke-width="0.8" />
<line x1="213.89" y1="359.12" x2="222.89" y2="359.12" stroke="#333" stroke-width="0.8" />
<line x1="234.51" y1="363.32" x2="243.51" y2="363.32" stroke="#333" stroke-width="0.8" />
<line x1="255.13" y1="387.41" x2="264.13" y2="387.41" stroke="#333" stroke-width="0.8" />
<line x1="275.57" y1="383.94" x2="284.57" y2="383.94" stroke="#333" stroke-width="0.8" />
<line x1="296" y1="386.68" x2="305" y2="386.68" stroke="#333" stroke-width="0.8" />
<circle cx="352.12" cy="391.42" r="1.55" fill="#c23cf0"/>
<circle cx="354.31" cy="390.69" r="1.55" fill="#c23cf0"/>
<circle cx="353.58" cy="392.15" r="1.55" fill="#c23cf0"/>
<circle cx="356.14" cy="392.15" r="1.55" fill="#c23cf0"/>
<circle cx="357.6" cy="392.15" r="1.55" fill="#c23cf0"/>
<circle cx="351.21" cy="392.15" r="1.55" fill="#c23cf0"/>
<circle cx="375.48" cy="352.37" r="1.55" fill="#f28a2a"/>
<circle cx="375.48" cy="357.85" r="1.55" fill="#f28a2a"/>
<circle cx="374.02" cy="362.41" r="1.55" fill="#f28a2a"/>
<circle cx="376.76" cy="362.41" r="1.55" fill="#f28a2a"/>
<circle cx="372.56" cy="367.34" r="1.55" fill="#f28a2a"/>
<circle cx="376.76" cy="365.51" r="1.55" fill="#f28a2a"/>
<circle cx="395.55" cy="349.27" r="1.55" fill="#e02a2a"/>
<circle cx="392.64" cy="358.76" r="1.55" fill="#e02a2a"/>
<circle cx="397.74" cy="359.31" r="1.55" fill="#e02a2a"/>
<circle cx="395.55" cy="361.5" r="1.55" fill="#e02a2a"/>
<circle cx="395.55" cy="366.97" r="1.55" fill="#e02a2a"/>
<circle cx="394.46" cy="359.67" r="1.55" fill="#e02a2a"/>
<circle cx="413.8" cy="391.61" r="1.55" fill="#2d962d"/>
<circle cx="415.63" cy="391.06" r="1.55" fill="#2d962d"/>
<circle cx="417.45" cy="391.79" r="1.55" fill="#2d962d"/>
<circle cx="415.08" cy="392.15" r="1.55" fill="#2d962d"/>
<circle cx="416.91" cy="392.15" r="1.55" fill="#2d962d"/>
<circle cx="418.73" cy="392.15" r="1.55" fill="#2d962d"/>
<circle cx="436.43" cy="379.2" r="1.55" fill="#2e9aa8"/>
<circle cx="433.88" cy="383.03" r="1.55" fill="#2e9aa8"/>
<circle cx="438.8" cy="383.03" r="1.55" fill="#2e9aa8"/>
<circle cx="433.88" cy="387.04" r="1.55" fill="#2e9aa8"/>
<circle cx="438.8" cy="387.04" r="1.55" fill="#2e9aa8"/>
<circle cx="436.43" cy="392.15" r="1.55" fill="#2e9aa8"/>
<circle cx="456.5" cy="385.22" r="1.55" fill="#2a55f0"/>
<circle cx="454.31" cy="387.96" r="1.55" fill="#2a55f0"/>
<circle cx="458.88" cy="388.87" r="1.55" fill="#2a55f0"/>
<circle cx="454.31" cy="390.69" r="1.55" fill="#2a55f0"/>
<circle cx="457.05" cy="392.15" r="1.55" fill="#2a55f0"/>
<circle cx="453.95" cy="392.15" r="1.55" fill="#2a55f0"/>
<line x1="349.45" y1="392.15" x2="358.45" y2="392.15" stroke="#333" stroke-width="0.8" />
<line x1="370.43" y1="361.5" x2="379.43" y2="361.5" stroke="#333" stroke-width="0.8" />
<line x1="391.05" y1="359.12" x2="400.05" y2="359.12" stroke="#333" stroke-width="0.8" />
<line x1="411.49" y1="392.15" x2="420.49" y2="392.15" stroke="#333" stroke-width="0.8" />
<line x1="431.93" y1="385.22" x2="440.93" y2="385.22" stroke="#333" stroke-width="0.8" />
<line x1="452" y1="389.23" x2="461" y2="389.23" stroke="#333" stroke-width="0.8" />
<circle cx="41.86" cy="503.76" r="1.55" fill="#c23cf0"/>
<circle cx="41.86" cy="507.96" r="1.55" fill="#c23cf0"/>
<circle cx="39.12" cy="516.53" r="1.55" fill="#c23cf0"/>
<circle cx="39.12" cy="519.64" r="1.55" fill="#c23cf0"/>
<circle cx="44.23" cy="518.91" r="1.55" fill="#c23cf0"/>
<circle cx="60.11" cy="510.51" r="1.55" fill="#f28a2a"/>
<circle cx="64.67" cy="511.61" r="1.55" fill="#f28a2a"/>
<circle cx="60.11" cy="515.62" r="1.55" fill="#f28a2a"/>
<circle cx="64.67" cy="515.62" r="1.55" fill="#f28a2a"/>
<circle cx="62.48" cy="524.38" r="1.55" fill="#f28a2a"/>
<circle cx="81.09" cy="503.76" r="1.55" fill="#e02a2a"/>
<circle cx="83.83" cy="503.76" r="1.55" fill="#e02a2a"/>
<circle cx="82.92" cy="508.69" r="1.55" fill="#e02a2a"/>
<circle cx="84.74" cy="509.23" r="1.55" fill="#e02a2a"/>
<circle cx="80.18" cy="512.34" r="1.55" fill="#e02a2a"/>
<circle cx="101.53" cy="497.74" r="1.55" fill="#2d962d"/>
<circle cx="103.91" cy="498.28" r="1.55" fill="#2d962d"/>
<circle cx="100.8" cy="501.39" r="1.55" fill="#2d962d"/>
<circle cx="102.99" cy="501.93" r="1.55" fill="#2d962d"/>
<circle cx="105.73" cy="501.93" r="1.55" fill="#2d962d"/>
<circle cx="123.43" cy="494.09" r="1.55" fill="#2e9aa8"/>
<circle cx="121.24" cy="499.2" r="1.55" fill="#2e9aa8"/>
<circle cx="126.35" cy="499.2" r="1.55" fill="#2e9aa8"/>
<circle cx="121.24" cy="505.04" r="1.55" fill="#2e9aa8"/>
<circle cx="125.8" cy="504.31" r="1.55" fill="#2e9aa8"/>
<circle cx="144.05" cy="497.37" r="1.55" fill="#2a55f0"/>
<circle cx="144.05" cy="500.11" r="1.55" fill="#2a55f0"/>
<circle cx="141.68" cy="503.76" r="1.55" fill="#2a55f0"/>
<circle cx="146.42" cy="503.76" r="1.55" fill="#2a55f0"/>
<circle cx="141.68" cy="507.41" r="1.55" fill="#2a55f0"/>
<circle cx="146.79" cy="507.41" r="1.55" fill="#2a55f0"/>
<line x1="36.81" y1="513.43" x2="45.81" y2="513.43" stroke="#333" stroke-width="0.8" />
<line x1="57.98" y1="515.26" x2="66.98" y2="515.26" stroke="#333" stroke-width="0.8" />
<line x1="78.05" y1="507.77" x2="87.05" y2="507.77" stroke="#333" stroke-width="0.8" />
<line x1="98.49" y1="500.66" x2="107.49" y2="500.66" stroke="#333" stroke-width="0.8" />
<line x1="118.93" y1="500.66" x2="127.93" y2="500.66" stroke="#333" stroke-width="0.8" />
<line x1="139.55" y1="503.39" x2="148.55" y2="503.39" stroke="#333" stroke-width="0.8" />
<circle cx="195.76" cy="518.36" r="1.55" fill="#c23cf0"/>
<circle cx="200.69" cy="521.46" r="1.55" fill="#c23cf0"/>
<circle cx="195.76" cy="526.93" r="1.55" fill="#c23cf0"/>
<circle cx="200.69" cy="529.31" r="1.55" fill="#c23cf0"/>
<circle cx="198.31" cy="534.23" r="1.55" fill="#c23cf0"/>
<circle cx="218.39" cy="503.39" r="1.55" fill="#f28a2a"/>
<circle cx="215.83" cy="511.61" r="1.55" fill="#f28a2a"/>
<circle cx="221.31" cy="511.61" r="1.55" fill="#f28a2a"/>
<circle cx="215.83" cy="516.53" r="1.55" fill="#f28a2a"/>
<circle cx="221.31" cy="516.53" r="1.55" fill="#f28a2a"/>
<circle cx="239.01" cy="504.12" r="1.55" fill="#e02a2a"/>
<circle cx="241.38" cy="508.32" r="1.55" fill="#e02a2a"/>
<circle cx="236.27" cy="509.23" r="1.55" fill="#e02a2a"/>
<circle cx="240.83" cy="511.06" r="1.55" fill="#e02a2a"/>
<circle cx="236.27" cy="513.43" r="1.55" fill="#e02a2a"/>
<circle cx="259.63" cy="503.76" r="1.55" fill="#2d962d"/>
<circle cx="257.26" cy="509.23" r="1.55" fill="#2d962d"/>
<circle cx="262.18" cy="508.32" r="1.55" fill="#2d962d"/>
<circle cx="259.63" cy="512.34" r="1.55" fill="#2d962d"/>
<circle cx="259.63" cy="515.99" r="1.55" fill="#2d962d"/>
<circle cx="280.07" cy="486.79" r="1.55" fill="#2e9aa8"/>
<circle cx="277.33" cy="498.28" r="1.55" fill="#2e9aa8"/>
<circle cx="282.8" cy="497.74" r="1.55" fill="#2e9aa8"/>
<circle cx="277.33" cy="503.76" r="1.55" fill="#2e9aa8"/>
<circle cx="282.8" cy="502.48" r="1.55" fill="#2e9aa8"/>
<circle cx="300.5" cy="487.88" r="1.55" fill="#2a55f0"/>
<circle cx="300.5" cy="500.66" r="1.55" fill="#2a55f0"/>
<circle cx="297.95" cy="504.67" r="1.55" fill="#2a55f0"/>
<circle cx="303.06" cy="504.67" r="1.55" fill="#2a55f0"/>
<circle cx="300.5" cy="505.58" r="1.55" fill="#2a55f0"/>
<line x1="193.81" y1="526.2" x2="202.81" y2="526.2" stroke="#333" stroke-width="0.8" />
<line x1="213.89" y1="511.61" x2="222.89" y2="511.61" stroke="#333" stroke-width="0.8" />
<line x1="234.51" y1="509.23" x2="243.51" y2="509.23" stroke="#333" stroke-width="0.8" />
<line x1="255.13" y1="510.15" x2="264.13" y2="510.15" stroke="#333" stroke-width="0.8" />
<line x1="275.57" y1="498.28" x2="284.57" y2="498.28" stroke="#333" stroke-width="0.8" />
<line x1="296" y1="500.47" x2="305" y2="500.47" stroke="#333" stroke-width="0.8" />
<circle cx="354.86" cy="522.55" r="1.55" fill="#c23cf0"/>
<circle cx="353.04" cy="525.11" r="1.55" fill="#c23cf0"/>
<circle cx="356.69" cy="525.66" r="1.55" fill="#c23cf0"/>
<circle cx="351.76" cy="527.48" r="1.55" fill="#c23cf0"/>
<circle cx="354.31" cy="526.93" r="1.55" fill="#c23cf0"/>
<circle cx="375.48" cy="505.58" r="1.55" fill="#f28a2a"/>
<circle cx="372.56" cy="510.15" r="1.55" fill="#f28a2a"/>
<circle cx="377.67" cy="510.51" r="1.55" fill="#f28a2a"/>
<circle cx="375.48" cy="520.18" r="1.55" fill="#f28a2a"/>
<circle cx="375.48" cy="525.11" r="1.55" fill="#f28a2a"/>
<circle cx="395.55" cy="498.83" r="1.55" fill="#e02a2a"/>
<circle cx="395.55" cy="501.93" r="1.55" fill="#e02a2a"/>
<circle cx="395.55" cy="509.23" r="1.55" fill="#e02a2a"/>
<circle cx="395.55" cy="512.34" r="1.55" fill="#e02a2a"/>
<circle cx="395.55" cy="518.36" r="1.55" fill="#e02a2a"/>
<circle cx="415.08" cy="509.78" r="1.55" fill="#2d962d"/>
<circle cx="417.45" cy="511.06" r="1.55" fill="#2d962d"/>
<circle cx="414.17" cy="513.43" r="1.55" fill="#2d962d"/>
<circle cx="418.73" cy="513.43" r="1.55" fill="#2d962d"/>
<circle cx="413.8" cy="514.71" r="1.55" fill="#2d962d"/>
<circle cx="433.88" cy="497.74" r="1.55" fill="#2e9aa8"/>
<circle cx="438.8" cy="498.28" r="1.55" fill="#2e9aa8"/>
<circle cx="436.43" cy="501.39" r="1.55" fill="#2e9aa8"/>
<circle cx="439.35" cy="503.21" r="1.55" fill="#2e9aa8"/>
<circle cx="436.43" cy="507.96" r="1.55" fill="#2e9aa8"/>
<circle cx="454.31" cy="498.83" r="1.55" fill="#2a55f0"/>
<circle cx="459.42" cy="500.11" r="1.55" fill="#2a55f0"/>
<circle cx="457.05" cy="502.85" r="1.55" fill="#2a55f0"/>
<circle cx="454.68" cy="503.76" r="1.55" fill="#2a55f0"/>
<circle cx="457.05" cy="509.23" r="1.55" fill="#2a55f0"/>
<line x1="349.81" y1="525.29" x2="358.81" y2="525.29" stroke="#333" stroke-width="0.8" />
<line x1="370.43" y1="514.34" x2="379.43" y2="514.34" stroke="#333" stroke-width="0.8" />
<line x1="391.05" y1="508.32" x2="400.05" y2="508.32" stroke="#333" stroke-width="0.8" />
<line x1="411.49" y1="512.52" x2="420.49" y2="512.52" stroke="#333" stroke-width="0.8" />
<line x1="431.93" y1="501.39" x2="440.93" y2="501.39" stroke="#333" stroke-width="0.8" />
<line x1="452.55" y1="503.39" x2="461.55" y2="503.39" stroke="#333" stroke-width="0.8" />
<text transform="translate(485.5,307.4) scale(0.92,1)" font-size="15.2" text-anchor="start" fill="#000" font-weight="bold" >g</text>
<line x1="508.9" y1="294.7" x2="508.9" y2="445.3" stroke="#cfcfcf" stroke-width="0.7" />
<line x1="522.45" y1="294.7" x2="522.45" y2="445.3" stroke="#cfcfcf" stroke-width="0.7" />
<line x1="536" y1="294.7" x2="536" y2="445.3" stroke="#cfcfcf" stroke-width="0.7" />
<line x1="549.55" y1="294.7" x2="549.55" y2="445.3" stroke="#cfcfcf" stroke-width="0.7" />
<line x1="563.1" y1="294.7" x2="563.1" y2="445.3" stroke="#cfcfcf" stroke-width="0.7" />
<line x1="576.65" y1="294.7" x2="576.65" y2="445.3" stroke="#cfcfcf" stroke-width="0.7" />
<line x1="590.2" y1="294.7" x2="590.2" y2="445.3" stroke="#cfcfcf" stroke-width="0.7" />
<line x1="603.75" y1="294.7" x2="603.75" y2="445.3" stroke="#cfcfcf" stroke-width="0.7" />
<line x1="617.3" y1="294.7" x2="617.3" y2="445.3" stroke="#cfcfcf" stroke-width="0.7" />
<line x1="502.5" y1="305" x2="622.6" y2="305" stroke="#cfcfcf" stroke-width="0.7" />
<line x1="502.5" y1="318.59" x2="622.6" y2="318.59" stroke="#cfcfcf" stroke-width="0.7" />
<line x1="502.5" y1="332.18" x2="622.6" y2="332.18" stroke="#cfcfcf" stroke-width="0.7" />
<line x1="502.5" y1="345.77" x2="622.6" y2="345.77" stroke="#cfcfcf" stroke-width="0.7" />
<line x1="502.5" y1="359.36" x2="622.6" y2="359.36" stroke="#cfcfcf" stroke-width="0.7" />
<line x1="502.5" y1="372.95" x2="622.6" y2="372.95" stroke="#cfcfcf" stroke-width="0.7" />
<line x1="502.5" y1="386.54" x2="622.6" y2="386.54" stroke="#cfcfcf" stroke-width="0.7" />
<line x1="502.5" y1="400.13" x2="622.6" y2="400.13" stroke="#cfcfcf" stroke-width="0.7" />
<line x1="502.5" y1="413.72" x2="622.6" y2="413.72" stroke="#cfcfcf" stroke-width="0.7" />
<line x1="502.5" y1="427.31" x2="622.6" y2="427.31" stroke="#cfcfcf" stroke-width="0.7" />
<line x1="502.5" y1="440.9" x2="622.6" y2="440.9" stroke="#cfcfcf" stroke-width="0.7" />
<rect x="502.5" y="294.7" width="120.1" height="150.6" fill="none" stroke="#a0a0a0" stroke-width="0.8"/>
<rect x="534.21" y="299.24" width="4.8" height="4.8" fill="none" stroke="#e8787a" stroke-width="0.75"/>
<rect x="532.82" y="313.11" width="4.8" height="4.8" fill="none" stroke="#e8787a" stroke-width="0.75"/>
<rect x="536.43" y="313.11" width="4.8" height="4.8" fill="none" stroke="#e8787a" stroke-width="0.75"/>
<rect x="538.37" y="318.11" width="4.8" height="4.8" fill="none" stroke="#e8787a" stroke-width="0.75"/>
<rect x="543.92" y="317.27" width="4.8" height="4.8" fill="none" stroke="#e8787a" stroke-width="0.75"/>
<rect x="532.82" y="321.99" width="4.8" height="4.8" fill="none" stroke="#e8787a" stroke-width="0.75"/>
<rect x="554.18" y="319.22" width="4.8" height="4.8" fill="none" stroke="#e8787a" stroke-width="0.75"/>
<rect x="558.34" y="331.14" width="4.8" height="4.8" fill="none" stroke="#e8787a" stroke-width="0.75"/>
<rect x="526.44" y="337.52" width="4.8" height="4.8" fill="none" stroke="#e8787a" stroke-width="0.75"/>
<rect x="555.01" y="339.47" width="4.8" height="4.8" fill="none" stroke="#e8787a" stroke-width="0.75"/>
<rect x="574.43" y="358.05" width="4.8" height="4.8" fill="none" stroke="#e8787a" stroke-width="0.75"/>
<rect x="573.04" y="363.04" width="4.8" height="4.8" fill="none" stroke="#e8787a" stroke-width="0.75"/>
<rect x="575.82" y="365.82" width="4.8" height="4.8" fill="none" stroke="#e8787a" stroke-width="0.75"/>
<rect x="571.66" y="371.37" width="4.8" height="4.8" fill="none" stroke="#e8787a" stroke-width="0.75"/>
<rect x="577.2" y="371.37" width="4.8" height="4.8" fill="none" stroke="#e8787a" stroke-width="0.75"/>
<rect x="614.65" y="373.31" width="4.8" height="4.8" fill="none" stroke="#e8787a" stroke-width="0.75"/>
<rect x="595.24" y="373.31" width="4.8" height="4.8" fill="none" stroke="#e8787a" stroke-width="0.75"/>
<rect x="573.04" y="378.3" width="4.8" height="4.8" fill="none" stroke="#e8787a" stroke-width="0.75"/>
<rect x="570.27" y="383.29" width="4.8" height="4.8" fill="none" stroke="#e8787a" stroke-width="0.75"/>
<rect x="575.82" y="383.85" width="4.8" height="4.8" fill="none" stroke="#e8787a" stroke-width="0.75"/>
<rect x="578.04" y="386.62" width="4.8" height="4.8" fill="none" stroke="#e8787a" stroke-width="0.75"/>
<rect x="545.3" y="398.55" width="4.8" height="4.8" fill="none" stroke="#e8787a" stroke-width="0.75"/>
<rect x="569.72" y="406.04" width="4.8" height="4.8" fill="none" stroke="#e8787a" stroke-width="0.75"/>
<rect x="557.79" y="421.3" width="4.8" height="4.8" fill="none" stroke="#e8787a" stroke-width="0.75"/>
<rect x="529.49" y="426.29" width="4.8" height="4.8" fill="none" stroke="#e8787a" stroke-width="0.75"/>
<rect x="535.04" y="432.95" width="4.8" height="4.8" fill="none" stroke="#e8787a" stroke-width="0.75"/>
<rect x="505.08" y="436" width="4.8" height="4.8" fill="none" stroke="#e8787a" stroke-width="0.75"/>
<line x1="541.3" y1="427.3" x2="551.09" y2="341.25" stroke="#f28a2a" stroke-width="0.85" />
<path d="M551.61,336.68 L553.17,341.49 L551.19,340.36 L549,341.02Z" fill="#f28a2a"/>
<line x1="541.3" y1="427.3" x2="554.74" y2="351.69" stroke="#e02a2a" stroke-width="0.85" />
<path d="M555.54,347.16 L556.81,352.06 L554.9,350.8 L552.67,351.32Z" fill="#e02a2a"/>
<line x1="541.3" y1="427.3" x2="581.49" y2="385.87" stroke="#2e9aa8" stroke-width="0.85" />
<path d="M584.69,382.57 L582.99,387.33 L582.11,385.22 L579.98,384.41Z" fill="#2e9aa8"/>
<line x1="541.3" y1="427.3" x2="588.28" y2="391.47" stroke="#2a55f0" stroke-width="0.85" />
<path d="M591.93,388.68 L589.55,393.14 L588.99,390.92 L587,389.8Z" fill="#2a55f0"/>
<line x1="541.3" y1="427.3" x2="579.43" y2="405.83" stroke="#2d962d" stroke-width="0.85" />
<path d="M583.43,403.58 L580.46,407.66 L580.21,405.39 L578.4,404Z" fill="#2d962d"/>
<circle cx="551.9" cy="334.1" r="2.75" fill="#f28a2a"/>
<circle cx="556" cy="344.6" r="2.75" fill="#e02a2a"/>
<circle cx="586.5" cy="380.7" r="2.75" fill="#2e9aa8"/>
<circle cx="594" cy="387.1" r="2.75" fill="#2a55f0"/>
<circle cx="585.7" cy="402.3" r="2.75" fill="#2d962d"/>
<circle cx="541.3" cy="427.3" r="2.9" fill="#c23cf0"/>
<text transform="translate(569.3,324.6) scale(0.95,1)" font-size="8.1" text-anchor="middle" fill="#f08a28" stroke="#f08a28" stroke-width="0.1" >6.94</text>
<text transform="translate(556,331.5) scale(0.95,1)" font-size="8.1" text-anchor="middle" fill="#111" stroke="#111" stroke-width="0.1" >BA.2.86</text>
<text transform="translate(568.5,350.9) scale(0.95,1)" font-size="8.1" text-anchor="middle" fill="#111" stroke="#111" stroke-width="0.1" >JN.1</text>
<text transform="translate(569.3,360.7) scale(0.95,1)" font-size="8.1" text-anchor="middle" fill="#de2e2e" stroke="#de2e2e" stroke-width="0.1" >6.16</text>
<text transform="translate(590.1,370.4) scale(0.95,1)" font-size="8.1" text-anchor="middle" fill="#34a2b2" stroke="#34a2b2" stroke-width="0.1" >4.88</text>
<text transform="translate(588.8,377.9) scale(0.95,1)" font-size="8.1" text-anchor="middle" fill="#111" stroke="#111" stroke-width="0.1" >EG.5.1</text>
<text transform="translate(601,398.7) scale(0.95,1)" font-size="8.1" text-anchor="middle" fill="#111" stroke="#111" stroke-width="0.1" >HK.3</text>
<text transform="translate(600.4,407.5) scale(0.95,1)" font-size="8.1" text-anchor="middle" fill="#2d55f0" stroke="#2d55f0" stroke-width="0.1" >4.81</text>
<text transform="translate(593.5,415.9) scale(0.95,1)" font-size="8.1" text-anchor="middle" fill="#111" stroke="#111" stroke-width="0.1" >XBB.1</text>
<text transform="translate(590.1,424.5) scale(0.95,1)" font-size="8.1" text-anchor="middle" fill="#2a942a" stroke="#2a942a" stroke-width="0.1" >3.77</text>
<text transform="translate(549.9,436.7) scale(0.95,1)" font-size="8.1" text-anchor="middle" fill="#111" stroke="#111" stroke-width="0.1" >BA.2</text>
<text transform="translate(485.5,463) scale(0.92,1)" font-size="15.2" text-anchor="start" fill="#000" font-weight="bold" >h</text>
<rect x="514.9" y="464.1" width="104.6" height="90.9" fill="#ebebeb"/>
<line x1="537.95" y1="464.1" x2="537.95" y2="555" stroke="#f6f6f6" stroke-width="0.5" />
<line x1="559.6" y1="464.1" x2="559.6" y2="555" stroke="#f6f6f6" stroke-width="0.5" />
<line x1="581.7" y1="464.1" x2="581.7" y2="555" stroke="#f6f6f6" stroke-width="0.5" />
<line x1="603.6" y1="464.1" x2="603.6" y2="555" stroke="#f6f6f6" stroke-width="0.5" />
<line x1="514.9" y1="479.3" x2="619.5" y2="479.3" stroke="#f6f6f6" stroke-width="0.5" />
<line x1="514.9" y1="502.4" x2="619.5" y2="502.4" stroke="#f6f6f6" stroke-width="0.5" />
<line x1="514.9" y1="525.7" x2="619.5" y2="525.7" stroke="#f6f6f6" stroke-width="0.5" />
<line x1="514.9" y1="549" x2="619.5" y2="549" stroke="#f6f6f6" stroke-width="0.5" />
<line x1="526.9" y1="464.1" x2="526.9" y2="555" stroke="#ffffff" stroke-width="1.0" />
<line x1="549" y1="464.1" x2="549" y2="555" stroke="#ffffff" stroke-width="1.0" />
<line x1="570.2" y1="464.1" x2="570.2" y2="555" stroke="#ffffff" stroke-width="1.0" />
<line x1="593.2" y1="464.1" x2="593.2" y2="555" stroke="#ffffff" stroke-width="1.0" />
<line x1="614" y1="464.1" x2="614" y2="555" stroke="#ffffff" stroke-width="1.0" />
<line x1="514.9" y1="467.8" x2="619.5" y2="467.8" stroke="#ffffff" stroke-width="1.0" />
<line x1="514.9" y1="490.8" x2="619.5" y2="490.8" stroke="#ffffff" stroke-width="1.0" />
<line x1="514.9" y1="514" x2="619.5" y2="514" stroke="#ffffff" stroke-width="1.0" />
<line x1="514.9" y1="537.4" x2="619.5" y2="537.4" stroke="#ffffff" stroke-width="1.0" />
<text x="526.9" y="557.2" font-size="7.0" text-anchor="middle" fill="#4d4d4d" stroke="#4d4d4d" stroke-width="0.1" >-5.0</text>
<text x="549" y="557.2" font-size="7.0" text-anchor="middle" fill="#4d4d4d" stroke="#4d4d4d" stroke-width="0.1" >-2.5</text>
<text x="570.2" y="557.2" font-size="7.0" text-anchor="middle" fill="#4d4d4d" stroke="#4d4d4d" stroke-width="0.1" >0.0</text>
<text x="593.2" y="557.2" font-size="7.0" text-anchor="middle" fill="#4d4d4d" stroke="#4d4d4d" stroke-width="0.1" >2.5</text>
<text x="614" y="557.2" font-size="7.0" text-anchor="middle" fill="#4d4d4d" stroke="#4d4d4d" stroke-width="0.1" >5.0</text>
<text x="523.6" y="470.3" font-size="7.0" text-anchor="end" fill="#4d4d4d" stroke="#4d4d4d" stroke-width="0.1" >2.5</text>
<text x="523.6" y="493.3" font-size="7.0" text-anchor="end" fill="#4d4d4d" stroke="#4d4d4d" stroke-width="0.1" >0.0</text>
<text x="523.6" y="516.5" font-size="7.0" text-anchor="end" fill="#4d4d4d" stroke="#4d4d4d" stroke-width="0.1" >-2.5</text>
<text x="523.6" y="539.9" font-size="7.0" text-anchor="end" fill="#4d4d4d" stroke="#4d4d4d" stroke-width="0.1" >-5.0</text>
<text transform="translate(569.6,567.1) scale(0.95,1)" font-size="8.1" text-anchor="middle" fill="#111" stroke="#111" stroke-width="0.1" >PC1 (48.22%)</text>
<text transform="translate(510.5,507.9) rotate(-90)" font-size="8.1" text-anchor="middle" fill="#111" stroke="#111" stroke-width="0.1">PC2 (34.66%)</text>
<line x1="564.8" y1="551" x2="537.19" y2="476.93" stroke="#e02a2a" stroke-width="0.85" />
<path d="M535.58,472.62 L539.15,476.2 L536.87,476.09 L535.22,477.67Z" fill="#e02a2a"/>
<line x1="564.8" y1="551" x2="523.82" y2="485.28" stroke="#f28a2a" stroke-width="0.85" />
<path d="M521.38,481.38 L525.6,484.17 L523.34,484.52 L522.03,486.39Z" fill="#f28a2a"/>
<line x1="564.8" y1="551" x2="610.68" y2="474.84" stroke="#2e9aa8" stroke-width="0.85" />
<path d="M613.06,470.9 L612.48,475.92 L611.15,474.07 L608.88,473.76Z" fill="#2e9aa8"/>
<line x1="564.8" y1="551" x2="594.86" y2="489.35" stroke="#2a55f0" stroke-width="0.85" />
<path d="M596.87,485.22 L596.74,490.27 L595.25,488.54 L592.97,488.43Z" fill="#2a55f0"/>
<line x1="564.8" y1="551" x2="582.23" y2="509.62" stroke="#2d962d" stroke-width="0.85" />
<path d="M584.01,505.38 L584.16,510.43 L582.58,508.79 L580.29,508.8Z" fill="#2d962d"/>
<circle cx="534.6" cy="470" r="2.9" fill="#e02a2a"/>
<circle cx="519.9" cy="479" r="2.9" fill="#f28a2a"/>
<circle cx="614.5" cy="468.5" r="2.9" fill="#2e9aa8"/>
<circle cx="598.1" cy="482.7" r="2.9" fill="#2a55f0"/>
<circle cx="585.1" cy="502.8" r="2.9" fill="#2d962d"/>
<circle cx="564.8" cy="551.0" r="2.9" fill="#c23cf0"/>
<text transform="translate(538.5,472.7) scale(0.95,1)" font-size="8.1" text-anchor="start" fill="#111" stroke="#111" stroke-width="0.1" >JN.1</text>
<text transform="translate(514.4,487.6) scale(0.95,1)" font-size="8.1" text-anchor="start" fill="#111" stroke="#111" stroke-width="0.1" >BA.2.86</text>
<text transform="translate(610.3,471.7) scale(0.95,1)" font-size="8.1" text-anchor="end" fill="#111" stroke="#111" stroke-width="0.1" >EG.5.1</text>
<text transform="translate(593.2,486.7) scale(0.95,1)" font-size="8.1" text-anchor="end" fill="#111" stroke="#111" stroke-width="0.1" >HK.3</text>
<text transform="translate(580.1,505.7) scale(0.95,1)" font-size="8.1" text-anchor="end" fill="#111" stroke="#111" stroke-width="0.1" >XBB.1</text>
<text transform="translate(561,550.7) scale(0.95,1)" font-size="8.1" text-anchor="end" fill="#111" stroke="#111" stroke-width="0.1" >BA.2</text>
<text transform="translate(1.5,598.8) scale(0.92,1)" font-size="15.2" text-anchor="start" fill="#000" font-weight="bold" >i</text>
<line x1="33.2" y1="627.42" x2="33.2" y2="701.9" stroke="#666" stroke-width="0.9" />
<line x1="30" y1="701.9" x2="33.2" y2="701.9" stroke="#666" stroke-width="0.9" />
<text x="28.6" y="704.7" font-size="8.2" text-anchor="end" fill="#111" stroke="#111" stroke-width="0.1" >10<tspan font-size="5.4" dy="-2.8">1</tspan></text>
<line x1="30" y1="683.28" x2="33.2" y2="683.28" stroke="#666" stroke-width="0.9" />
<text x="28.6" y="686.08" font-size="8.2" text-anchor="end" fill="#111" stroke="#111" stroke-width="0.1" >10<tspan font-size="5.4" dy="-2.8">2</tspan></text>
<line x1="30" y1="664.66" x2="33.2" y2="664.66" stroke="#666" stroke-width="0.9" />
<text x="28.6" y="667.46" font-size="8.2" text-anchor="end" fill="#111" stroke="#111" stroke-width="0.1" >10<tspan font-size="5.4" dy="-2.8">3</tspan></text>
<line x1="30" y1="646.04" x2="33.2" y2="646.04" stroke="#666" stroke-width="0.9" />
<text x="28.6" y="648.84" font-size="8.2" text-anchor="end" fill="#111" stroke="#111" stroke-width="0.1" >10<tspan font-size="5.4" dy="-2.8">4</tspan></text>
<line x1="30" y1="627.42" x2="33.2" y2="627.42" stroke="#666" stroke-width="0.9" />
<text x="28.6" y="630.22" font-size="8.2" text-anchor="end" fill="#111" stroke="#111" stroke-width="0.1" >10<tspan font-size="5.4" dy="-2.8">5</tspan></text>
<line x1="30" y1="701.9" x2="152.7" y2="701.9" stroke="#bdbdbd" stroke-width="1.3" />
<text transform="translate(10.2,663.06) rotate(-90)" font-size="7.95" text-anchor="middle" fill="#111" stroke="#111" stroke-width="0.1">Reciprocal serum ID<tspan font-size="6.28" dy="1.6">50</tspan></text>
<line x1="41.3" y1="701.9" x2="41.3" y2="704.9" stroke="#222" stroke-width="0.9" />
<line x1="62.1" y1="701.9" x2="62.1" y2="704.9" stroke="#222" stroke-width="0.9" />
<line x1="82.5" y1="701.9" x2="82.5" y2="704.9" stroke="#222" stroke-width="0.9" />
<line x1="102.8" y1="701.9" x2="102.8" y2="704.9" stroke="#222" stroke-width="0.9" />
<line x1="123.2" y1="701.9" x2="123.2" y2="704.9" stroke="#222" stroke-width="0.9" />
<line x1="143.8" y1="701.9" x2="143.8" y2="704.9" stroke="#222" stroke-width="0.9" />
<text transform="translate(43.8,708.8) rotate(-90) scale(0.95,1)" font-size="8.6" text-anchor="end" fill="#111" stroke="#111" stroke-width="0.1">BA.2</text>
<text transform="translate(64.6,708.8) rotate(-90) scale(0.95,1)" font-size="8.6" text-anchor="end" fill="#111" stroke="#111" stroke-width="0.1">BA.2.86</text>
<text transform="translate(85,708.8) rotate(-90) scale(0.95,1)" font-size="8.6" text-anchor="end" fill="#111" stroke="#111" stroke-width="0.1">JN.1</text>
<text transform="translate(105.3,708.8) rotate(-90) scale(0.95,1)" font-size="8.6" text-anchor="end" fill="#111" stroke="#111" stroke-width="0.1">XBB.1</text>
<text transform="translate(125.7,708.8) rotate(-90) scale(0.95,1)" font-size="8.6" text-anchor="end" fill="#111" stroke="#111" stroke-width="0.1">EG.5.1</text>
<text transform="translate(146.3,708.8) rotate(-90) scale(0.95,1)" font-size="8.6" text-anchor="end" fill="#111" stroke="#111" stroke-width="0.1">HK.3</text>
<line x1="33.2" y1="696.29" x2="152.7" y2="696.29" stroke="#333" stroke-width="0.8" stroke-dasharray="1.6,1.0"/>
<text transform="translate(95.8,597.8) scale(0.95,1)" font-size="8.4" text-anchor="middle" fill="#111" stroke="#111" stroke-width="0.1" >BA.2 S-immunized mouse sera (n=8)</text>
<line x1="189.8" y1="627.42" x2="189.8" y2="701.9" stroke="#666" stroke-width="0.9" />
<line x1="186.6" y1="701.9" x2="189.8" y2="701.9" stroke="#666" stroke-width="0.9" />
<text x="185.2" y="704.7" font-size="8.2" text-anchor="end" fill="#111" stroke="#111" stroke-width="0.1" >10<tspan font-size="5.4" dy="-2.8">1</tspan></text>
<line x1="186.6" y1="683.28" x2="189.8" y2="683.28" stroke="#666" stroke-width="0.9" />
<text x="185.2" y="686.08" font-size="8.2" text-anchor="end" fill="#111" stroke="#111" stroke-width="0.1" >10<tspan font-size="5.4" dy="-2.8">2</tspan></text>
<line x1="186.6" y1="664.66" x2="189.8" y2="664.66" stroke="#666" stroke-width="0.9" />
<text x="185.2" y="667.46" font-size="8.2" text-anchor="end" fill="#111" stroke="#111" stroke-width="0.1" >10<tspan font-size="5.4" dy="-2.8">3</tspan></text>
<line x1="186.6" y1="646.04" x2="189.8" y2="646.04" stroke="#666" stroke-width="0.9" />
<text x="185.2" y="648.84" font-size="8.2" text-anchor="end" fill="#111" stroke="#111" stroke-width="0.1" >10<tspan font-size="5.4" dy="-2.8">4</tspan></text>
<line x1="186.6" y1="627.42" x2="189.8" y2="627.42" stroke="#666" stroke-width="0.9" />
<text x="185.2" y="630.22" font-size="8.2" text-anchor="end" fill="#111" stroke="#111" stroke-width="0.1" >10<tspan font-size="5.4" dy="-2.8">5</tspan></text>
<line x1="186.6" y1="701.9" x2="309.3" y2="701.9" stroke="#bdbdbd" stroke-width="1.3" />
<text transform="translate(166.8,663.06) rotate(-90)" font-size="7.95" text-anchor="middle" fill="#111" stroke="#111" stroke-width="0.1">Reciprocal serum ID<tspan font-size="6.28" dy="1.6">50</tspan></text>
<line x1="197.9" y1="701.9" x2="197.9" y2="704.9" stroke="#222" stroke-width="0.9" />
<line x1="218.7" y1="701.9" x2="218.7" y2="704.9" stroke="#222" stroke-width="0.9" />
<line x1="239.1" y1="701.9" x2="239.1" y2="704.9" stroke="#222" stroke-width="0.9" />
<line x1="259.4" y1="701.9" x2="259.4" y2="704.9" stroke="#222" stroke-width="0.9" />
<line x1="279.8" y1="701.9" x2="279.8" y2="704.9" stroke="#222" stroke-width="0.9" />
<line x1="300.4" y1="701.9" x2="300.4" y2="704.9" stroke="#222" stroke-width="0.9" />
<text transform="translate(200.4,708.8) rotate(-90) scale(0.95,1)" font-size="8.6" text-anchor="end" fill="#111" stroke="#111" stroke-width="0.1">BA.2</text>
<text transform="translate(221.2,708.8) rotate(-90) scale(0.95,1)" font-size="8.6" text-anchor="end" fill="#111" stroke="#111" stroke-width="0.1">BA.2.86</text>
<text transform="translate(241.6,708.8) rotate(-90) scale(0.95,1)" font-size="8.6" text-anchor="end" fill="#111" stroke="#111" stroke-width="0.1">JN.1</text>
<text transform="translate(261.9,708.8) rotate(-90) scale(0.95,1)" font-size="8.6" text-anchor="end" fill="#111" stroke="#111" stroke-width="0.1">XBB.1</text>
<text transform="translate(282.3,708.8) rotate(-90) scale(0.95,1)" font-size="8.6" text-anchor="end" fill="#111" stroke="#111" stroke-width="0.1">EG.5.1</text>
<text transform="translate(302.9,708.8) rotate(-90) scale(0.95,1)" font-size="8.6" text-anchor="end" fill="#111" stroke="#111" stroke-width="0.1">HK.3</text>
<line x1="189.8" y1="696.29" x2="309.3" y2="696.29" stroke="#333" stroke-width="0.8" stroke-dasharray="1.6,1.0"/>
<text transform="translate(249.9,597.8) scale(0.95,1)" font-size="8.4" text-anchor="middle" fill="#111" stroke="#111" stroke-width="0.1" >BA.2.86 S-immunized mouse sera (n=8)</text>
<line x1="346.6" y1="627.42" x2="346.6" y2="701.9" stroke="#666" stroke-width="0.9" />
<line x1="343.4" y1="701.9" x2="346.6" y2="701.9" stroke="#666" stroke-width="0.9" />
<text x="342" y="704.7" font-size="8.2" text-anchor="end" fill="#111" stroke="#111" stroke-width="0.1" >10<tspan font-size="5.4" dy="-2.8">1</tspan></text>
<line x1="343.4" y1="683.28" x2="346.6" y2="683.28" stroke="#666" stroke-width="0.9" />
<text x="342" y="686.08" font-size="8.2" text-anchor="end" fill="#111" stroke="#111" stroke-width="0.1" >10<tspan font-size="5.4" dy="-2.8">2</tspan></text>
<line x1="343.4" y1="664.66" x2="346.6" y2="664.66" stroke="#666" stroke-width="0.9" />
<text x="342" y="667.46" font-size="8.2" text-anchor="end" fill="#111" stroke="#111" stroke-width="0.1" >10<tspan font-size="5.4" dy="-2.8">3</tspan></text>
<line x1="343.4" y1="646.04" x2="346.6" y2="646.04" stroke="#666" stroke-width="0.9" />
<text x="342" y="648.84" font-size="8.2" text-anchor="end" fill="#111" stroke="#111" stroke-width="0.1" >10<tspan font-size="5.4" dy="-2.8">4</tspan></text>
<line x1="343.4" y1="627.42" x2="346.6" y2="627.42" stroke="#666" stroke-width="0.9" />
<text x="342" y="630.22" font-size="8.2" text-anchor="end" fill="#111" stroke="#111" stroke-width="0.1" >10<tspan font-size="5.4" dy="-2.8">5</tspan></text>
<line x1="343.4" y1="701.9" x2="466.1" y2="701.9" stroke="#bdbdbd" stroke-width="1.3" />
<text transform="translate(323.6,663.06) rotate(-90)" font-size="7.95" text-anchor="middle" fill="#111" stroke="#111" stroke-width="0.1">Reciprocal serum ID<tspan font-size="6.28" dy="1.6">50</tspan></text>
<line x1="354.7" y1="701.9" x2="354.7" y2="704.9" stroke="#222" stroke-width="0.9" />
<line x1="375.5" y1="701.9" x2="375.5" y2="704.9" stroke="#222" stroke-width="0.9" />
<line x1="395.9" y1="701.9" x2="395.9" y2="704.9" stroke="#222" stroke-width="0.9" />
<line x1="416.2" y1="701.9" x2="416.2" y2="704.9" stroke="#222" stroke-width="0.9" />
<line x1="436.6" y1="701.9" x2="436.6" y2="704.9" stroke="#222" stroke-width="0.9" />
<line x1="457.2" y1="701.9" x2="457.2" y2="704.9" stroke="#222" stroke-width="0.9" />
<text transform="translate(357.2,708.8) rotate(-90) scale(0.95,1)" font-size="8.6" text-anchor="end" fill="#111" stroke="#111" stroke-width="0.1">BA.2</text>
<text transform="translate(378,708.8) rotate(-90) scale(0.95,1)" font-size="8.6" text-anchor="end" fill="#111" stroke="#111" stroke-width="0.1">BA.2.86</text>
<text transform="translate(398.4,708.8) rotate(-90) scale(0.95,1)" font-size="8.6" text-anchor="end" fill="#111" stroke="#111" stroke-width="0.1">JN.1</text>
<text transform="translate(418.7,708.8) rotate(-90) scale(0.95,1)" font-size="8.6" text-anchor="end" fill="#111" stroke="#111" stroke-width="0.1">XBB.1</text>
<text transform="translate(439.1,708.8) rotate(-90) scale(0.95,1)" font-size="8.6" text-anchor="end" fill="#111" stroke="#111" stroke-width="0.1">EG.5.1</text>
<text transform="translate(459.7,708.8) rotate(-90) scale(0.95,1)" font-size="8.6" text-anchor="end" fill="#111" stroke="#111" stroke-width="0.1">HK.3</text>
<line x1="346.6" y1="696.29" x2="466.1" y2="696.29" stroke="#333" stroke-width="0.8" stroke-dasharray="1.6,1.0"/>
<text transform="translate(404.8,597.8) scale(0.95,1)" font-size="8.4" text-anchor="middle" fill="#111" stroke="#111" stroke-width="0.1" >JN.1 S-immunized mouse sera (n=8)</text>
<line x1="503.5" y1="627.42" x2="503.5" y2="701.9" stroke="#666" stroke-width="0.9" />
<line x1="500.3" y1="701.9" x2="503.5" y2="701.9" stroke="#666" stroke-width="0.9" />
<text x="498.9" y="704.7" font-size="8.2" text-anchor="end" fill="#111" stroke="#111" stroke-width="0.1" >10<tspan font-size="5.4" dy="-2.8">1</tspan></text>
<line x1="500.3" y1="683.28" x2="503.5" y2="683.28" stroke="#666" stroke-width="0.9" />
<text x="498.9" y="686.08" font-size="8.2" text-anchor="end" fill="#111" stroke="#111" stroke-width="0.1" >10<tspan font-size="5.4" dy="-2.8">2</tspan></text>
<line x1="500.3" y1="664.66" x2="503.5" y2="664.66" stroke="#666" stroke-width="0.9" />
<text x="498.9" y="667.46" font-size="8.2" text-anchor="end" fill="#111" stroke="#111" stroke-width="0.1" >10<tspan font-size="5.4" dy="-2.8">3</tspan></text>
<line x1="500.3" y1="646.04" x2="503.5" y2="646.04" stroke="#666" stroke-width="0.9" />
<text x="498.9" y="648.84" font-size="8.2" text-anchor="end" fill="#111" stroke="#111" stroke-width="0.1" >10<tspan font-size="5.4" dy="-2.8">4</tspan></text>
<line x1="500.3" y1="627.42" x2="503.5" y2="627.42" stroke="#666" stroke-width="0.9" />
<text x="498.9" y="630.22" font-size="8.2" text-anchor="end" fill="#111" stroke="#111" stroke-width="0.1" >10<tspan font-size="5.4" dy="-2.8">5</tspan></text>
<line x1="500.3" y1="701.9" x2="623" y2="701.9" stroke="#bdbdbd" stroke-width="1.3" />
<text transform="translate(480.5,663.06) rotate(-90)" font-size="7.95" text-anchor="middle" fill="#111" stroke="#111" stroke-width="0.1">Reciprocal serum ID<tspan font-size="6.28" dy="1.6">50</tspan></text>
<line x1="511.6" y1="701.9" x2="511.6" y2="704.9" stroke="#222" stroke-width="0.9" />
<line x1="532.4" y1="701.9" x2="532.4" y2="704.9" stroke="#222" stroke-width="0.9" />
<line x1="552.8" y1="701.9" x2="552.8" y2="704.9" stroke="#222" stroke-width="0.9" />
<line x1="573.1" y1="701.9" x2="573.1" y2="704.9" stroke="#222" stroke-width="0.9" />
<line x1="593.5" y1="701.9" x2="593.5" y2="704.9" stroke="#222" stroke-width="0.9" />
<line x1="614.1" y1="701.9" x2="614.1" y2="704.9" stroke="#222" stroke-width="0.9" />
<text transform="translate(514.1,708.8) rotate(-90) scale(0.95,1)" font-size="8.6" text-anchor="end" fill="#111" stroke="#111" stroke-width="0.1">BA.2</text>
<text transform="translate(534.9,708.8) rotate(-90) scale(0.95,1)" font-size="8.6" text-anchor="end" fill="#111" stroke="#111" stroke-width="0.1">BA.2.86</text>
<text transform="translate(555.3,708.8) rotate(-90) scale(0.95,1)" font-size="8.6" text-anchor="end" fill="#111" stroke="#111" stroke-width="0.1">JN.1</text>
<text transform="translate(575.6,708.8) rotate(-90) scale(0.95,1)" font-size="8.6" text-anchor="end" fill="#111" stroke="#111" stroke-width="0.1">XBB.1</text>
<text transform="translate(596,708.8) rotate(-90) scale(0.95,1)" font-size="8.6" text-anchor="end" fill="#111" stroke="#111" stroke-width="0.1">EG.5.1</text>
<text transform="translate(616.6,708.8) rotate(-90) scale(0.95,1)" font-size="8.6" text-anchor="end" fill="#111" stroke="#111" stroke-width="0.1">HK.3</text>
<line x1="503.5" y1="696.29" x2="623" y2="696.29" stroke="#333" stroke-width="0.8" stroke-dasharray="1.6,1.0"/>
<text transform="translate(559.4,597.8) scale(0.95,1)" font-size="8.4" text-anchor="middle" fill="#111" stroke="#111" stroke-width="0.1" >XBB.1 S-immunized mouse sera (n=8)</text>
<text transform="translate(12,609) scale(0.95,1)" font-size="8.1" text-anchor="start" fill="#f08a28" stroke="#f08a28" stroke-width="0.1" >****<tspan font-style="italic">p</tspan>&lt;0.0001</text>
<text transform="translate(58.3,609) scale(0.95,1)" font-size="8.1" text-anchor="start" fill="#de2e2e" stroke="#de2e2e" stroke-width="0.1" >****<tspan font-style="italic">p</tspan>&lt;0.0001</text>
<text transform="translate(111,609) scale(0.95,1)" font-size="8.1" text-anchor="middle" fill="#2a942a" stroke="#2a942a" stroke-width="0.1" >NS</text>
<text transform="translate(125.3,609) scale(0.95,1)" font-size="8.1" text-anchor="middle" fill="#34a2b2" stroke="#34a2b2" stroke-width="0.1" >NS</text>
<text transform="translate(145.1,609) scale(0.95,1)" font-size="8.1" text-anchor="middle" fill="#2d55f0" stroke="#2d55f0" stroke-width="0.1" >NS</text>
<text transform="translate(59.5,616.9) scale(0.95,1)" font-size="8.1" text-anchor="middle" fill="#f08a28" stroke="#f08a28" stroke-width="0.1" >163.4x</text>
<text transform="translate(83.9,616.9) scale(0.95,1)" font-size="8.1" text-anchor="middle" fill="#de2e2e" stroke="#de2e2e" stroke-width="0.1" >163.4x</text>
<text transform="translate(107,616.9) scale(0.95,1)" font-size="8.1" text-anchor="middle" fill="#2a942a" stroke="#2a942a" stroke-width="0.1" >26.8x</text>
<text transform="translate(128.6,616.9) scale(0.95,1)" font-size="8.1" text-anchor="middle" fill="#34a2b2" stroke="#34a2b2" stroke-width="0.1" >21.7x</text>
<text transform="translate(149.2,616.9) scale(0.95,1)" font-size="8.1" text-anchor="middle" fill="#2d55f0" stroke="#2d55f0" stroke-width="0.1" >23.5x</text>
<text transform="translate(40.8,626.9) scale(0.95,1)" font-size="8.1" text-anchor="middle" fill="#c236f0" stroke="#c236f0" stroke-width="0.1" >3267</text>
<text transform="translate(61.7,626.9) scale(0.95,1)" font-size="8.1" text-anchor="middle" fill="#f08a28" stroke="#f08a28" stroke-width="0.1" >20</text>
<text transform="translate(81.5,626.9) scale(0.95,1)" font-size="8.1" text-anchor="middle" fill="#de2e2e" stroke="#de2e2e" stroke-width="0.1" >20</text>
<text transform="translate(103.5,626.9) scale(0.95,1)" font-size="8.1" text-anchor="middle" fill="#2a942a" stroke="#2a942a" stroke-width="0.1" >122</text>
<text transform="translate(124.2,626.9) scale(0.95,1)" font-size="8.1" text-anchor="middle" fill="#34a2b2" stroke="#34a2b2" stroke-width="0.1" >150</text>
<text transform="translate(144.8,626.9) scale(0.95,1)" font-size="8.1" text-anchor="middle" fill="#2d55f0" stroke="#2d55f0" stroke-width="0.1" >139</text>
<text transform="translate(238.6,609) scale(0.95,1)" font-size="8.1" text-anchor="middle" fill="#de2e2e" stroke="#de2e2e" stroke-width="0.1" >NS</text>
<text transform="translate(239.3,616.9) scale(0.95,1)" font-size="8.1" text-anchor="middle" fill="#de2e2e" stroke="#de2e2e" stroke-width="0.1" >2.1x</text>
<text transform="translate(197.2,626.9) scale(0.95,1)" font-size="8.1" text-anchor="middle" fill="#c236f0" stroke="#c236f0" stroke-width="0.1" >24</text>
<text transform="translate(217.6,626.9) scale(0.95,1)" font-size="8.1" text-anchor="middle" fill="#f08a28" stroke="#f08a28" stroke-width="0.1" >3309</text>
<text transform="translate(238.6,626.9) scale(0.95,1)" font-size="8.1" text-anchor="middle" fill="#de2e2e" stroke="#de2e2e" stroke-width="0.1" >1598</text>
<text transform="translate(258.9,626.9) scale(0.95,1)" font-size="8.1" text-anchor="middle" fill="#2a942a" stroke="#2a942a" stroke-width="0.1" >24</text>
<text transform="translate(279.5,626.9) scale(0.95,1)" font-size="8.1" text-anchor="middle" fill="#34a2b2" stroke="#34a2b2" stroke-width="0.1" >24</text>
<text transform="translate(300.5,626.9) scale(0.95,1)" font-size="8.1" text-anchor="middle" fill="#2d55f0" stroke="#2d55f0" stroke-width="0.1" >28</text>
<text transform="translate(375.2,609) scale(0.95,1)" font-size="8.1" text-anchor="middle" fill="#f08a28" stroke="#f08a28" stroke-width="0.1" >NS</text>
<text transform="translate(375.9,616.9) scale(0.95,1)" font-size="8.1" text-anchor="middle" fill="#f08a28" stroke="#f08a28" stroke-width="0.1" >2.4x</text>
<text transform="translate(353.5,626.9) scale(0.95,1)" font-size="8.1" text-anchor="middle" fill="#c236f0" stroke="#c236f0" stroke-width="0.1" >20</text>
<text transform="translate(374.5,626.9) scale(0.95,1)" font-size="8.1" text-anchor="middle" fill="#f08a28" stroke="#f08a28" stroke-width="0.1" >136</text>
<text transform="translate(395.1,626.9) scale(0.95,1)" font-size="8.1" text-anchor="middle" fill="#de2e2e" stroke="#de2e2e" stroke-width="0.1" >333</text>
<text transform="translate(416.1,626.9) scale(0.95,1)" font-size="8.1" text-anchor="middle" fill="#2a942a" stroke="#2a942a" stroke-width="0.1" >20</text>
<text transform="translate(436.7,626.9) scale(0.95,1)" font-size="8.1" text-anchor="middle" fill="#34a2b2" stroke="#34a2b2" stroke-width="0.1" >20</text>
<text transform="translate(457.7,626.9) scale(0.95,1)" font-size="8.1" text-anchor="middle" fill="#2d55f0" stroke="#2d55f0" stroke-width="0.1" >20</text>
<text transform="translate(501,609) scale(0.95,1)" font-size="8.1" text-anchor="middle" fill="#c236f0" stroke="#c236f0" stroke-width="0.1" >NS</text>
<text transform="translate(507.6,609) scale(0.95,1)" font-size="8.1" text-anchor="start" fill="#f08a28" stroke="#f08a28" stroke-width="0.1" >**<tspan font-style="italic">p</tspan>=0.0061</text>
<text transform="translate(546.6,609) scale(0.95,1)" font-size="8.1" text-anchor="start" fill="#de2e2e" stroke="#de2e2e" stroke-width="0.1" >*<tspan font-style="italic">p</tspan>=0.0291</text>
<text transform="translate(593.9,609) scale(0.95,1)" font-size="8.1" text-anchor="middle" fill="#34a2b2" stroke="#34a2b2" stroke-width="0.1" >NS</text>
<text transform="translate(614.1,609) scale(0.95,1)" font-size="8.1" text-anchor="middle" fill="#2d55f0" stroke="#2d55f0" stroke-width="0.1" >NS</text>
<text transform="translate(508.6,616.9) scale(0.95,1)" font-size="8.1" text-anchor="middle" fill="#c236f0" stroke="#c236f0" stroke-width="0.1" >2.0x</text>
<text transform="translate(531.4,616.9) scale(0.95,1)" font-size="8.1" text-anchor="middle" fill="#f08a28" stroke="#f08a28" stroke-width="0.1" >7.2x</text>
<text transform="translate(554.5,616.9) scale(0.95,1)" font-size="8.1" text-anchor="middle" fill="#de2e2e" stroke="#de2e2e" stroke-width="0.1" >5.5x</text>
<text transform="translate(594.5,616.9) scale(0.95,1)" font-size="8.1" text-anchor="middle" fill="#34a2b2" stroke="#34a2b2" stroke-width="0.1" >1.3x</text>
<text transform="translate(614.7,616.9) scale(0.95,1)" font-size="8.1" text-anchor="middle" fill="#2d55f0" stroke="#2d55f0" stroke-width="0.1" >1.6x</text>
<text transform="translate(511,626.9) scale(0.95,1)" font-size="8.1" text-anchor="middle" fill="#c236f0" stroke="#c236f0" stroke-width="0.1" >95</text>
<text transform="translate(532,626.9) scale(0.95,1)" font-size="8.1" text-anchor="middle" fill="#f08a28" stroke="#f08a28" stroke-width="0.1" >26</text>
<text transform="translate(552.4,626.9) scale(0.95,1)" font-size="8.1" text-anchor="middle" fill="#de2e2e" stroke="#de2e2e" stroke-width="0.1" >34</text>
<text transform="translate(573.4,626.9) scale(0.95,1)" font-size="8.1" text-anchor="middle" fill="#2a942a" stroke="#2a942a" stroke-width="0.1" >186</text>
<text transform="translate(593.9,626.9) scale(0.95,1)" font-size="8.1" text-anchor="middle" fill="#34a2b2" stroke="#34a2b2" stroke-width="0.1" >146</text>
<text transform="translate(614.1,626.9) scale(0.95,1)" font-size="8.1" text-anchor="middle" fill="#2d55f0" stroke="#2d55f0" stroke-width="0.1" >120</text>
<circle cx="41.86" cy="645.91" r="1.55" fill="#c23cf0"/>
<circle cx="41.86" cy="650.66" r="1.55" fill="#c23cf0"/>
<circle cx="38.76" cy="654.67" r="1.55" fill="#c23cf0"/>
<circle cx="41.31" cy="655.04" r="1.55" fill="#c23cf0"/>
<circle cx="44.23" cy="655.04" r="1.55" fill="#c23cf0"/>
<circle cx="38.76" cy="657.41" r="1.55" fill="#c23cf0"/>
<circle cx="41.31" cy="658.32" r="1.55" fill="#c23cf0"/>
<circle cx="44.23" cy="660.15" r="1.55" fill="#c23cf0"/>
<circle cx="38.76" cy="660.51" r="1.55" fill="#c23cf0"/>
<circle cx="102.99" cy="659.23" r="1.55" fill="#2d962d"/>
<circle cx="102.99" cy="663.43" r="1.55" fill="#2d962d"/>
<circle cx="102.99" cy="681.68" r="1.55" fill="#2d962d"/>
<circle cx="100.8" cy="684.78" r="1.55" fill="#2d962d"/>
<circle cx="103.91" cy="685.33" r="1.55" fill="#2d962d"/>
<circle cx="105.73" cy="687.15" r="1.55" fill="#2d962d"/>
<circle cx="101.53" cy="696.28" r="1.55" fill="#2d962d"/>
<circle cx="104.45" cy="696.28" r="1.55" fill="#2d962d"/>
<circle cx="120.88" cy="659.23" r="1.55" fill="#2e9aa8"/>
<circle cx="126.35" cy="657.41" r="1.55" fill="#2e9aa8"/>
<circle cx="123.43" cy="674.38" r="1.55" fill="#2e9aa8"/>
<circle cx="120.88" cy="684.78" r="1.55" fill="#2e9aa8"/>
<circle cx="126.35" cy="684.78" r="1.55" fill="#2e9aa8"/>
<circle cx="123.43" cy="688.43" r="1.55" fill="#2e9aa8"/>
<circle cx="120.88" cy="696.28" r="1.55" fill="#2e9aa8"/>
<circle cx="126.35" cy="696.28" r="1.55" fill="#2e9aa8"/>
<circle cx="144.05" cy="657.41" r="1.55" fill="#2a55f0"/>
<circle cx="144.05" cy="664.34" r="1.55" fill="#2a55f0"/>
<circle cx="144.05" cy="676.2" r="1.55" fill="#2a55f0"/>
<circle cx="141.31" cy="683.5" r="1.55" fill="#2a55f0"/>
<circle cx="141.68" cy="687.15" r="1.55" fill="#2a55f0"/>
<circle cx="146.79" cy="685.33" r="1.55" fill="#2a55f0"/>
<circle cx="141.31" cy="696.28" r="1.55" fill="#2a55f0"/>
<circle cx="146.79" cy="696.28" r="1.55" fill="#2a55f0"/>
<rect x="58.83" y="695.08" width="7.3" height="2.4" rx="1.2" fill="#f28a2a"/>
<rect x="78.91" y="695.08" width="7.66" height="2.4" rx="1.2" fill="#e02a2a"/>
<line x1="36.81" y1="655.22" x2="45.81" y2="655.22" stroke="#333" stroke-width="0.8" />
<line x1="98.49" y1="681.68" x2="107.49" y2="681.68" stroke="#333" stroke-width="0.8" />
<line x1="118.93" y1="680.22" x2="127.93" y2="680.22" stroke="#333" stroke-width="0.8" />
<line x1="139.55" y1="680.58" x2="148.55" y2="680.58" stroke="#333" stroke-width="0.8" />
<circle cx="197.95" cy="683.5" r="1.55" fill="#c23cf0"/>
<circle cx="218.39" cy="645.55" r="1.55" fill="#f28a2a"/>
<circle cx="215.83" cy="652.48" r="1.55" fill="#f28a2a"/>
<circle cx="221.31" cy="651.02" r="1.55" fill="#f28a2a"/>
<circle cx="218.39" cy="654.31" r="1.55" fill="#f28a2a"/>
<circle cx="218.39" cy="657.96" r="1.55" fill="#f28a2a"/>
<circle cx="215.83" cy="657.41" r="1.55" fill="#f28a2a"/>
<circle cx="218.39" cy="661.06" r="1.55" fill="#f28a2a"/>
<circle cx="218.39" cy="665.62" r="1.55" fill="#f28a2a"/>
<circle cx="239.01" cy="651.02" r="1.55" fill="#e02a2a"/>
<circle cx="237.73" cy="657.41" r="1.55" fill="#e02a2a"/>
<circle cx="240.28" cy="657.96" r="1.55" fill="#e02a2a"/>
<circle cx="236.27" cy="661.61" r="1.55" fill="#e02a2a"/>
<circle cx="241.74" cy="661.06" r="1.55" fill="#e02a2a"/>
<circle cx="239.01" cy="663.8" r="1.55" fill="#e02a2a"/>
<circle cx="236.27" cy="665.26" r="1.55" fill="#e02a2a"/>
<circle cx="239.01" cy="668.91" r="1.55" fill="#e02a2a"/>
<circle cx="259.63" cy="686.06" r="1.55" fill="#2d962d"/>
<circle cx="280.07" cy="683.5" r="1.55" fill="#2e9aa8"/>
<circle cx="300.5" cy="683.5" r="1.55" fill="#2a55f0"/>
<circle cx="300.5" cy="688.43" r="1.55" fill="#2a55f0"/>
<rect x="194.3" y="695.08" width="8.21" height="2.4" rx="1.2" fill="#c23cf0"/>
<rect x="255.43" y="695.08" width="8.21" height="2.4" rx="1.2" fill="#2d962d"/>
<rect x="276.05" y="695.08" width="8.03" height="2.4" rx="1.2" fill="#2e9aa8"/>
<rect x="296.49" y="695.08" width="8.21" height="2.4" rx="1.2" fill="#2a55f0"/>
<line x1="193.45" y1="694.45" x2="202.45" y2="694.45" stroke="#333" stroke-width="0.8" />
<line x1="213.89" y1="655.22" x2="222.89" y2="655.22" stroke="#333" stroke-width="0.8" />
<line x1="234.51" y1="661.42" x2="243.51" y2="661.42" stroke="#333" stroke-width="0.8" />
<line x1="255.13" y1="694.82" x2="264.13" y2="694.82" stroke="#333" stroke-width="0.8" />
<line x1="275.57" y1="694.45" x2="284.57" y2="694.45" stroke="#333" stroke-width="0.8" />
<line x1="296" y1="693.36" x2="305" y2="693.36" stroke="#333" stroke-width="0.8" />
<circle cx="374.93" cy="651.02" r="1.55" fill="#f28a2a"/>
<circle cx="374.93" cy="671.09" r="1.55" fill="#f28a2a"/>
<circle cx="372.56" cy="677.48" r="1.55" fill="#f28a2a"/>
<circle cx="374.93" cy="681.13" r="1.55" fill="#f28a2a"/>
<circle cx="377.67" cy="680.22" r="1.55" fill="#f28a2a"/>
<circle cx="375.48" cy="693.36" r="1.55" fill="#f28a2a"/>
<circle cx="372.56" cy="696.28" r="1.55" fill="#f28a2a"/>
<circle cx="377.67" cy="696.28" r="1.55" fill="#f28a2a"/>
<circle cx="395.55" cy="645.91" r="1.55" fill="#e02a2a"/>
<circle cx="395.55" cy="661.61" r="1.55" fill="#e02a2a"/>
<circle cx="395.55" cy="665.99" r="1.55" fill="#e02a2a"/>
<circle cx="395.55" cy="669.27" r="1.55" fill="#e02a2a"/>
<circle cx="395.55" cy="674.38" r="1.55" fill="#e02a2a"/>
<circle cx="395.55" cy="684.23" r="1.55" fill="#e02a2a"/>
<circle cx="395.55" cy="692.08" r="1.55" fill="#e02a2a"/>
<circle cx="395.55" cy="696.28" r="1.55" fill="#e02a2a"/>
<rect x="350.66" y="695.08" width="7.85" height="2.4" rx="1.2" fill="#c23cf0"/>
<rect x="411.98" y="695.08" width="8.03" height="2.4" rx="1.2" fill="#2d962d"/>
<rect x="432.42" y="695.08" width="8.21" height="2.4" rx="1.2" fill="#2e9aa8"/>
<rect x="452.85" y="695.08" width="8.39" height="2.4" rx="1.2" fill="#2a55f0"/>
<line x1="370.43" y1="681.13" x2="379.43" y2="681.13" stroke="#333" stroke-width="0.8" />
<line x1="391.05" y1="673.47" x2="400.05" y2="673.47" stroke="#333" stroke-width="0.8" />
<circle cx="511.86" cy="659.78" r="1.55" fill="#c23cf0"/>
<circle cx="511.86" cy="667.45" r="1.55" fill="#c23cf0"/>
<circle cx="510.58" cy="683.5" r="1.55" fill="#c23cf0"/>
<circle cx="513.14" cy="682.96" r="1.55" fill="#c23cf0"/>
<circle cx="511.86" cy="688.98" r="1.55" fill="#c23cf0"/>
<circle cx="511.86" cy="693.91" r="1.55" fill="#c23cf0"/>
<circle cx="509.12" cy="696.28" r="1.55" fill="#c23cf0"/>
<circle cx="514.23" cy="696.28" r="1.55" fill="#c23cf0"/>
<circle cx="531.93" cy="679.85" r="1.55" fill="#f28a2a"/>
<circle cx="552.55" cy="667.45" r="1.55" fill="#e02a2a"/>
<circle cx="551.46" cy="693.91" r="1.55" fill="#e02a2a"/>
<circle cx="572.08" cy="659.23" r="1.55" fill="#2d962d"/>
<circle cx="573.91" cy="659.23" r="1.55" fill="#2d962d"/>
<circle cx="570.8" cy="682.04" r="1.55" fill="#2d962d"/>
<circle cx="572.99" cy="682.96" r="1.55" fill="#2d962d"/>
<circle cx="575.18" cy="683.87" r="1.55" fill="#2d962d"/>
<circle cx="571.53" cy="684.23" r="1.55" fill="#2d962d"/>
<circle cx="574.45" cy="684.23" r="1.55" fill="#2d962d"/>
<circle cx="572.99" cy="693.36" r="1.55" fill="#2d962d"/>
<circle cx="593.43" cy="654.67" r="1.55" fill="#2e9aa8"/>
<circle cx="593.43" cy="662.34" r="1.55" fill="#2e9aa8"/>
<circle cx="593.43" cy="679.31" r="1.55" fill="#2e9aa8"/>
<circle cx="592.15" cy="682.96" r="1.55" fill="#2e9aa8"/>
<circle cx="595.8" cy="683.87" r="1.55" fill="#2e9aa8"/>
<circle cx="593.43" cy="686.61" r="1.55" fill="#2e9aa8"/>
<circle cx="594.53" cy="694.45" r="1.55" fill="#2e9aa8"/>
<circle cx="592.15" cy="696.28" r="1.55" fill="#2e9aa8"/>
<circle cx="614.05" cy="657.41" r="1.55" fill="#2a55f0"/>
<circle cx="614.05" cy="664.34" r="1.55" fill="#2a55f0"/>
<circle cx="611.68" cy="684.78" r="1.55" fill="#2a55f0"/>
<circle cx="614.05" cy="685.69" r="1.55" fill="#2a55f0"/>
<circle cx="616.42" cy="684.23" r="1.55" fill="#2a55f0"/>
<circle cx="613.14" cy="686.61" r="1.55" fill="#2a55f0"/>
<circle cx="611.68" cy="696.28" r="1.55" fill="#2a55f0"/>
<circle cx="614.96" cy="696.28" r="1.55" fill="#2a55f0"/>
<rect x="528.83" y="695.08" width="7.3" height="2.4" rx="1.2" fill="#f28a2a"/>
<rect x="549.27" y="695.08" width="7.3" height="2.4" rx="1.2" fill="#e02a2a"/>
<line x1="506.81" y1="683.5" x2="515.81" y2="683.5" stroke="#333" stroke-width="0.8" />
<line x1="527.43" y1="694.45" x2="536.43" y2="694.45" stroke="#333" stroke-width="0.8" />
<line x1="548.05" y1="692.45" x2="557.05" y2="692.45" stroke="#333" stroke-width="0.8" />
<line x1="568.49" y1="678.39" x2="577.49" y2="678.39" stroke="#333" stroke-width="0.8" />
<line x1="588.93" y1="680.22" x2="597.93" y2="680.22" stroke="#333" stroke-width="0.8" />
<line x1="609.55" y1="681.68" x2="618.55" y2="681.68" stroke="#333" stroke-width="0.8" />
</svg></body></html>
